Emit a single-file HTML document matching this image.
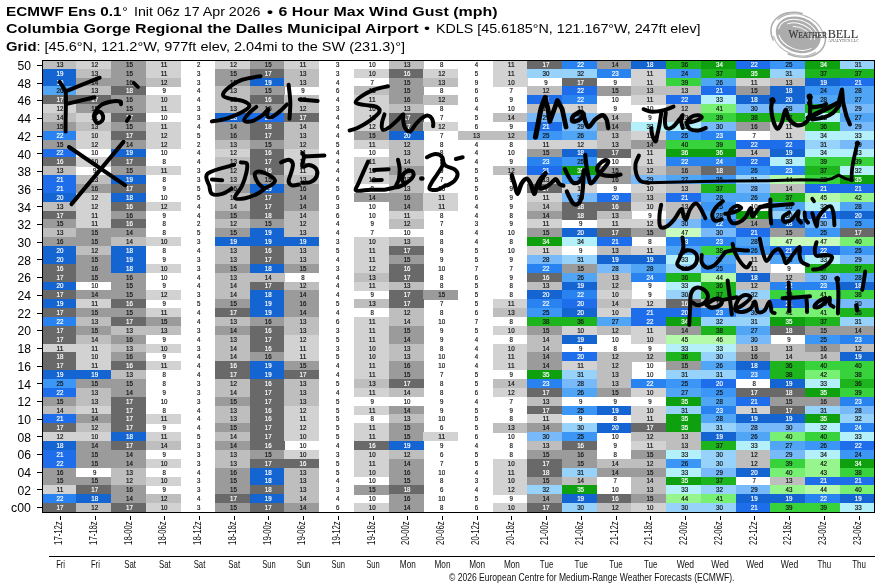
<!DOCTYPE html>
<html><head><meta charset="utf-8"><title>ECMWF Ens 6 Hour Max Wind Gust</title>
<style>html,body{margin:0;padding:0;background:#fff;overflow:hidden}body{width:883px;height:587px;font-family:"Liberation Sans",sans-serif}</style></head>
<body>
<svg width="883" height="587" viewBox="0 0 883 587" style="display:block;will-change:transform">
<rect width="883" height="587" fill="#fff"/>
<defs><clipPath id="gc"><rect x="42.5" y="60.5" width="832" height="452"/></clipPath></defs>
<g shape-rendering="crispEdges" clip-path="url(#gc)">
<rect x="41.40" y="59.90" width="35.01" height="9.16" fill="#bebebe"/>
<rect x="76.11" y="59.90" width="35.01" height="9.16" fill="#d2d2d2"/>
<rect x="110.82" y="59.90" width="35.01" height="9.16" fill="#9b9b9b"/>
<rect x="145.53" y="59.90" width="35.01" height="9.16" fill="#d2d2d2"/>
<rect x="214.95" y="59.90" width="35.01" height="9.16" fill="#d2d2d2"/>
<rect x="249.66" y="59.90" width="35.01" height="9.16" fill="#9b9b9b"/>
<rect x="284.37" y="59.90" width="35.01" height="9.16" fill="#d2d2d2"/>
<rect x="388.50" y="59.90" width="35.01" height="9.16" fill="#bebebe"/>
<rect x="492.63" y="59.90" width="35.01" height="9.16" fill="#d2d2d2"/>
<rect x="527.34" y="59.90" width="35.01" height="9.16" fill="#696969"/>
<rect x="562.05" y="59.90" width="35.01" height="9.16" fill="#2882f0"/>
<rect x="596.76" y="59.90" width="35.01" height="9.16" fill="#9b9b9b"/>
<rect x="631.47" y="59.90" width="35.01" height="9.16" fill="#1464d2"/>
<rect x="666.18" y="59.90" width="35.01" height="9.16" fill="#1eb41e"/>
<rect x="700.89" y="59.90" width="35.01" height="9.16" fill="#0fa00f"/>
<rect x="735.60" y="59.90" width="35.01" height="9.16" fill="#1e6eeb"/>
<rect x="770.31" y="59.90" width="35.01" height="9.16" fill="#3c96f5"/>
<rect x="805.02" y="59.90" width="35.01" height="9.16" fill="#0fa00f"/>
<rect x="839.73" y="59.90" width="35.01" height="9.16" fill="#96d2fa"/>
<rect x="41.40" y="68.76" width="35.01" height="9.16" fill="#1464d2"/>
<rect x="76.11" y="68.76" width="35.01" height="9.16" fill="#bebebe"/>
<rect x="110.82" y="68.76" width="35.01" height="9.16" fill="#9b9b9b"/>
<rect x="145.53" y="68.76" width="35.01" height="9.16" fill="#d2d2d2"/>
<rect x="214.95" y="68.76" width="35.01" height="9.16" fill="#9b9b9b"/>
<rect x="249.66" y="68.76" width="35.01" height="9.16" fill="#696969"/>
<rect x="284.37" y="68.76" width="35.01" height="9.16" fill="#bebebe"/>
<rect x="353.79" y="68.76" width="35.01" height="9.16" fill="#d2d2d2"/>
<rect x="388.50" y="68.76" width="35.01" height="9.16" fill="#696969"/>
<rect x="423.21" y="68.76" width="35.01" height="9.16" fill="#d2d2d2"/>
<rect x="492.63" y="68.76" width="35.01" height="9.16" fill="#d2d2d2"/>
<rect x="527.34" y="68.76" width="69.72" height="9.16" fill="#96d2fa"/>
<rect x="596.76" y="68.76" width="35.01" height="9.16" fill="#2882f0"/>
<rect x="631.47" y="68.76" width="35.01" height="9.16" fill="#d2d2d2"/>
<rect x="666.18" y="68.76" width="35.01" height="9.16" fill="#3c96f5"/>
<rect x="700.89" y="68.76" width="35.01" height="9.16" fill="#1eb41e"/>
<rect x="735.60" y="68.76" width="35.01" height="9.16" fill="#0fa00f"/>
<rect x="770.31" y="68.76" width="35.01" height="9.16" fill="#96d2fa"/>
<rect x="805.02" y="68.76" width="69.72" height="9.16" fill="#1eb41e"/>
<rect x="41.40" y="77.63" width="35.01" height="9.16" fill="#1464d2"/>
<rect x="76.11" y="77.63" width="69.72" height="9.16" fill="#9b9b9b"/>
<rect x="145.53" y="77.63" width="35.01" height="9.16" fill="#bebebe"/>
<rect x="214.95" y="77.63" width="35.01" height="9.16" fill="#9b9b9b"/>
<rect x="249.66" y="77.63" width="35.01" height="9.16" fill="#1464d2"/>
<rect x="284.37" y="77.63" width="35.01" height="9.16" fill="#bebebe"/>
<rect x="388.50" y="77.63" width="35.01" height="9.16" fill="#9b9b9b"/>
<rect x="423.21" y="77.63" width="35.01" height="9.16" fill="#bebebe"/>
<rect x="492.63" y="77.63" width="35.01" height="9.16" fill="#d2d2d2"/>
<rect x="562.05" y="77.63" width="35.01" height="9.16" fill="#696969"/>
<rect x="631.47" y="77.63" width="35.01" height="9.16" fill="#d2d2d2"/>
<rect x="666.18" y="77.63" width="35.01" height="9.16" fill="#37d23c"/>
<rect x="700.89" y="77.63" width="35.01" height="9.16" fill="#50a5f5"/>
<rect x="735.60" y="77.63" width="35.01" height="9.16" fill="#d2d2d2"/>
<rect x="770.31" y="77.63" width="35.01" height="9.16" fill="#bebebe"/>
<rect x="805.02" y="77.63" width="35.01" height="9.16" fill="#1464d2"/>
<rect x="839.73" y="77.63" width="35.01" height="9.16" fill="#1e6eeb"/>
<rect x="41.40" y="86.49" width="35.01" height="9.16" fill="#50a5f5"/>
<rect x="76.11" y="86.49" width="35.01" height="9.16" fill="#bebebe"/>
<rect x="110.82" y="86.49" width="35.01" height="9.16" fill="#696969"/>
<rect x="214.95" y="86.49" width="35.01" height="9.16" fill="#bebebe"/>
<rect x="249.66" y="86.49" width="35.01" height="9.16" fill="#9b9b9b"/>
<rect x="353.79" y="86.49" width="35.01" height="9.16" fill="#bebebe"/>
<rect x="388.50" y="86.49" width="35.01" height="9.16" fill="#9b9b9b"/>
<rect x="527.34" y="86.49" width="35.01" height="9.16" fill="#bebebe"/>
<rect x="562.05" y="86.49" width="35.01" height="9.16" fill="#1e6eeb"/>
<rect x="596.76" y="86.49" width="35.01" height="9.16" fill="#9b9b9b"/>
<rect x="631.47" y="86.49" width="69.72" height="9.16" fill="#bebebe"/>
<rect x="700.89" y="86.49" width="35.01" height="9.16" fill="#1e6eeb"/>
<rect x="735.60" y="86.49" width="35.01" height="9.16" fill="#9b9b9b"/>
<rect x="770.31" y="86.49" width="35.01" height="9.16" fill="#1464d2"/>
<rect x="805.02" y="86.49" width="35.01" height="9.16" fill="#3c96f5"/>
<rect x="839.73" y="86.49" width="35.01" height="9.16" fill="#50a5f5"/>
<rect x="41.40" y="95.36" width="69.72" height="9.16" fill="#696969"/>
<rect x="110.82" y="95.36" width="35.01" height="9.16" fill="#9b9b9b"/>
<rect x="145.53" y="95.36" width="35.01" height="9.16" fill="#d2d2d2"/>
<rect x="214.95" y="95.36" width="35.01" height="9.16" fill="#bebebe"/>
<rect x="249.66" y="95.36" width="35.01" height="9.16" fill="#696969"/>
<rect x="284.37" y="95.36" width="35.01" height="9.16" fill="#bebebe"/>
<rect x="353.79" y="95.36" width="35.01" height="9.16" fill="#d2d2d2"/>
<rect x="388.50" y="95.36" width="35.01" height="9.16" fill="#9b9b9b"/>
<rect x="423.21" y="95.36" width="35.01" height="9.16" fill="#bebebe"/>
<rect x="527.34" y="95.36" width="35.01" height="9.16" fill="#1e6eeb"/>
<rect x="562.05" y="95.36" width="35.01" height="9.16" fill="#2882f0"/>
<rect x="631.47" y="95.36" width="35.01" height="9.16" fill="#d2d2d2"/>
<rect x="666.18" y="95.36" width="35.01" height="9.16" fill="#1e6eeb"/>
<rect x="700.89" y="95.36" width="35.01" height="9.16" fill="#b4f0fa"/>
<rect x="735.60" y="95.36" width="69.72" height="9.16" fill="#1464d2"/>
<rect x="805.02" y="95.36" width="69.72" height="9.16" fill="#50a5f5"/>
<rect x="41.40" y="104.22" width="35.01" height="9.16" fill="#d2d2d2"/>
<rect x="76.11" y="104.22" width="69.72" height="9.16" fill="#9b9b9b"/>
<rect x="145.53" y="104.22" width="35.01" height="9.16" fill="#d2d2d2"/>
<rect x="214.95" y="104.22" width="35.01" height="9.16" fill="#bebebe"/>
<rect x="249.66" y="104.22" width="35.01" height="9.16" fill="#9b9b9b"/>
<rect x="284.37" y="104.22" width="35.01" height="9.16" fill="#bebebe"/>
<rect x="353.79" y="104.22" width="35.01" height="9.16" fill="#d2d2d2"/>
<rect x="388.50" y="104.22" width="35.01" height="9.16" fill="#bebebe"/>
<rect x="527.34" y="104.22" width="35.01" height="9.16" fill="#bebebe"/>
<rect x="562.05" y="104.22" width="35.01" height="9.16" fill="#d2d2d2"/>
<rect x="666.18" y="104.22" width="35.01" height="9.16" fill="#bebebe"/>
<rect x="700.89" y="104.22" width="35.01" height="9.16" fill="#78f073"/>
<rect x="735.60" y="104.22" width="69.72" height="9.16" fill="#78b9fa"/>
<rect x="805.02" y="104.22" width="35.01" height="9.16" fill="#1eb41e"/>
<rect x="839.73" y="104.22" width="35.01" height="9.16" fill="#78b9fa"/>
<rect x="41.40" y="113.09" width="35.01" height="9.16" fill="#bebebe"/>
<rect x="76.11" y="113.09" width="35.01" height="9.16" fill="#d2d2d2"/>
<rect x="110.82" y="113.09" width="35.01" height="9.16" fill="#696969"/>
<rect x="214.95" y="113.09" width="35.01" height="9.16" fill="#1464d2"/>
<rect x="249.66" y="113.09" width="35.01" height="9.16" fill="#1e6eeb"/>
<rect x="284.37" y="113.09" width="35.01" height="9.16" fill="#696969"/>
<rect x="353.79" y="113.09" width="35.01" height="9.16" fill="#d2d2d2"/>
<rect x="388.50" y="113.09" width="35.01" height="9.16" fill="#696969"/>
<rect x="492.63" y="113.09" width="35.01" height="9.16" fill="#bebebe"/>
<rect x="527.34" y="113.09" width="69.72" height="9.16" fill="#78b9fa"/>
<rect x="596.76" y="113.09" width="35.01" height="9.16" fill="#bebebe"/>
<rect x="666.18" y="113.09" width="35.01" height="9.16" fill="#bebebe"/>
<rect x="700.89" y="113.09" width="35.01" height="9.16" fill="#37d23c"/>
<rect x="735.60" y="113.09" width="69.72" height="9.16" fill="#1eb41e"/>
<rect x="805.02" y="113.09" width="35.01" height="9.16" fill="#b4f0fa"/>
<rect x="839.73" y="113.09" width="35.01" height="9.16" fill="#50a5f5"/>
<rect x="41.40" y="121.95" width="35.01" height="9.16" fill="#9b9b9b"/>
<rect x="76.11" y="121.95" width="35.01" height="9.16" fill="#bebebe"/>
<rect x="110.82" y="121.95" width="35.01" height="9.16" fill="#9b9b9b"/>
<rect x="145.53" y="121.95" width="35.01" height="9.16" fill="#d2d2d2"/>
<rect x="214.95" y="121.95" width="35.01" height="9.16" fill="#9b9b9b"/>
<rect x="249.66" y="121.95" width="35.01" height="9.16" fill="#696969"/>
<rect x="284.37" y="121.95" width="35.01" height="9.16" fill="#bebebe"/>
<rect x="353.79" y="121.95" width="35.01" height="9.16" fill="#d2d2d2"/>
<rect x="388.50" y="121.95" width="35.01" height="9.16" fill="#696969"/>
<rect x="423.21" y="121.95" width="35.01" height="9.16" fill="#d2d2d2"/>
<rect x="527.34" y="121.95" width="35.01" height="9.16" fill="#1e6eeb"/>
<rect x="562.05" y="121.95" width="35.01" height="9.16" fill="#78b9fa"/>
<rect x="596.76" y="121.95" width="35.01" height="9.16" fill="#9b9b9b"/>
<rect x="631.47" y="121.95" width="69.72" height="9.16" fill="#b4f0fa"/>
<rect x="700.89" y="121.95" width="35.01" height="9.16" fill="#78b9fa"/>
<rect x="735.60" y="121.95" width="35.01" height="9.16" fill="#9b9b9b"/>
<rect x="770.31" y="121.95" width="35.01" height="9.16" fill="#d2d2d2"/>
<rect x="805.02" y="121.95" width="35.01" height="9.16" fill="#1eb41e"/>
<rect x="839.73" y="121.95" width="35.01" height="9.16" fill="#78b9fa"/>
<rect x="41.40" y="130.82" width="35.01" height="9.16" fill="#2882f0"/>
<rect x="76.11" y="130.82" width="35.01" height="9.16" fill="#d2d2d2"/>
<rect x="110.82" y="130.82" width="35.01" height="9.16" fill="#696969"/>
<rect x="145.53" y="130.82" width="35.01" height="9.16" fill="#d2d2d2"/>
<rect x="214.95" y="130.82" width="35.01" height="9.16" fill="#9b9b9b"/>
<rect x="249.66" y="130.82" width="35.01" height="9.16" fill="#696969"/>
<rect x="284.37" y="130.82" width="35.01" height="9.16" fill="#bebebe"/>
<rect x="353.79" y="130.82" width="35.01" height="9.16" fill="#9b9b9b"/>
<rect x="388.50" y="130.82" width="35.01" height="9.16" fill="#1464d2"/>
<rect x="457.92" y="130.82" width="69.72" height="9.16" fill="#bebebe"/>
<rect x="527.34" y="130.82" width="35.01" height="9.16" fill="#3c96f5"/>
<rect x="562.05" y="130.82" width="35.01" height="9.16" fill="#50a5f5"/>
<rect x="596.76" y="130.82" width="35.01" height="9.16" fill="#bebebe"/>
<rect x="631.47" y="130.82" width="35.01" height="9.16" fill="#d2d2d2"/>
<rect x="666.18" y="130.82" width="35.01" height="9.16" fill="#3c96f5"/>
<rect x="700.89" y="130.82" width="35.01" height="9.16" fill="#2882f0"/>
<rect x="770.31" y="130.82" width="35.01" height="9.16" fill="#d2d2d2"/>
<rect x="805.02" y="130.82" width="69.72" height="9.16" fill="#b4f0fa"/>
<rect x="41.40" y="139.68" width="35.01" height="9.16" fill="#9b9b9b"/>
<rect x="76.11" y="139.68" width="35.01" height="9.16" fill="#d2d2d2"/>
<rect x="110.82" y="139.68" width="35.01" height="9.16" fill="#9b9b9b"/>
<rect x="145.53" y="139.68" width="35.01" height="9.16" fill="#d2d2d2"/>
<rect x="214.95" y="139.68" width="35.01" height="9.16" fill="#bebebe"/>
<rect x="249.66" y="139.68" width="35.01" height="9.16" fill="#9b9b9b"/>
<rect x="284.37" y="139.68" width="35.01" height="9.16" fill="#bebebe"/>
<rect x="353.79" y="139.68" width="35.01" height="9.16" fill="#d2d2d2"/>
<rect x="388.50" y="139.68" width="35.01" height="9.16" fill="#bebebe"/>
<rect x="527.34" y="139.68" width="69.72" height="9.16" fill="#d2d2d2"/>
<rect x="596.76" y="139.68" width="35.01" height="9.16" fill="#bebebe"/>
<rect x="631.47" y="139.68" width="35.01" height="9.16" fill="#9b9b9b"/>
<rect x="666.18" y="139.68" width="69.72" height="9.16" fill="#37d23c"/>
<rect x="735.60" y="139.68" width="69.72" height="9.16" fill="#1e6eeb"/>
<rect x="805.02" y="139.68" width="35.01" height="9.16" fill="#96d2fa"/>
<rect x="839.73" y="139.68" width="35.01" height="9.16" fill="#78b9fa"/>
<rect x="41.40" y="148.55" width="35.01" height="9.16" fill="#1e6eeb"/>
<rect x="110.82" y="148.55" width="35.01" height="9.16" fill="#1464d2"/>
<rect x="214.95" y="148.55" width="35.01" height="9.16" fill="#d2d2d2"/>
<rect x="249.66" y="148.55" width="35.01" height="9.16" fill="#696969"/>
<rect x="284.37" y="148.55" width="35.01" height="9.16" fill="#d2d2d2"/>
<rect x="388.50" y="148.55" width="35.01" height="9.16" fill="#bebebe"/>
<rect x="527.34" y="148.55" width="35.01" height="9.16" fill="#9b9b9b"/>
<rect x="562.05" y="148.55" width="35.01" height="9.16" fill="#1464d2"/>
<rect x="596.76" y="148.55" width="35.01" height="9.16" fill="#696969"/>
<rect x="631.47" y="148.55" width="35.01" height="9.16" fill="#d2d2d2"/>
<rect x="666.18" y="148.55" width="69.72" height="9.16" fill="#0fa00f"/>
<rect x="735.60" y="148.55" width="35.01" height="9.16" fill="#bebebe"/>
<rect x="770.31" y="148.55" width="35.01" height="9.16" fill="#1464d2"/>
<rect x="805.02" y="148.55" width="69.72" height="9.16" fill="#b4f0fa"/>
<rect x="41.40" y="157.41" width="35.01" height="9.16" fill="#696969"/>
<rect x="76.11" y="157.41" width="35.01" height="9.16" fill="#d2d2d2"/>
<rect x="110.82" y="157.41" width="35.01" height="9.16" fill="#696969"/>
<rect x="214.95" y="157.41" width="35.01" height="9.16" fill="#bebebe"/>
<rect x="249.66" y="157.41" width="35.01" height="9.16" fill="#696969"/>
<rect x="284.37" y="157.41" width="35.01" height="9.16" fill="#d2d2d2"/>
<rect x="353.79" y="157.41" width="35.01" height="9.16" fill="#d2d2d2"/>
<rect x="388.50" y="157.41" width="35.01" height="9.16" fill="#bebebe"/>
<rect x="527.34" y="157.41" width="35.01" height="9.16" fill="#2882f0"/>
<rect x="562.05" y="157.41" width="35.01" height="9.16" fill="#3c96f5"/>
<rect x="631.47" y="157.41" width="35.01" height="9.16" fill="#d2d2d2"/>
<rect x="666.18" y="157.41" width="69.72" height="9.16" fill="#2882f0"/>
<rect x="735.60" y="157.41" width="35.01" height="9.16" fill="#1e6eeb"/>
<rect x="770.31" y="157.41" width="35.01" height="9.16" fill="#b4f0fa"/>
<rect x="805.02" y="157.41" width="69.72" height="9.16" fill="#37d23c"/>
<rect x="41.40" y="166.28" width="35.01" height="9.16" fill="#bebebe"/>
<rect x="110.82" y="166.28" width="35.01" height="9.16" fill="#9b9b9b"/>
<rect x="145.53" y="166.28" width="35.01" height="9.16" fill="#d2d2d2"/>
<rect x="214.95" y="166.28" width="35.01" height="9.16" fill="#bebebe"/>
<rect x="249.66" y="166.28" width="35.01" height="9.16" fill="#696969"/>
<rect x="284.37" y="166.28" width="35.01" height="9.16" fill="#d2d2d2"/>
<rect x="353.79" y="166.28" width="35.01" height="9.16" fill="#d2d2d2"/>
<rect x="388.50" y="166.28" width="35.01" height="9.16" fill="#9b9b9b"/>
<rect x="492.63" y="166.28" width="35.01" height="9.16" fill="#bebebe"/>
<rect x="527.34" y="166.28" width="35.01" height="9.16" fill="#1e6eeb"/>
<rect x="562.05" y="166.28" width="35.01" height="9.16" fill="#0fa00f"/>
<rect x="596.76" y="166.28" width="35.01" height="9.16" fill="#9b9b9b"/>
<rect x="631.47" y="166.28" width="35.01" height="9.16" fill="#bebebe"/>
<rect x="666.18" y="166.28" width="35.01" height="9.16" fill="#9b9b9b"/>
<rect x="700.89" y="166.28" width="35.01" height="9.16" fill="#696969"/>
<rect x="735.60" y="166.28" width="35.01" height="9.16" fill="#3c96f5"/>
<rect x="770.31" y="166.28" width="35.01" height="9.16" fill="#2882f0"/>
<rect x="805.02" y="166.28" width="35.01" height="9.16" fill="#1eb41e"/>
<rect x="839.73" y="166.28" width="35.01" height="9.16" fill="#b4f0fa"/>
<rect x="41.40" y="175.14" width="35.01" height="9.16" fill="#1e6eeb"/>
<rect x="76.11" y="175.14" width="35.01" height="9.16" fill="#bebebe"/>
<rect x="110.82" y="175.14" width="35.01" height="9.16" fill="#1464d2"/>
<rect x="214.95" y="175.14" width="35.01" height="9.16" fill="#bebebe"/>
<rect x="249.66" y="175.14" width="35.01" height="9.16" fill="#9b9b9b"/>
<rect x="284.37" y="175.14" width="35.01" height="9.16" fill="#bebebe"/>
<rect x="353.79" y="175.14" width="35.01" height="9.16" fill="#d2d2d2"/>
<rect x="388.50" y="175.14" width="35.01" height="9.16" fill="#bebebe"/>
<rect x="527.34" y="175.14" width="35.01" height="9.16" fill="#bebebe"/>
<rect x="562.05" y="175.14" width="35.01" height="9.16" fill="#50a5f5"/>
<rect x="596.76" y="175.14" width="35.01" height="9.16" fill="#9b9b9b"/>
<rect x="631.47" y="175.14" width="35.01" height="9.16" fill="#78b9fa"/>
<rect x="666.18" y="175.14" width="35.01" height="9.16" fill="#50a5f5"/>
<rect x="700.89" y="175.14" width="35.01" height="9.16" fill="#3c96f5"/>
<rect x="735.60" y="175.14" width="35.01" height="9.16" fill="#96d2fa"/>
<rect x="770.31" y="175.14" width="35.01" height="9.16" fill="#b4faaa"/>
<rect x="805.02" y="175.14" width="35.01" height="9.16" fill="#37d23c"/>
<rect x="839.73" y="175.14" width="35.01" height="9.16" fill="#0fa00f"/>
<rect x="41.40" y="184.01" width="35.01" height="9.16" fill="#1e6eeb"/>
<rect x="76.11" y="184.01" width="35.01" height="9.16" fill="#9b9b9b"/>
<rect x="110.82" y="184.01" width="35.01" height="9.16" fill="#696969"/>
<rect x="214.95" y="184.01" width="35.01" height="9.16" fill="#9b9b9b"/>
<rect x="249.66" y="184.01" width="35.01" height="9.16" fill="#1464d2"/>
<rect x="284.37" y="184.01" width="35.01" height="9.16" fill="#9b9b9b"/>
<rect x="388.50" y="184.01" width="35.01" height="9.16" fill="#bebebe"/>
<rect x="527.34" y="184.01" width="35.01" height="9.16" fill="#696969"/>
<rect x="562.05" y="184.01" width="35.01" height="9.16" fill="#d2d2d2"/>
<rect x="631.47" y="184.01" width="35.01" height="9.16" fill="#d2d2d2"/>
<rect x="666.18" y="184.01" width="35.01" height="9.16" fill="#bebebe"/>
<rect x="700.89" y="184.01" width="35.01" height="9.16" fill="#1eb41e"/>
<rect x="735.60" y="184.01" width="35.01" height="9.16" fill="#78b9fa"/>
<rect x="770.31" y="184.01" width="35.01" height="9.16" fill="#bebebe"/>
<rect x="805.02" y="184.01" width="69.72" height="9.16" fill="#1e6eeb"/>
<rect x="41.40" y="192.87" width="35.01" height="9.16" fill="#1464d2"/>
<rect x="76.11" y="192.87" width="35.01" height="9.16" fill="#d2d2d2"/>
<rect x="110.82" y="192.87" width="35.01" height="9.16" fill="#1464d2"/>
<rect x="214.95" y="192.87" width="35.01" height="9.16" fill="#bebebe"/>
<rect x="249.66" y="192.87" width="35.01" height="9.16" fill="#696969"/>
<rect x="284.37" y="192.87" width="35.01" height="9.16" fill="#9b9b9b"/>
<rect x="353.79" y="192.87" width="69.72" height="9.16" fill="#9b9b9b"/>
<rect x="423.21" y="192.87" width="35.01" height="9.16" fill="#d2d2d2"/>
<rect x="527.34" y="192.87" width="35.01" height="9.16" fill="#d2d2d2"/>
<rect x="562.05" y="192.87" width="35.01" height="9.16" fill="#78b9fa"/>
<rect x="596.76" y="192.87" width="35.01" height="9.16" fill="#1e6eeb"/>
<rect x="631.47" y="192.87" width="35.01" height="9.16" fill="#bebebe"/>
<rect x="666.18" y="192.87" width="35.01" height="9.16" fill="#1e6eeb"/>
<rect x="700.89" y="192.87" width="69.72" height="9.16" fill="#50a5f5"/>
<rect x="770.31" y="192.87" width="35.01" height="9.16" fill="#1eb41e"/>
<rect x="805.02" y="192.87" width="35.01" height="9.16" fill="#b4faaa"/>
<rect x="839.73" y="192.87" width="35.01" height="9.16" fill="#96f58c"/>
<rect x="41.40" y="201.74" width="35.01" height="9.16" fill="#bebebe"/>
<rect x="76.11" y="201.74" width="35.01" height="9.16" fill="#d2d2d2"/>
<rect x="110.82" y="201.74" width="35.01" height="9.16" fill="#696969"/>
<rect x="145.53" y="201.74" width="35.01" height="9.16" fill="#d2d2d2"/>
<rect x="214.95" y="201.74" width="35.01" height="9.16" fill="#bebebe"/>
<rect x="249.66" y="201.74" width="35.01" height="9.16" fill="#696969"/>
<rect x="284.37" y="201.74" width="35.01" height="9.16" fill="#9b9b9b"/>
<rect x="388.50" y="201.74" width="35.01" height="9.16" fill="#9b9b9b"/>
<rect x="423.21" y="201.74" width="35.01" height="9.16" fill="#d2d2d2"/>
<rect x="527.34" y="201.74" width="35.01" height="9.16" fill="#bebebe"/>
<rect x="562.05" y="201.74" width="69.72" height="9.16" fill="#696969"/>
<rect x="631.47" y="201.74" width="35.01" height="9.16" fill="#d2d2d2"/>
<rect x="666.18" y="201.74" width="35.01" height="9.16" fill="#bebebe"/>
<rect x="700.89" y="201.74" width="35.01" height="9.16" fill="#3c96f5"/>
<rect x="770.31" y="201.74" width="35.01" height="9.16" fill="#50a5f5"/>
<rect x="805.02" y="201.74" width="35.01" height="9.16" fill="#b4f0fa"/>
<rect x="839.73" y="201.74" width="35.01" height="9.16" fill="#50a5f5"/>
<rect x="41.40" y="210.60" width="35.01" height="9.16" fill="#696969"/>
<rect x="76.11" y="210.60" width="35.01" height="9.16" fill="#d2d2d2"/>
<rect x="110.82" y="210.60" width="35.01" height="9.16" fill="#9b9b9b"/>
<rect x="214.95" y="210.60" width="35.01" height="9.16" fill="#9b9b9b"/>
<rect x="249.66" y="210.60" width="35.01" height="9.16" fill="#696969"/>
<rect x="284.37" y="210.60" width="35.01" height="9.16" fill="#bebebe"/>
<rect x="388.50" y="210.60" width="35.01" height="9.16" fill="#d2d2d2"/>
<rect x="527.34" y="210.60" width="35.01" height="9.16" fill="#9b9b9b"/>
<rect x="562.05" y="210.60" width="35.01" height="9.16" fill="#696969"/>
<rect x="596.76" y="210.60" width="35.01" height="9.16" fill="#bebebe"/>
<rect x="666.18" y="210.60" width="35.01" height="9.16" fill="#bebebe"/>
<rect x="700.89" y="210.60" width="35.01" height="9.16" fill="#50a5f5"/>
<rect x="735.60" y="210.60" width="35.01" height="9.16" fill="#0fa00f"/>
<rect x="770.31" y="210.60" width="35.01" height="9.16" fill="#96d2fa"/>
<rect x="805.02" y="210.60" width="35.01" height="9.16" fill="#1e6eeb"/>
<rect x="839.73" y="210.60" width="35.01" height="9.16" fill="#1464d2"/>
<rect x="41.40" y="219.46" width="35.01" height="9.16" fill="#9b9b9b"/>
<rect x="76.11" y="219.46" width="35.01" height="9.16" fill="#d2d2d2"/>
<rect x="110.82" y="219.46" width="35.01" height="9.16" fill="#696969"/>
<rect x="214.95" y="219.46" width="35.01" height="9.16" fill="#bebebe"/>
<rect x="249.66" y="219.46" width="35.01" height="9.16" fill="#9b9b9b"/>
<rect x="284.37" y="219.46" width="35.01" height="9.16" fill="#bebebe"/>
<rect x="388.50" y="219.46" width="35.01" height="9.16" fill="#bebebe"/>
<rect x="527.34" y="219.46" width="35.01" height="9.16" fill="#d2d2d2"/>
<rect x="596.76" y="219.46" width="69.72" height="9.16" fill="#d2d2d2"/>
<rect x="666.18" y="219.46" width="35.01" height="9.16" fill="#78b9fa"/>
<rect x="700.89" y="219.46" width="35.01" height="9.16" fill="#2882f0"/>
<rect x="735.60" y="219.46" width="35.01" height="9.16" fill="#9b9b9b"/>
<rect x="770.31" y="219.46" width="35.01" height="9.16" fill="#1464d2"/>
<rect x="805.02" y="219.46" width="35.01" height="9.16" fill="#78b9fa"/>
<rect x="839.73" y="219.46" width="35.01" height="9.16" fill="#3c96f5"/>
<rect x="41.40" y="228.33" width="35.01" height="9.16" fill="#bebebe"/>
<rect x="76.11" y="228.33" width="69.72" height="9.16" fill="#9b9b9b"/>
<rect x="214.95" y="228.33" width="35.01" height="9.16" fill="#9b9b9b"/>
<rect x="249.66" y="228.33" width="35.01" height="9.16" fill="#1464d2"/>
<rect x="284.37" y="228.33" width="35.01" height="9.16" fill="#bebebe"/>
<rect x="527.34" y="228.33" width="35.01" height="9.16" fill="#9b9b9b"/>
<rect x="562.05" y="228.33" width="35.01" height="9.16" fill="#1464d2"/>
<rect x="596.76" y="228.33" width="35.01" height="9.16" fill="#696969"/>
<rect x="631.47" y="228.33" width="35.01" height="9.16" fill="#9b9b9b"/>
<rect x="666.18" y="228.33" width="35.01" height="9.16" fill="#c8fcbe"/>
<rect x="700.89" y="228.33" width="35.01" height="9.16" fill="#78b9fa"/>
<rect x="735.60" y="228.33" width="35.01" height="9.16" fill="#1e6eeb"/>
<rect x="770.31" y="228.33" width="35.01" height="9.16" fill="#9b9b9b"/>
<rect x="805.02" y="228.33" width="35.01" height="9.16" fill="#3c96f5"/>
<rect x="839.73" y="228.33" width="35.01" height="9.16" fill="#696969"/>
<rect x="41.40" y="237.19" width="69.72" height="9.16" fill="#9b9b9b"/>
<rect x="110.82" y="237.19" width="35.01" height="9.16" fill="#bebebe"/>
<rect x="145.53" y="237.19" width="35.01" height="9.16" fill="#d2d2d2"/>
<rect x="214.95" y="237.19" width="104.43" height="9.16" fill="#1464d2"/>
<rect x="353.79" y="237.19" width="35.01" height="9.16" fill="#d2d2d2"/>
<rect x="388.50" y="237.19" width="35.01" height="9.16" fill="#bebebe"/>
<rect x="527.34" y="237.19" width="35.01" height="9.16" fill="#0fa00f"/>
<rect x="562.05" y="237.19" width="35.01" height="9.16" fill="#b4f0fa"/>
<rect x="596.76" y="237.19" width="35.01" height="9.16" fill="#1e6eeb"/>
<rect x="666.18" y="237.19" width="69.72" height="9.16" fill="#2882f0"/>
<rect x="735.60" y="237.19" width="35.01" height="9.16" fill="#50a5f5"/>
<rect x="770.31" y="237.19" width="69.72" height="9.16" fill="#c8fcbe"/>
<rect x="839.73" y="237.19" width="35.01" height="9.16" fill="#78f073"/>
<rect x="41.40" y="246.06" width="35.01" height="9.16" fill="#1464d2"/>
<rect x="76.11" y="246.06" width="35.01" height="9.16" fill="#bebebe"/>
<rect x="110.82" y="246.06" width="35.01" height="9.16" fill="#1464d2"/>
<rect x="214.95" y="246.06" width="35.01" height="9.16" fill="#bebebe"/>
<rect x="249.66" y="246.06" width="35.01" height="9.16" fill="#696969"/>
<rect x="284.37" y="246.06" width="35.01" height="9.16" fill="#bebebe"/>
<rect x="353.79" y="246.06" width="35.01" height="9.16" fill="#d2d2d2"/>
<rect x="388.50" y="246.06" width="35.01" height="9.16" fill="#696969"/>
<rect x="527.34" y="246.06" width="35.01" height="9.16" fill="#d2d2d2"/>
<rect x="596.76" y="246.06" width="35.01" height="9.16" fill="#bebebe"/>
<rect x="631.47" y="246.06" width="35.01" height="9.16" fill="#d2d2d2"/>
<rect x="666.18" y="246.06" width="35.01" height="9.16" fill="#50a5f5"/>
<rect x="700.89" y="246.06" width="35.01" height="9.16" fill="#37d23c"/>
<rect x="735.60" y="246.06" width="35.01" height="9.16" fill="#3c96f5"/>
<rect x="770.31" y="246.06" width="69.72" height="9.16" fill="#1e6eeb"/>
<rect x="839.73" y="246.06" width="35.01" height="9.16" fill="#3c96f5"/>
<rect x="41.40" y="254.92" width="35.01" height="9.16" fill="#1464d2"/>
<rect x="76.11" y="254.92" width="35.01" height="9.16" fill="#9b9b9b"/>
<rect x="110.82" y="254.92" width="35.01" height="9.16" fill="#1464d2"/>
<rect x="214.95" y="254.92" width="35.01" height="9.16" fill="#bebebe"/>
<rect x="249.66" y="254.92" width="35.01" height="9.16" fill="#696969"/>
<rect x="284.37" y="254.92" width="35.01" height="9.16" fill="#bebebe"/>
<rect x="353.79" y="254.92" width="35.01" height="9.16" fill="#d2d2d2"/>
<rect x="388.50" y="254.92" width="35.01" height="9.16" fill="#9b9b9b"/>
<rect x="527.34" y="254.92" width="35.01" height="9.16" fill="#78b9fa"/>
<rect x="562.05" y="254.92" width="35.01" height="9.16" fill="#96d2fa"/>
<rect x="596.76" y="254.92" width="69.72" height="9.16" fill="#1464d2"/>
<rect x="666.18" y="254.92" width="35.01" height="9.16" fill="#b4f0fa"/>
<rect x="700.89" y="254.92" width="35.01" height="9.16" fill="#50a5f5"/>
<rect x="735.60" y="254.92" width="35.01" height="9.16" fill="#d2d2d2"/>
<rect x="770.31" y="254.92" width="35.01" height="9.16" fill="#50a5f5"/>
<rect x="805.02" y="254.92" width="35.01" height="9.16" fill="#b4f0fa"/>
<rect x="839.73" y="254.92" width="35.01" height="9.16" fill="#78b9fa"/>
<rect x="41.40" y="263.79" width="35.01" height="9.16" fill="#696969"/>
<rect x="76.11" y="263.79" width="35.01" height="9.16" fill="#9b9b9b"/>
<rect x="110.82" y="263.79" width="35.01" height="9.16" fill="#1464d2"/>
<rect x="145.53" y="263.79" width="35.01" height="9.16" fill="#d2d2d2"/>
<rect x="214.95" y="263.79" width="35.01" height="9.16" fill="#9b9b9b"/>
<rect x="249.66" y="263.79" width="35.01" height="9.16" fill="#1464d2"/>
<rect x="284.37" y="263.79" width="35.01" height="9.16" fill="#9b9b9b"/>
<rect x="353.79" y="263.79" width="35.01" height="9.16" fill="#d2d2d2"/>
<rect x="388.50" y="263.79" width="35.01" height="9.16" fill="#696969"/>
<rect x="527.34" y="263.79" width="35.01" height="9.16" fill="#2882f0"/>
<rect x="562.05" y="263.79" width="35.01" height="9.16" fill="#9b9b9b"/>
<rect x="596.76" y="263.79" width="35.01" height="9.16" fill="#78b9fa"/>
<rect x="631.47" y="263.79" width="35.01" height="9.16" fill="#50a5f5"/>
<rect x="666.18" y="263.79" width="35.01" height="9.16" fill="#96d2fa"/>
<rect x="700.89" y="263.79" width="35.01" height="9.16" fill="#3c96f5"/>
<rect x="735.60" y="263.79" width="35.01" height="9.16" fill="#d2d2d2"/>
<rect x="805.02" y="263.79" width="69.72" height="9.16" fill="#1eb41e"/>
<rect x="41.40" y="272.65" width="35.01" height="9.16" fill="#696969"/>
<rect x="76.11" y="272.65" width="69.72" height="9.16" fill="#9b9b9b"/>
<rect x="214.95" y="272.65" width="69.72" height="9.16" fill="#bebebe"/>
<rect x="353.79" y="272.65" width="35.01" height="9.16" fill="#bebebe"/>
<rect x="388.50" y="272.65" width="35.01" height="9.16" fill="#696969"/>
<rect x="527.34" y="272.65" width="35.01" height="9.16" fill="#696969"/>
<rect x="562.05" y="272.65" width="35.01" height="9.16" fill="#50a5f5"/>
<rect x="596.76" y="272.65" width="35.01" height="9.16" fill="#bebebe"/>
<rect x="631.47" y="272.65" width="35.01" height="9.16" fill="#2882f0"/>
<rect x="666.18" y="272.65" width="35.01" height="9.16" fill="#1eb41e"/>
<rect x="700.89" y="272.65" width="35.01" height="9.16" fill="#b4faaa"/>
<rect x="735.60" y="272.65" width="35.01" height="9.16" fill="#1464d2"/>
<rect x="770.31" y="272.65" width="35.01" height="9.16" fill="#bebebe"/>
<rect x="805.02" y="272.65" width="35.01" height="9.16" fill="#78b9fa"/>
<rect x="839.73" y="272.65" width="35.01" height="9.16" fill="#50a5f5"/>
<rect x="41.40" y="281.52" width="35.01" height="9.16" fill="#1464d2"/>
<rect x="110.82" y="281.52" width="35.01" height="9.16" fill="#9b9b9b"/>
<rect x="214.95" y="281.52" width="35.01" height="9.16" fill="#bebebe"/>
<rect x="249.66" y="281.52" width="35.01" height="9.16" fill="#696969"/>
<rect x="284.37" y="281.52" width="35.01" height="9.16" fill="#bebebe"/>
<rect x="353.79" y="281.52" width="35.01" height="9.16" fill="#d2d2d2"/>
<rect x="388.50" y="281.52" width="35.01" height="9.16" fill="#bebebe"/>
<rect x="527.34" y="281.52" width="35.01" height="9.16" fill="#bebebe"/>
<rect x="562.05" y="281.52" width="35.01" height="9.16" fill="#1464d2"/>
<rect x="596.76" y="281.52" width="35.01" height="9.16" fill="#bebebe"/>
<rect x="666.18" y="281.52" width="35.01" height="9.16" fill="#b4f0fa"/>
<rect x="700.89" y="281.52" width="35.01" height="9.16" fill="#1eb41e"/>
<rect x="735.60" y="281.52" width="35.01" height="9.16" fill="#bebebe"/>
<rect x="770.31" y="281.52" width="69.72" height="9.16" fill="#2882f0"/>
<rect x="839.73" y="281.52" width="35.01" height="9.16" fill="#1464d2"/>
<rect x="41.40" y="290.38" width="35.01" height="9.16" fill="#696969"/>
<rect x="76.11" y="290.38" width="69.72" height="9.16" fill="#9b9b9b"/>
<rect x="145.53" y="290.38" width="35.01" height="9.16" fill="#d2d2d2"/>
<rect x="214.95" y="290.38" width="35.01" height="9.16" fill="#bebebe"/>
<rect x="249.66" y="290.38" width="35.01" height="9.16" fill="#1464d2"/>
<rect x="284.37" y="290.38" width="35.01" height="9.16" fill="#9b9b9b"/>
<rect x="388.50" y="290.38" width="35.01" height="9.16" fill="#696969"/>
<rect x="423.21" y="290.38" width="35.01" height="9.16" fill="#9b9b9b"/>
<rect x="527.34" y="290.38" width="35.01" height="9.16" fill="#1464d2"/>
<rect x="562.05" y="290.38" width="35.01" height="9.16" fill="#2882f0"/>
<rect x="596.76" y="290.38" width="35.01" height="9.16" fill="#d2d2d2"/>
<rect x="666.18" y="290.38" width="35.01" height="9.16" fill="#96d2fa"/>
<rect x="700.89" y="290.38" width="35.01" height="9.16" fill="#1eb41e"/>
<rect x="735.60" y="290.38" width="35.01" height="9.16" fill="#96d2fa"/>
<rect x="770.31" y="290.38" width="35.01" height="9.16" fill="#37d23c"/>
<rect x="805.02" y="290.38" width="35.01" height="9.16" fill="#78f073"/>
<rect x="839.73" y="290.38" width="35.01" height="9.16" fill="#37d23c"/>
<rect x="41.40" y="299.25" width="35.01" height="9.16" fill="#1464d2"/>
<rect x="76.11" y="299.25" width="35.01" height="9.16" fill="#d2d2d2"/>
<rect x="110.82" y="299.25" width="35.01" height="9.16" fill="#696969"/>
<rect x="214.95" y="299.25" width="35.01" height="9.16" fill="#9b9b9b"/>
<rect x="249.66" y="299.25" width="35.01" height="9.16" fill="#1464d2"/>
<rect x="284.37" y="299.25" width="35.01" height="9.16" fill="#9b9b9b"/>
<rect x="353.79" y="299.25" width="35.01" height="9.16" fill="#bebebe"/>
<rect x="388.50" y="299.25" width="35.01" height="9.16" fill="#696969"/>
<rect x="492.63" y="299.25" width="35.01" height="9.16" fill="#d2d2d2"/>
<rect x="527.34" y="299.25" width="35.01" height="9.16" fill="#2882f0"/>
<rect x="562.05" y="299.25" width="35.01" height="9.16" fill="#1e6eeb"/>
<rect x="596.76" y="299.25" width="35.01" height="9.16" fill="#bebebe"/>
<rect x="631.47" y="299.25" width="35.01" height="9.16" fill="#d2d2d2"/>
<rect x="666.18" y="299.25" width="35.01" height="9.16" fill="#696969"/>
<rect x="700.89" y="299.25" width="69.72" height="9.16" fill="#bebebe"/>
<rect x="770.31" y="299.25" width="35.01" height="9.16" fill="#1e6eeb"/>
<rect x="805.02" y="299.25" width="69.72" height="9.16" fill="#78b9fa"/>
<rect x="41.40" y="308.11" width="35.01" height="9.16" fill="#696969"/>
<rect x="76.11" y="308.11" width="69.72" height="9.16" fill="#9b9b9b"/>
<rect x="145.53" y="308.11" width="35.01" height="9.16" fill="#d2d2d2"/>
<rect x="214.95" y="308.11" width="35.01" height="9.16" fill="#696969"/>
<rect x="249.66" y="308.11" width="35.01" height="9.16" fill="#1464d2"/>
<rect x="284.37" y="308.11" width="35.01" height="9.16" fill="#9b9b9b"/>
<rect x="388.50" y="308.11" width="35.01" height="9.16" fill="#bebebe"/>
<rect x="492.63" y="308.11" width="35.01" height="9.16" fill="#bebebe"/>
<rect x="527.34" y="308.11" width="35.01" height="9.16" fill="#3c96f5"/>
<rect x="562.05" y="308.11" width="35.01" height="9.16" fill="#1464d2"/>
<rect x="596.76" y="308.11" width="35.01" height="9.16" fill="#d2d2d2"/>
<rect x="631.47" y="308.11" width="69.72" height="9.16" fill="#1e6eeb"/>
<rect x="700.89" y="308.11" width="35.01" height="9.16" fill="#2882f0"/>
<rect x="735.60" y="308.11" width="35.01" height="9.16" fill="#78b9fa"/>
<rect x="770.31" y="308.11" width="69.72" height="9.16" fill="#78f073"/>
<rect x="839.73" y="308.11" width="35.01" height="9.16" fill="#1eb41e"/>
<rect x="41.40" y="316.98" width="35.01" height="9.16" fill="#2882f0"/>
<rect x="76.11" y="316.98" width="35.01" height="9.16" fill="#bebebe"/>
<rect x="110.82" y="316.98" width="35.01" height="9.16" fill="#696969"/>
<rect x="145.53" y="316.98" width="35.01" height="9.16" fill="#9b9b9b"/>
<rect x="214.95" y="316.98" width="35.01" height="9.16" fill="#bebebe"/>
<rect x="249.66" y="316.98" width="35.01" height="9.16" fill="#9b9b9b"/>
<rect x="284.37" y="316.98" width="35.01" height="9.16" fill="#bebebe"/>
<rect x="353.79" y="316.98" width="35.01" height="9.16" fill="#d2d2d2"/>
<rect x="388.50" y="316.98" width="35.01" height="9.16" fill="#bebebe"/>
<rect x="527.34" y="316.98" width="69.72" height="9.16" fill="#1eb41e"/>
<rect x="596.76" y="316.98" width="35.01" height="9.16" fill="#50a5f5"/>
<rect x="631.47" y="316.98" width="35.01" height="9.16" fill="#1e6eeb"/>
<rect x="666.18" y="316.98" width="35.01" height="9.16" fill="#0fa00f"/>
<rect x="700.89" y="316.98" width="69.72" height="9.16" fill="#96d2fa"/>
<rect x="770.31" y="316.98" width="35.01" height="9.16" fill="#0fa00f"/>
<rect x="805.02" y="316.98" width="35.01" height="9.16" fill="#1eb41e"/>
<rect x="839.73" y="316.98" width="35.01" height="9.16" fill="#96d2fa"/>
<rect x="41.40" y="325.84" width="35.01" height="9.16" fill="#696969"/>
<rect x="76.11" y="325.84" width="35.01" height="9.16" fill="#9b9b9b"/>
<rect x="110.82" y="325.84" width="69.72" height="9.16" fill="#bebebe"/>
<rect x="214.95" y="325.84" width="35.01" height="9.16" fill="#9b9b9b"/>
<rect x="249.66" y="325.84" width="35.01" height="9.16" fill="#696969"/>
<rect x="284.37" y="325.84" width="35.01" height="9.16" fill="#bebebe"/>
<rect x="353.79" y="325.84" width="35.01" height="9.16" fill="#d2d2d2"/>
<rect x="388.50" y="325.84" width="35.01" height="9.16" fill="#9b9b9b"/>
<rect x="492.63" y="325.84" width="35.01" height="9.16" fill="#d2d2d2"/>
<rect x="527.34" y="325.84" width="35.01" height="9.16" fill="#9b9b9b"/>
<rect x="562.05" y="325.84" width="35.01" height="9.16" fill="#d2d2d2"/>
<rect x="596.76" y="325.84" width="35.01" height="9.16" fill="#bebebe"/>
<rect x="631.47" y="325.84" width="35.01" height="9.16" fill="#d2d2d2"/>
<rect x="666.18" y="325.84" width="35.01" height="9.16" fill="#9b9b9b"/>
<rect x="700.89" y="325.84" width="35.01" height="9.16" fill="#1eb41e"/>
<rect x="735.60" y="325.84" width="35.01" height="9.16" fill="#50a5f5"/>
<rect x="770.31" y="325.84" width="35.01" height="9.16" fill="#696969"/>
<rect x="805.02" y="325.84" width="69.72" height="9.16" fill="#9b9b9b"/>
<rect x="41.40" y="334.71" width="35.01" height="9.16" fill="#696969"/>
<rect x="76.11" y="334.71" width="35.01" height="9.16" fill="#bebebe"/>
<rect x="110.82" y="334.71" width="35.01" height="9.16" fill="#9b9b9b"/>
<rect x="214.95" y="334.71" width="35.01" height="9.16" fill="#bebebe"/>
<rect x="249.66" y="334.71" width="35.01" height="9.16" fill="#696969"/>
<rect x="284.37" y="334.71" width="35.01" height="9.16" fill="#d2d2d2"/>
<rect x="353.79" y="334.71" width="35.01" height="9.16" fill="#d2d2d2"/>
<rect x="388.50" y="334.71" width="35.01" height="9.16" fill="#9b9b9b"/>
<rect x="527.34" y="334.71" width="35.01" height="9.16" fill="#bebebe"/>
<rect x="562.05" y="334.71" width="35.01" height="9.16" fill="#1464d2"/>
<rect x="631.47" y="334.71" width="35.01" height="9.16" fill="#d2d2d2"/>
<rect x="666.18" y="334.71" width="69.72" height="9.16" fill="#b4faaa"/>
<rect x="735.60" y="334.71" width="35.01" height="9.16" fill="#78b9fa"/>
<rect x="805.02" y="334.71" width="35.01" height="9.16" fill="#3c96f5"/>
<rect x="839.73" y="334.71" width="35.01" height="9.16" fill="#2882f0"/>
<rect x="41.40" y="343.57" width="69.72" height="9.16" fill="#d2d2d2"/>
<rect x="110.82" y="343.57" width="35.01" height="9.16" fill="#bebebe"/>
<rect x="145.53" y="343.57" width="35.01" height="9.16" fill="#d2d2d2"/>
<rect x="214.95" y="343.57" width="35.01" height="9.16" fill="#bebebe"/>
<rect x="249.66" y="343.57" width="35.01" height="9.16" fill="#696969"/>
<rect x="284.37" y="343.57" width="35.01" height="9.16" fill="#d2d2d2"/>
<rect x="353.79" y="343.57" width="35.01" height="9.16" fill="#d2d2d2"/>
<rect x="388.50" y="343.57" width="35.01" height="9.16" fill="#bebebe"/>
<rect x="492.63" y="343.57" width="35.01" height="9.16" fill="#d2d2d2"/>
<rect x="527.34" y="343.57" width="35.01" height="9.16" fill="#bebebe"/>
<rect x="666.18" y="343.57" width="69.72" height="9.16" fill="#b4f0fa"/>
<rect x="735.60" y="343.57" width="69.72" height="9.16" fill="#bebebe"/>
<rect x="805.02" y="343.57" width="35.01" height="9.16" fill="#9b9b9b"/>
<rect x="839.73" y="343.57" width="35.01" height="9.16" fill="#bebebe"/>
<rect x="41.40" y="352.44" width="35.01" height="9.16" fill="#696969"/>
<rect x="76.11" y="352.44" width="35.01" height="9.16" fill="#d2d2d2"/>
<rect x="110.82" y="352.44" width="35.01" height="9.16" fill="#9b9b9b"/>
<rect x="214.95" y="352.44" width="35.01" height="9.16" fill="#bebebe"/>
<rect x="249.66" y="352.44" width="35.01" height="9.16" fill="#9b9b9b"/>
<rect x="284.37" y="352.44" width="35.01" height="9.16" fill="#d2d2d2"/>
<rect x="353.79" y="352.44" width="35.01" height="9.16" fill="#d2d2d2"/>
<rect x="388.50" y="352.44" width="35.01" height="9.16" fill="#bebebe"/>
<rect x="492.63" y="352.44" width="35.01" height="9.16" fill="#d2d2d2"/>
<rect x="527.34" y="352.44" width="35.01" height="9.16" fill="#9b9b9b"/>
<rect x="562.05" y="352.44" width="35.01" height="9.16" fill="#1e6eeb"/>
<rect x="596.76" y="352.44" width="69.72" height="9.16" fill="#bebebe"/>
<rect x="666.18" y="352.44" width="35.01" height="9.16" fill="#1eb41e"/>
<rect x="700.89" y="352.44" width="35.01" height="9.16" fill="#96d2fa"/>
<rect x="735.60" y="352.44" width="35.01" height="9.16" fill="#9b9b9b"/>
<rect x="770.31" y="352.44" width="69.72" height="9.16" fill="#bebebe"/>
<rect x="839.73" y="352.44" width="35.01" height="9.16" fill="#1464d2"/>
<rect x="41.40" y="361.30" width="35.01" height="9.16" fill="#696969"/>
<rect x="76.11" y="361.30" width="35.01" height="9.16" fill="#d2d2d2"/>
<rect x="110.82" y="361.30" width="35.01" height="9.16" fill="#696969"/>
<rect x="145.53" y="361.30" width="35.01" height="9.16" fill="#d2d2d2"/>
<rect x="214.95" y="361.30" width="35.01" height="9.16" fill="#696969"/>
<rect x="249.66" y="361.30" width="35.01" height="9.16" fill="#1464d2"/>
<rect x="284.37" y="361.30" width="35.01" height="9.16" fill="#9b9b9b"/>
<rect x="353.79" y="361.30" width="35.01" height="9.16" fill="#d2d2d2"/>
<rect x="388.50" y="361.30" width="35.01" height="9.16" fill="#9b9b9b"/>
<rect x="492.63" y="361.30" width="35.01" height="9.16" fill="#d2d2d2"/>
<rect x="527.34" y="361.30" width="35.01" height="9.16" fill="#9b9b9b"/>
<rect x="562.05" y="361.30" width="35.01" height="9.16" fill="#d2d2d2"/>
<rect x="596.76" y="361.30" width="35.01" height="9.16" fill="#bebebe"/>
<rect x="666.18" y="361.30" width="35.01" height="9.16" fill="#9b9b9b"/>
<rect x="700.89" y="361.30" width="35.01" height="9.16" fill="#50a5f5"/>
<rect x="735.60" y="361.30" width="35.01" height="9.16" fill="#1464d2"/>
<rect x="770.31" y="361.30" width="35.01" height="9.16" fill="#1eb41e"/>
<rect x="805.02" y="361.30" width="69.72" height="9.16" fill="#37d23c"/>
<rect x="41.40" y="370.16" width="69.72" height="9.16" fill="#1464d2"/>
<rect x="110.82" y="370.16" width="35.01" height="9.16" fill="#bebebe"/>
<rect x="214.95" y="370.16" width="35.01" height="9.16" fill="#696969"/>
<rect x="249.66" y="370.16" width="35.01" height="9.16" fill="#1464d2"/>
<rect x="284.37" y="370.16" width="35.01" height="9.16" fill="#696969"/>
<rect x="353.79" y="370.16" width="35.01" height="9.16" fill="#d2d2d2"/>
<rect x="388.50" y="370.16" width="35.01" height="9.16" fill="#9b9b9b"/>
<rect x="527.34" y="370.16" width="35.01" height="9.16" fill="#0fa00f"/>
<rect x="562.05" y="370.16" width="35.01" height="9.16" fill="#96d2fa"/>
<rect x="596.76" y="370.16" width="35.01" height="9.16" fill="#bebebe"/>
<rect x="666.18" y="370.16" width="69.72" height="9.16" fill="#96d2fa"/>
<rect x="735.60" y="370.16" width="35.01" height="9.16" fill="#2882f0"/>
<rect x="770.31" y="370.16" width="35.01" height="9.16" fill="#1eb41e"/>
<rect x="805.02" y="370.16" width="35.01" height="9.16" fill="#78f073"/>
<rect x="839.73" y="370.16" width="35.01" height="9.16" fill="#37d23c"/>
<rect x="41.40" y="379.03" width="35.01" height="9.16" fill="#3c96f5"/>
<rect x="76.11" y="379.03" width="69.72" height="9.16" fill="#9b9b9b"/>
<rect x="214.95" y="379.03" width="35.01" height="9.16" fill="#bebebe"/>
<rect x="249.66" y="379.03" width="35.01" height="9.16" fill="#696969"/>
<rect x="284.37" y="379.03" width="35.01" height="9.16" fill="#bebebe"/>
<rect x="353.79" y="379.03" width="35.01" height="9.16" fill="#bebebe"/>
<rect x="388.50" y="379.03" width="35.01" height="9.16" fill="#696969"/>
<rect x="492.63" y="379.03" width="35.01" height="9.16" fill="#bebebe"/>
<rect x="527.34" y="379.03" width="35.01" height="9.16" fill="#2882f0"/>
<rect x="562.05" y="379.03" width="35.01" height="9.16" fill="#78b9fa"/>
<rect x="596.76" y="379.03" width="35.01" height="9.16" fill="#bebebe"/>
<rect x="631.47" y="379.03" width="35.01" height="9.16" fill="#2882f0"/>
<rect x="666.18" y="379.03" width="35.01" height="9.16" fill="#3c96f5"/>
<rect x="700.89" y="379.03" width="35.01" height="9.16" fill="#1e6eeb"/>
<rect x="770.31" y="379.03" width="35.01" height="9.16" fill="#1464d2"/>
<rect x="805.02" y="379.03" width="35.01" height="9.16" fill="#b4f0fa"/>
<rect x="839.73" y="379.03" width="35.01" height="9.16" fill="#1eb41e"/>
<rect x="41.40" y="387.89" width="35.01" height="9.16" fill="#1e6eeb"/>
<rect x="76.11" y="387.89" width="35.01" height="9.16" fill="#bebebe"/>
<rect x="110.82" y="387.89" width="35.01" height="9.16" fill="#9b9b9b"/>
<rect x="214.95" y="387.89" width="35.01" height="9.16" fill="#bebebe"/>
<rect x="249.66" y="387.89" width="35.01" height="9.16" fill="#696969"/>
<rect x="284.37" y="387.89" width="35.01" height="9.16" fill="#bebebe"/>
<rect x="353.79" y="387.89" width="35.01" height="9.16" fill="#d2d2d2"/>
<rect x="388.50" y="387.89" width="35.01" height="9.16" fill="#bebebe"/>
<rect x="492.63" y="387.89" width="35.01" height="9.16" fill="#d2d2d2"/>
<rect x="527.34" y="387.89" width="35.01" height="9.16" fill="#696969"/>
<rect x="562.05" y="387.89" width="35.01" height="9.16" fill="#50a5f5"/>
<rect x="596.76" y="387.89" width="35.01" height="9.16" fill="#9b9b9b"/>
<rect x="631.47" y="387.89" width="35.01" height="9.16" fill="#d2d2d2"/>
<rect x="666.18" y="387.89" width="35.01" height="9.16" fill="#50a5f5"/>
<rect x="700.89" y="387.89" width="35.01" height="9.16" fill="#3c96f5"/>
<rect x="735.60" y="387.89" width="69.72" height="9.16" fill="#696969"/>
<rect x="805.02" y="387.89" width="35.01" height="9.16" fill="#0fa00f"/>
<rect x="839.73" y="387.89" width="35.01" height="9.16" fill="#37d23c"/>
<rect x="41.40" y="396.76" width="35.01" height="9.16" fill="#9b9b9b"/>
<rect x="76.11" y="396.76" width="35.01" height="9.16" fill="#bebebe"/>
<rect x="110.82" y="396.76" width="35.01" height="9.16" fill="#696969"/>
<rect x="214.95" y="396.76" width="35.01" height="9.16" fill="#9b9b9b"/>
<rect x="249.66" y="396.76" width="35.01" height="9.16" fill="#696969"/>
<rect x="284.37" y="396.76" width="35.01" height="9.16" fill="#bebebe"/>
<rect x="527.34" y="396.76" width="35.01" height="9.16" fill="#bebebe"/>
<rect x="666.18" y="396.76" width="35.01" height="9.16" fill="#0fa00f"/>
<rect x="700.89" y="396.76" width="35.01" height="9.16" fill="#50a5f5"/>
<rect x="735.60" y="396.76" width="35.01" height="9.16" fill="#1e6eeb"/>
<rect x="770.31" y="396.76" width="69.72" height="9.16" fill="#9b9b9b"/>
<rect x="839.73" y="396.76" width="35.01" height="9.16" fill="#2882f0"/>
<rect x="41.40" y="405.62" width="35.01" height="9.16" fill="#bebebe"/>
<rect x="76.11" y="405.62" width="35.01" height="9.16" fill="#d2d2d2"/>
<rect x="110.82" y="405.62" width="35.01" height="9.16" fill="#696969"/>
<rect x="214.95" y="405.62" width="35.01" height="9.16" fill="#bebebe"/>
<rect x="249.66" y="405.62" width="35.01" height="9.16" fill="#696969"/>
<rect x="284.37" y="405.62" width="35.01" height="9.16" fill="#d2d2d2"/>
<rect x="353.79" y="405.62" width="35.01" height="9.16" fill="#d2d2d2"/>
<rect x="388.50" y="405.62" width="35.01" height="9.16" fill="#9b9b9b"/>
<rect x="527.34" y="405.62" width="35.01" height="9.16" fill="#696969"/>
<rect x="562.05" y="405.62" width="35.01" height="9.16" fill="#3c96f5"/>
<rect x="596.76" y="405.62" width="35.01" height="9.16" fill="#1464d2"/>
<rect x="631.47" y="405.62" width="35.01" height="9.16" fill="#d2d2d2"/>
<rect x="666.18" y="405.62" width="35.01" height="9.16" fill="#96d2fa"/>
<rect x="700.89" y="405.62" width="35.01" height="9.16" fill="#2882f0"/>
<rect x="735.60" y="405.62" width="35.01" height="9.16" fill="#d2d2d2"/>
<rect x="770.31" y="405.62" width="35.01" height="9.16" fill="#696969"/>
<rect x="805.02" y="405.62" width="35.01" height="9.16" fill="#96d2fa"/>
<rect x="839.73" y="405.62" width="35.01" height="9.16" fill="#78b9fa"/>
<rect x="41.40" y="414.49" width="35.01" height="9.16" fill="#1e6eeb"/>
<rect x="76.11" y="414.49" width="35.01" height="9.16" fill="#9b9b9b"/>
<rect x="110.82" y="414.49" width="35.01" height="9.16" fill="#696969"/>
<rect x="145.53" y="414.49" width="35.01" height="9.16" fill="#d2d2d2"/>
<rect x="214.95" y="414.49" width="35.01" height="9.16" fill="#bebebe"/>
<rect x="249.66" y="414.49" width="35.01" height="9.16" fill="#696969"/>
<rect x="284.37" y="414.49" width="35.01" height="9.16" fill="#d2d2d2"/>
<rect x="388.50" y="414.49" width="35.01" height="9.16" fill="#bebebe"/>
<rect x="527.34" y="414.49" width="35.01" height="9.16" fill="#d2d2d2"/>
<rect x="631.47" y="414.49" width="35.01" height="9.16" fill="#d2d2d2"/>
<rect x="666.18" y="414.49" width="35.01" height="9.16" fill="#0fa00f"/>
<rect x="700.89" y="414.49" width="35.01" height="9.16" fill="#50a5f5"/>
<rect x="735.60" y="414.49" width="69.72" height="9.16" fill="#1464d2"/>
<rect x="805.02" y="414.49" width="35.01" height="9.16" fill="#0fa00f"/>
<rect x="839.73" y="414.49" width="35.01" height="9.16" fill="#96d2fa"/>
<rect x="41.40" y="423.35" width="35.01" height="9.16" fill="#696969"/>
<rect x="76.11" y="423.35" width="35.01" height="9.16" fill="#bebebe"/>
<rect x="110.82" y="423.35" width="35.01" height="9.16" fill="#696969"/>
<rect x="214.95" y="423.35" width="35.01" height="9.16" fill="#9b9b9b"/>
<rect x="249.66" y="423.35" width="35.01" height="9.16" fill="#696969"/>
<rect x="284.37" y="423.35" width="35.01" height="9.16" fill="#d2d2d2"/>
<rect x="353.79" y="423.35" width="35.01" height="9.16" fill="#d2d2d2"/>
<rect x="388.50" y="423.35" width="35.01" height="9.16" fill="#9b9b9b"/>
<rect x="492.63" y="423.35" width="35.01" height="9.16" fill="#bebebe"/>
<rect x="527.34" y="423.35" width="35.01" height="9.16" fill="#9b9b9b"/>
<rect x="562.05" y="423.35" width="35.01" height="9.16" fill="#96d2fa"/>
<rect x="596.76" y="423.35" width="35.01" height="9.16" fill="#1464d2"/>
<rect x="631.47" y="423.35" width="35.01" height="9.16" fill="#696969"/>
<rect x="666.18" y="423.35" width="35.01" height="9.16" fill="#0fa00f"/>
<rect x="700.89" y="423.35" width="35.01" height="9.16" fill="#96d2fa"/>
<rect x="735.60" y="423.35" width="69.72" height="9.16" fill="#78b9fa"/>
<rect x="805.02" y="423.35" width="35.01" height="9.16" fill="#b4f0fa"/>
<rect x="839.73" y="423.35" width="35.01" height="9.16" fill="#2882f0"/>
<rect x="41.40" y="432.22" width="69.72" height="9.16" fill="#d2d2d2"/>
<rect x="110.82" y="432.22" width="35.01" height="9.16" fill="#1464d2"/>
<rect x="145.53" y="432.22" width="35.01" height="9.16" fill="#d2d2d2"/>
<rect x="214.95" y="432.22" width="35.01" height="9.16" fill="#bebebe"/>
<rect x="249.66" y="432.22" width="35.01" height="9.16" fill="#696969"/>
<rect x="284.37" y="432.22" width="35.01" height="9.16" fill="#d2d2d2"/>
<rect x="353.79" y="432.22" width="35.01" height="9.16" fill="#d2d2d2"/>
<rect x="388.50" y="432.22" width="35.01" height="9.16" fill="#9b9b9b"/>
<rect x="423.21" y="432.22" width="35.01" height="9.16" fill="#d2d2d2"/>
<rect x="527.34" y="432.22" width="35.01" height="9.16" fill="#78b9fa"/>
<rect x="562.05" y="432.22" width="35.01" height="9.16" fill="#3c96f5"/>
<rect x="631.47" y="432.22" width="69.72" height="9.16" fill="#bebebe"/>
<rect x="700.89" y="432.22" width="35.01" height="9.16" fill="#1464d2"/>
<rect x="735.60" y="432.22" width="35.01" height="9.16" fill="#50a5f5"/>
<rect x="770.31" y="432.22" width="35.01" height="9.16" fill="#78f073"/>
<rect x="805.02" y="432.22" width="35.01" height="9.16" fill="#37d23c"/>
<rect x="839.73" y="432.22" width="35.01" height="9.16" fill="#b4f0fa"/>
<rect x="41.40" y="441.08" width="35.01" height="9.16" fill="#1464d2"/>
<rect x="76.11" y="441.08" width="35.01" height="9.16" fill="#9b9b9b"/>
<rect x="110.82" y="441.08" width="35.01" height="9.16" fill="#696969"/>
<rect x="145.53" y="441.08" width="35.01" height="9.16" fill="#bebebe"/>
<rect x="214.95" y="441.08" width="35.01" height="9.16" fill="#9b9b9b"/>
<rect x="249.66" y="441.08" width="35.01" height="9.16" fill="#696969"/>
<rect x="353.79" y="441.08" width="35.01" height="9.16" fill="#696969"/>
<rect x="388.50" y="441.08" width="35.01" height="9.16" fill="#1464d2"/>
<rect x="527.34" y="441.08" width="35.01" height="9.16" fill="#bebebe"/>
<rect x="562.05" y="441.08" width="35.01" height="9.16" fill="#696969"/>
<rect x="631.47" y="441.08" width="35.01" height="9.16" fill="#d2d2d2"/>
<rect x="666.18" y="441.08" width="35.01" height="9.16" fill="#bebebe"/>
<rect x="700.89" y="441.08" width="35.01" height="9.16" fill="#1eb41e"/>
<rect x="735.60" y="441.08" width="35.01" height="9.16" fill="#b4f0fa"/>
<rect x="770.31" y="441.08" width="35.01" height="9.16" fill="#50a5f5"/>
<rect x="805.02" y="441.08" width="35.01" height="9.16" fill="#3c96f5"/>
<rect x="839.73" y="441.08" width="35.01" height="9.16" fill="#1e6eeb"/>
<rect x="41.40" y="449.95" width="35.01" height="9.16" fill="#1e6eeb"/>
<rect x="76.11" y="449.95" width="69.72" height="9.16" fill="#9b9b9b"/>
<rect x="214.95" y="449.95" width="35.01" height="9.16" fill="#bebebe"/>
<rect x="249.66" y="449.95" width="35.01" height="9.16" fill="#9b9b9b"/>
<rect x="284.37" y="449.95" width="35.01" height="9.16" fill="#d2d2d2"/>
<rect x="353.79" y="449.95" width="35.01" height="9.16" fill="#d2d2d2"/>
<rect x="388.50" y="449.95" width="35.01" height="9.16" fill="#bebebe"/>
<rect x="527.34" y="449.95" width="69.72" height="9.16" fill="#9b9b9b"/>
<rect x="631.47" y="449.95" width="35.01" height="9.16" fill="#9b9b9b"/>
<rect x="666.18" y="449.95" width="35.01" height="9.16" fill="#b4f0fa"/>
<rect x="700.89" y="449.95" width="35.01" height="9.16" fill="#96d2fa"/>
<rect x="735.60" y="449.95" width="35.01" height="9.16" fill="#bebebe"/>
<rect x="770.31" y="449.95" width="35.01" height="9.16" fill="#78b9fa"/>
<rect x="805.02" y="449.95" width="35.01" height="9.16" fill="#b4f0fa"/>
<rect x="839.73" y="449.95" width="35.01" height="9.16" fill="#3c96f5"/>
<rect x="41.40" y="458.81" width="35.01" height="9.16" fill="#1e6eeb"/>
<rect x="76.11" y="458.81" width="69.72" height="9.16" fill="#9b9b9b"/>
<rect x="145.53" y="458.81" width="35.01" height="9.16" fill="#d2d2d2"/>
<rect x="214.95" y="458.81" width="35.01" height="9.16" fill="#bebebe"/>
<rect x="249.66" y="458.81" width="69.72" height="9.16" fill="#696969"/>
<rect x="353.79" y="458.81" width="35.01" height="9.16" fill="#d2d2d2"/>
<rect x="388.50" y="458.81" width="35.01" height="9.16" fill="#9b9b9b"/>
<rect x="492.63" y="458.81" width="35.01" height="9.16" fill="#d2d2d2"/>
<rect x="527.34" y="458.81" width="35.01" height="9.16" fill="#696969"/>
<rect x="562.05" y="458.81" width="35.01" height="9.16" fill="#9b9b9b"/>
<rect x="596.76" y="458.81" width="69.72" height="9.16" fill="#bebebe"/>
<rect x="666.18" y="458.81" width="35.01" height="9.16" fill="#3c96f5"/>
<rect x="700.89" y="458.81" width="35.01" height="9.16" fill="#96d2fa"/>
<rect x="735.60" y="458.81" width="35.01" height="9.16" fill="#bebebe"/>
<rect x="770.31" y="458.81" width="35.01" height="9.16" fill="#37d23c"/>
<rect x="805.02" y="458.81" width="35.01" height="9.16" fill="#96f58c"/>
<rect x="839.73" y="458.81" width="35.01" height="9.16" fill="#0fa00f"/>
<rect x="41.40" y="467.68" width="35.01" height="9.16" fill="#9b9b9b"/>
<rect x="110.82" y="467.68" width="35.01" height="9.16" fill="#bebebe"/>
<rect x="214.95" y="467.68" width="35.01" height="9.16" fill="#9b9b9b"/>
<rect x="249.66" y="467.68" width="35.01" height="9.16" fill="#1464d2"/>
<rect x="284.37" y="467.68" width="35.01" height="9.16" fill="#bebebe"/>
<rect x="353.79" y="467.68" width="35.01" height="9.16" fill="#d2d2d2"/>
<rect x="388.50" y="467.68" width="35.01" height="9.16" fill="#9b9b9b"/>
<rect x="492.63" y="467.68" width="35.01" height="9.16" fill="#d2d2d2"/>
<rect x="527.34" y="467.68" width="35.01" height="9.16" fill="#696969"/>
<rect x="562.05" y="467.68" width="35.01" height="9.16" fill="#96d2fa"/>
<rect x="596.76" y="467.68" width="69.72" height="9.16" fill="#9b9b9b"/>
<rect x="666.18" y="467.68" width="35.01" height="9.16" fill="#b4f0fa"/>
<rect x="700.89" y="467.68" width="35.01" height="9.16" fill="#78b9fa"/>
<rect x="735.60" y="467.68" width="35.01" height="9.16" fill="#1464d2"/>
<rect x="770.31" y="467.68" width="35.01" height="9.16" fill="#78f073"/>
<rect x="805.02" y="467.68" width="35.01" height="9.16" fill="#96f58c"/>
<rect x="839.73" y="467.68" width="35.01" height="9.16" fill="#37d23c"/>
<rect x="41.40" y="476.54" width="69.72" height="9.16" fill="#9b9b9b"/>
<rect x="110.82" y="476.54" width="35.01" height="9.16" fill="#bebebe"/>
<rect x="145.53" y="476.54" width="35.01" height="9.16" fill="#d2d2d2"/>
<rect x="214.95" y="476.54" width="35.01" height="9.16" fill="#9b9b9b"/>
<rect x="249.66" y="476.54" width="35.01" height="9.16" fill="#1464d2"/>
<rect x="284.37" y="476.54" width="35.01" height="9.16" fill="#bebebe"/>
<rect x="388.50" y="476.54" width="35.01" height="9.16" fill="#9b9b9b"/>
<rect x="492.63" y="476.54" width="35.01" height="9.16" fill="#d2d2d2"/>
<rect x="527.34" y="476.54" width="35.01" height="9.16" fill="#9b9b9b"/>
<rect x="562.05" y="476.54" width="35.01" height="9.16" fill="#bebebe"/>
<rect x="631.47" y="476.54" width="35.01" height="9.16" fill="#bebebe"/>
<rect x="666.18" y="476.54" width="35.01" height="9.16" fill="#0fa00f"/>
<rect x="700.89" y="476.54" width="35.01" height="9.16" fill="#1eb41e"/>
<rect x="770.31" y="476.54" width="35.01" height="9.16" fill="#bebebe"/>
<rect x="805.02" y="476.54" width="69.72" height="9.16" fill="#1e6eeb"/>
<rect x="41.40" y="485.41" width="35.01" height="9.16" fill="#d2d2d2"/>
<rect x="76.11" y="485.41" width="35.01" height="9.16" fill="#696969"/>
<rect x="110.82" y="485.41" width="35.01" height="9.16" fill="#9b9b9b"/>
<rect x="214.95" y="485.41" width="35.01" height="9.16" fill="#9b9b9b"/>
<rect x="249.66" y="485.41" width="35.01" height="9.16" fill="#696969"/>
<rect x="284.37" y="485.41" width="35.01" height="9.16" fill="#bebebe"/>
<rect x="353.79" y="485.41" width="35.01" height="9.16" fill="#9b9b9b"/>
<rect x="388.50" y="485.41" width="35.01" height="9.16" fill="#696969"/>
<rect x="492.63" y="485.41" width="35.01" height="9.16" fill="#d2d2d2"/>
<rect x="527.34" y="485.41" width="35.01" height="9.16" fill="#96d2fa"/>
<rect x="562.05" y="485.41" width="35.01" height="9.16" fill="#0fa00f"/>
<rect x="631.47" y="485.41" width="35.01" height="9.16" fill="#bebebe"/>
<rect x="666.18" y="485.41" width="35.01" height="9.16" fill="#b4f0fa"/>
<rect x="700.89" y="485.41" width="35.01" height="9.16" fill="#96d2fa"/>
<rect x="735.60" y="485.41" width="35.01" height="9.16" fill="#78b9fa"/>
<rect x="770.31" y="485.41" width="35.01" height="9.16" fill="#96f58c"/>
<rect x="805.02" y="485.41" width="35.01" height="9.16" fill="#b4faaa"/>
<rect x="839.73" y="485.41" width="35.01" height="9.16" fill="#78f073"/>
<rect x="41.40" y="494.27" width="35.01" height="9.16" fill="#2882f0"/>
<rect x="76.11" y="494.27" width="35.01" height="9.16" fill="#1464d2"/>
<rect x="110.82" y="494.27" width="35.01" height="9.16" fill="#9b9b9b"/>
<rect x="145.53" y="494.27" width="35.01" height="9.16" fill="#bebebe"/>
<rect x="214.95" y="494.27" width="35.01" height="9.16" fill="#696969"/>
<rect x="249.66" y="494.27" width="35.01" height="9.16" fill="#1464d2"/>
<rect x="284.37" y="494.27" width="35.01" height="9.16" fill="#bebebe"/>
<rect x="388.50" y="494.27" width="35.01" height="9.16" fill="#9b9b9b"/>
<rect x="527.34" y="494.27" width="35.01" height="9.16" fill="#9b9b9b"/>
<rect x="562.05" y="494.27" width="35.01" height="9.16" fill="#1464d2"/>
<rect x="596.76" y="494.27" width="35.01" height="9.16" fill="#696969"/>
<rect x="631.47" y="494.27" width="35.01" height="9.16" fill="#9b9b9b"/>
<rect x="666.18" y="494.27" width="35.01" height="9.16" fill="#96f58c"/>
<rect x="700.89" y="494.27" width="35.01" height="9.16" fill="#78f073"/>
<rect x="735.60" y="494.27" width="69.72" height="9.16" fill="#1464d2"/>
<rect x="805.02" y="494.27" width="35.01" height="9.16" fill="#2882f0"/>
<rect x="839.73" y="494.27" width="35.01" height="9.16" fill="#1464d2"/>
<rect x="41.40" y="503.14" width="35.01" height="9.16" fill="#696969"/>
<rect x="76.11" y="503.14" width="35.01" height="9.16" fill="#bebebe"/>
<rect x="110.82" y="503.14" width="35.01" height="9.16" fill="#696969"/>
<rect x="145.53" y="503.14" width="35.01" height="9.16" fill="#d2d2d2"/>
<rect x="214.95" y="503.14" width="35.01" height="9.16" fill="#9b9b9b"/>
<rect x="249.66" y="503.14" width="35.01" height="9.16" fill="#696969"/>
<rect x="284.37" y="503.14" width="35.01" height="9.16" fill="#9b9b9b"/>
<rect x="353.79" y="503.14" width="35.01" height="9.16" fill="#d2d2d2"/>
<rect x="388.50" y="503.14" width="35.01" height="9.16" fill="#9b9b9b"/>
<rect x="492.63" y="503.14" width="35.01" height="9.16" fill="#d2d2d2"/>
<rect x="527.34" y="503.14" width="35.01" height="9.16" fill="#696969"/>
<rect x="562.05" y="503.14" width="35.01" height="9.16" fill="#96d2fa"/>
<rect x="596.76" y="503.14" width="35.01" height="9.16" fill="#bebebe"/>
<rect x="631.47" y="503.14" width="35.01" height="9.16" fill="#d2d2d2"/>
<rect x="666.18" y="503.14" width="69.72" height="9.16" fill="#96d2fa"/>
<rect x="735.60" y="503.14" width="35.01" height="9.16" fill="#1e6eeb"/>
<rect x="770.31" y="503.14" width="69.72" height="9.16" fill="#37d23c"/>
<rect x="839.73" y="503.14" width="35.01" height="9.16" fill="#b4f0fa"/>
</g>
<g font-family="Liberation Sans, sans-serif" font-size="6.8" text-anchor="middle" stroke-width="0.18">
<text x="60.0" y="66.8" fill="#111" stroke="#111" textLength="6.9" lengthAdjust="spacingAndGlyphs">13</text>
<text x="94.7" y="66.8" fill="#111" stroke="#111" textLength="6.9" lengthAdjust="spacingAndGlyphs">12</text>
<text x="129.4" y="66.8" fill="#111" stroke="#111" textLength="6.9" lengthAdjust="spacingAndGlyphs">15</text>
<text x="164.1" y="66.8" fill="#111" stroke="#111" textLength="6.9" lengthAdjust="spacingAndGlyphs">11</text>
<text x="198.8" y="66.8" fill="#111" stroke="#111" textLength="3.4" lengthAdjust="spacingAndGlyphs">2</text>
<text x="233.5" y="66.8" fill="#111" stroke="#111" textLength="6.9" lengthAdjust="spacingAndGlyphs">12</text>
<text x="268.2" y="66.8" fill="#111" stroke="#111" textLength="6.9" lengthAdjust="spacingAndGlyphs">15</text>
<text x="302.9" y="66.8" fill="#111" stroke="#111" textLength="6.9" lengthAdjust="spacingAndGlyphs">11</text>
<text x="337.6" y="66.8" fill="#111" stroke="#111" textLength="3.4" lengthAdjust="spacingAndGlyphs">3</text>
<text x="372.3" y="66.8" fill="#111" stroke="#111" textLength="6.9" lengthAdjust="spacingAndGlyphs">10</text>
<text x="407.1" y="66.8" fill="#111" stroke="#111" textLength="6.9" lengthAdjust="spacingAndGlyphs">13</text>
<text x="441.8" y="66.8" fill="#111" stroke="#111" textLength="3.4" lengthAdjust="spacingAndGlyphs">8</text>
<text x="476.5" y="66.8" fill="#111" stroke="#111" textLength="3.4" lengthAdjust="spacingAndGlyphs">4</text>
<text x="511.2" y="66.8" fill="#111" stroke="#111" textLength="6.9" lengthAdjust="spacingAndGlyphs">11</text>
<text x="545.9" y="66.8" fill="#fff" stroke="#fff" textLength="6.9" lengthAdjust="spacingAndGlyphs">17</text>
<text x="580.6" y="66.8" fill="#fff" stroke="#fff" textLength="6.9" lengthAdjust="spacingAndGlyphs">22</text>
<text x="615.3" y="66.8" fill="#111" stroke="#111" textLength="6.9" lengthAdjust="spacingAndGlyphs">14</text>
<text x="650.0" y="66.8" fill="#fff" stroke="#fff" textLength="6.9" lengthAdjust="spacingAndGlyphs">18</text>
<text x="684.7" y="66.8" fill="#111" stroke="#111" textLength="6.9" lengthAdjust="spacingAndGlyphs">36</text>
<text x="719.4" y="66.8" fill="#fff" stroke="#fff" textLength="6.9" lengthAdjust="spacingAndGlyphs">34</text>
<text x="754.2" y="66.8" fill="#fff" stroke="#fff" textLength="6.9" lengthAdjust="spacingAndGlyphs">22</text>
<text x="788.9" y="66.8" fill="#111" stroke="#111" textLength="6.9" lengthAdjust="spacingAndGlyphs">25</text>
<text x="823.6" y="66.8" fill="#fff" stroke="#fff" textLength="6.9" lengthAdjust="spacingAndGlyphs">34</text>
<text x="858.3" y="66.8" fill="#111" stroke="#111" textLength="6.9" lengthAdjust="spacingAndGlyphs">31</text>
<text x="60.0" y="75.6" fill="#fff" stroke="#fff" textLength="6.9" lengthAdjust="spacingAndGlyphs">19</text>
<text x="94.7" y="75.6" fill="#111" stroke="#111" textLength="6.9" lengthAdjust="spacingAndGlyphs">13</text>
<text x="129.4" y="75.6" fill="#111" stroke="#111" textLength="6.9" lengthAdjust="spacingAndGlyphs">15</text>
<text x="164.1" y="75.6" fill="#111" stroke="#111" textLength="6.9" lengthAdjust="spacingAndGlyphs">11</text>
<text x="198.8" y="75.6" fill="#111" stroke="#111" textLength="3.4" lengthAdjust="spacingAndGlyphs">3</text>
<text x="233.5" y="75.6" fill="#111" stroke="#111" textLength="6.9" lengthAdjust="spacingAndGlyphs">15</text>
<text x="268.2" y="75.6" fill="#fff" stroke="#fff" textLength="6.9" lengthAdjust="spacingAndGlyphs">17</text>
<text x="302.9" y="75.6" fill="#111" stroke="#111" textLength="6.9" lengthAdjust="spacingAndGlyphs">13</text>
<text x="337.6" y="75.6" fill="#111" stroke="#111" textLength="3.4" lengthAdjust="spacingAndGlyphs">3</text>
<text x="372.3" y="75.6" fill="#111" stroke="#111" textLength="6.9" lengthAdjust="spacingAndGlyphs">10</text>
<text x="407.1" y="75.6" fill="#fff" stroke="#fff" textLength="6.9" lengthAdjust="spacingAndGlyphs">16</text>
<text x="441.8" y="75.6" fill="#111" stroke="#111" textLength="6.9" lengthAdjust="spacingAndGlyphs">12</text>
<text x="476.5" y="75.6" fill="#111" stroke="#111" textLength="3.4" lengthAdjust="spacingAndGlyphs">5</text>
<text x="511.2" y="75.6" fill="#111" stroke="#111" textLength="6.9" lengthAdjust="spacingAndGlyphs">11</text>
<text x="545.9" y="75.6" fill="#111" stroke="#111" textLength="6.9" lengthAdjust="spacingAndGlyphs">30</text>
<text x="580.6" y="75.6" fill="#111" stroke="#111" textLength="6.9" lengthAdjust="spacingAndGlyphs">32</text>
<text x="615.3" y="75.6" fill="#fff" stroke="#fff" textLength="6.9" lengthAdjust="spacingAndGlyphs">23</text>
<text x="650.0" y="75.6" fill="#111" stroke="#111" textLength="6.9" lengthAdjust="spacingAndGlyphs">11</text>
<text x="684.7" y="75.6" fill="#111" stroke="#111" textLength="6.9" lengthAdjust="spacingAndGlyphs">24</text>
<text x="719.4" y="75.6" fill="#111" stroke="#111" textLength="6.9" lengthAdjust="spacingAndGlyphs">37</text>
<text x="754.2" y="75.6" fill="#fff" stroke="#fff" textLength="6.9" lengthAdjust="spacingAndGlyphs">35</text>
<text x="788.9" y="75.6" fill="#111" stroke="#111" textLength="6.9" lengthAdjust="spacingAndGlyphs">31</text>
<text x="823.6" y="75.6" fill="#111" stroke="#111" textLength="6.9" lengthAdjust="spacingAndGlyphs">37</text>
<text x="858.3" y="75.6" fill="#111" stroke="#111" textLength="6.9" lengthAdjust="spacingAndGlyphs">37</text>
<text x="60.0" y="84.5" fill="#fff" stroke="#fff" textLength="6.9" lengthAdjust="spacingAndGlyphs">19</text>
<text x="94.7" y="84.5" fill="#111" stroke="#111" textLength="6.9" lengthAdjust="spacingAndGlyphs">14</text>
<text x="129.4" y="84.5" fill="#111" stroke="#111" textLength="6.9" lengthAdjust="spacingAndGlyphs">16</text>
<text x="164.1" y="84.5" fill="#111" stroke="#111" textLength="6.9" lengthAdjust="spacingAndGlyphs">12</text>
<text x="198.8" y="84.5" fill="#111" stroke="#111" textLength="3.4" lengthAdjust="spacingAndGlyphs">3</text>
<text x="233.5" y="84.5" fill="#111" stroke="#111" textLength="6.9" lengthAdjust="spacingAndGlyphs">15</text>
<text x="268.2" y="84.5" fill="#fff" stroke="#fff" textLength="6.9" lengthAdjust="spacingAndGlyphs">19</text>
<text x="302.9" y="84.5" fill="#111" stroke="#111" textLength="6.9" lengthAdjust="spacingAndGlyphs">13</text>
<text x="337.6" y="84.5" fill="#111" stroke="#111" textLength="3.4" lengthAdjust="spacingAndGlyphs">4</text>
<text x="372.3" y="84.5" fill="#111" stroke="#111" textLength="3.4" lengthAdjust="spacingAndGlyphs">7</text>
<text x="407.1" y="84.5" fill="#111" stroke="#111" textLength="6.9" lengthAdjust="spacingAndGlyphs">15</text>
<text x="441.8" y="84.5" fill="#111" stroke="#111" textLength="6.9" lengthAdjust="spacingAndGlyphs">13</text>
<text x="476.5" y="84.5" fill="#111" stroke="#111" textLength="3.4" lengthAdjust="spacingAndGlyphs">9</text>
<text x="511.2" y="84.5" fill="#111" stroke="#111" textLength="6.9" lengthAdjust="spacingAndGlyphs">10</text>
<text x="545.9" y="84.5" fill="#111" stroke="#111" textLength="3.4" lengthAdjust="spacingAndGlyphs">9</text>
<text x="580.6" y="84.5" fill="#fff" stroke="#fff" textLength="6.9" lengthAdjust="spacingAndGlyphs">17</text>
<text x="615.3" y="84.5" fill="#111" stroke="#111" textLength="3.4" lengthAdjust="spacingAndGlyphs">9</text>
<text x="650.0" y="84.5" fill="#111" stroke="#111" textLength="6.9" lengthAdjust="spacingAndGlyphs">11</text>
<text x="684.7" y="84.5" fill="#111" stroke="#111" textLength="6.9" lengthAdjust="spacingAndGlyphs">39</text>
<text x="719.4" y="84.5" fill="#111" stroke="#111" textLength="6.9" lengthAdjust="spacingAndGlyphs">26</text>
<text x="754.2" y="84.5" fill="#111" stroke="#111" textLength="6.9" lengthAdjust="spacingAndGlyphs">11</text>
<text x="788.9" y="84.5" fill="#111" stroke="#111" textLength="6.9" lengthAdjust="spacingAndGlyphs">13</text>
<text x="823.6" y="84.5" fill="#fff" stroke="#fff" textLength="6.9" lengthAdjust="spacingAndGlyphs">19</text>
<text x="858.3" y="84.5" fill="#fff" stroke="#fff" textLength="6.9" lengthAdjust="spacingAndGlyphs">21</text>
<text x="60.0" y="93.4" fill="#111" stroke="#111" textLength="6.9" lengthAdjust="spacingAndGlyphs">26</text>
<text x="94.7" y="93.4" fill="#111" stroke="#111" textLength="6.9" lengthAdjust="spacingAndGlyphs">13</text>
<text x="129.4" y="93.4" fill="#fff" stroke="#fff" textLength="6.9" lengthAdjust="spacingAndGlyphs">18</text>
<text x="164.1" y="93.4" fill="#111" stroke="#111" textLength="3.4" lengthAdjust="spacingAndGlyphs">9</text>
<text x="198.8" y="93.4" fill="#111" stroke="#111" textLength="3.4" lengthAdjust="spacingAndGlyphs">4</text>
<text x="233.5" y="93.4" fill="#111" stroke="#111" textLength="6.9" lengthAdjust="spacingAndGlyphs">13</text>
<text x="268.2" y="93.4" fill="#111" stroke="#111" textLength="6.9" lengthAdjust="spacingAndGlyphs">15</text>
<text x="302.9" y="93.4" fill="#111" stroke="#111" textLength="3.4" lengthAdjust="spacingAndGlyphs">9</text>
<text x="337.6" y="93.4" fill="#111" stroke="#111" textLength="3.4" lengthAdjust="spacingAndGlyphs">6</text>
<text x="372.3" y="93.4" fill="#111" stroke="#111" textLength="6.9" lengthAdjust="spacingAndGlyphs">13</text>
<text x="407.1" y="93.4" fill="#111" stroke="#111" textLength="6.9" lengthAdjust="spacingAndGlyphs">15</text>
<text x="441.8" y="93.4" fill="#111" stroke="#111" textLength="3.4" lengthAdjust="spacingAndGlyphs">8</text>
<text x="476.5" y="93.4" fill="#111" stroke="#111" textLength="3.4" lengthAdjust="spacingAndGlyphs">6</text>
<text x="511.2" y="93.4" fill="#111" stroke="#111" textLength="3.4" lengthAdjust="spacingAndGlyphs">7</text>
<text x="545.9" y="93.4" fill="#111" stroke="#111" textLength="6.9" lengthAdjust="spacingAndGlyphs">12</text>
<text x="580.6" y="93.4" fill="#fff" stroke="#fff" textLength="6.9" lengthAdjust="spacingAndGlyphs">22</text>
<text x="615.3" y="93.4" fill="#111" stroke="#111" textLength="6.9" lengthAdjust="spacingAndGlyphs">15</text>
<text x="650.0" y="93.4" fill="#111" stroke="#111" textLength="6.9" lengthAdjust="spacingAndGlyphs">13</text>
<text x="684.7" y="93.4" fill="#111" stroke="#111" textLength="6.9" lengthAdjust="spacingAndGlyphs">13</text>
<text x="719.4" y="93.4" fill="#fff" stroke="#fff" textLength="6.9" lengthAdjust="spacingAndGlyphs">21</text>
<text x="754.2" y="93.4" fill="#111" stroke="#111" textLength="6.9" lengthAdjust="spacingAndGlyphs">15</text>
<text x="788.9" y="93.4" fill="#fff" stroke="#fff" textLength="6.9" lengthAdjust="spacingAndGlyphs">18</text>
<text x="823.6" y="93.4" fill="#111" stroke="#111" textLength="6.9" lengthAdjust="spacingAndGlyphs">24</text>
<text x="858.3" y="93.4" fill="#111" stroke="#111" textLength="6.9" lengthAdjust="spacingAndGlyphs">28</text>
<text x="60.0" y="102.2" fill="#fff" stroke="#fff" textLength="6.9" lengthAdjust="spacingAndGlyphs">17</text>
<text x="94.7" y="102.2" fill="#fff" stroke="#fff" textLength="6.9" lengthAdjust="spacingAndGlyphs">17</text>
<text x="129.4" y="102.2" fill="#111" stroke="#111" textLength="6.9" lengthAdjust="spacingAndGlyphs">16</text>
<text x="164.1" y="102.2" fill="#111" stroke="#111" textLength="6.9" lengthAdjust="spacingAndGlyphs">10</text>
<text x="198.8" y="102.2" fill="#111" stroke="#111" textLength="3.4" lengthAdjust="spacingAndGlyphs">4</text>
<text x="233.5" y="102.2" fill="#111" stroke="#111" textLength="6.9" lengthAdjust="spacingAndGlyphs">13</text>
<text x="268.2" y="102.2" fill="#fff" stroke="#fff" textLength="6.9" lengthAdjust="spacingAndGlyphs">16</text>
<text x="302.9" y="102.2" fill="#111" stroke="#111" textLength="6.9" lengthAdjust="spacingAndGlyphs">13</text>
<text x="337.6" y="102.2" fill="#111" stroke="#111" textLength="3.4" lengthAdjust="spacingAndGlyphs">4</text>
<text x="372.3" y="102.2" fill="#111" stroke="#111" textLength="6.9" lengthAdjust="spacingAndGlyphs">11</text>
<text x="407.1" y="102.2" fill="#111" stroke="#111" textLength="6.9" lengthAdjust="spacingAndGlyphs">16</text>
<text x="441.8" y="102.2" fill="#111" stroke="#111" textLength="6.9" lengthAdjust="spacingAndGlyphs">12</text>
<text x="476.5" y="102.2" fill="#111" stroke="#111" textLength="3.4" lengthAdjust="spacingAndGlyphs">6</text>
<text x="511.2" y="102.2" fill="#111" stroke="#111" textLength="3.4" lengthAdjust="spacingAndGlyphs">9</text>
<text x="545.9" y="102.2" fill="#fff" stroke="#fff" textLength="6.9" lengthAdjust="spacingAndGlyphs">21</text>
<text x="580.6" y="102.2" fill="#fff" stroke="#fff" textLength="6.9" lengthAdjust="spacingAndGlyphs">22</text>
<text x="615.3" y="102.2" fill="#111" stroke="#111" textLength="6.9" lengthAdjust="spacingAndGlyphs">10</text>
<text x="650.0" y="102.2" fill="#111" stroke="#111" textLength="6.9" lengthAdjust="spacingAndGlyphs">11</text>
<text x="684.7" y="102.2" fill="#fff" stroke="#fff" textLength="6.9" lengthAdjust="spacingAndGlyphs">22</text>
<text x="719.4" y="102.2" fill="#111" stroke="#111" textLength="6.9" lengthAdjust="spacingAndGlyphs">33</text>
<text x="754.2" y="102.2" fill="#fff" stroke="#fff" textLength="6.9" lengthAdjust="spacingAndGlyphs">18</text>
<text x="788.9" y="102.2" fill="#fff" stroke="#fff" textLength="6.9" lengthAdjust="spacingAndGlyphs">20</text>
<text x="823.6" y="102.2" fill="#111" stroke="#111" textLength="6.9" lengthAdjust="spacingAndGlyphs">28</text>
<text x="858.3" y="102.2" fill="#111" stroke="#111" textLength="6.9" lengthAdjust="spacingAndGlyphs">27</text>
<text x="60.0" y="111.1" fill="#111" stroke="#111" textLength="6.9" lengthAdjust="spacingAndGlyphs">12</text>
<text x="94.7" y="111.1" fill="#111" stroke="#111" textLength="6.9" lengthAdjust="spacingAndGlyphs">15</text>
<text x="129.4" y="111.1" fill="#111" stroke="#111" textLength="6.9" lengthAdjust="spacingAndGlyphs">15</text>
<text x="164.1" y="111.1" fill="#111" stroke="#111" textLength="6.9" lengthAdjust="spacingAndGlyphs">11</text>
<text x="198.8" y="111.1" fill="#111" stroke="#111" textLength="3.4" lengthAdjust="spacingAndGlyphs">3</text>
<text x="233.5" y="111.1" fill="#111" stroke="#111" textLength="6.9" lengthAdjust="spacingAndGlyphs">13</text>
<text x="268.2" y="111.1" fill="#111" stroke="#111" textLength="6.9" lengthAdjust="spacingAndGlyphs">16</text>
<text x="302.9" y="111.1" fill="#111" stroke="#111" textLength="6.9" lengthAdjust="spacingAndGlyphs">12</text>
<text x="337.6" y="111.1" fill="#111" stroke="#111" textLength="3.4" lengthAdjust="spacingAndGlyphs">3</text>
<text x="372.3" y="111.1" fill="#111" stroke="#111" textLength="6.9" lengthAdjust="spacingAndGlyphs">10</text>
<text x="407.1" y="111.1" fill="#111" stroke="#111" textLength="6.9" lengthAdjust="spacingAndGlyphs">13</text>
<text x="441.8" y="111.1" fill="#111" stroke="#111" textLength="3.4" lengthAdjust="spacingAndGlyphs">8</text>
<text x="476.5" y="111.1" fill="#111" stroke="#111" textLength="3.4" lengthAdjust="spacingAndGlyphs">4</text>
<text x="511.2" y="111.1" fill="#111" stroke="#111" textLength="6.9" lengthAdjust="spacingAndGlyphs">10</text>
<text x="545.9" y="111.1" fill="#111" stroke="#111" textLength="6.9" lengthAdjust="spacingAndGlyphs">13</text>
<text x="580.6" y="111.1" fill="#111" stroke="#111" textLength="6.9" lengthAdjust="spacingAndGlyphs">11</text>
<text x="615.3" y="111.1" fill="#111" stroke="#111" textLength="3.4" lengthAdjust="spacingAndGlyphs">9</text>
<text x="650.0" y="111.1" fill="#111" stroke="#111" textLength="6.9" lengthAdjust="spacingAndGlyphs">10</text>
<text x="684.7" y="111.1" fill="#111" stroke="#111" textLength="6.9" lengthAdjust="spacingAndGlyphs">12</text>
<text x="719.4" y="111.1" fill="#111" stroke="#111" textLength="6.9" lengthAdjust="spacingAndGlyphs">41</text>
<text x="754.2" y="111.1" fill="#111" stroke="#111" textLength="6.9" lengthAdjust="spacingAndGlyphs">30</text>
<text x="788.9" y="111.1" fill="#111" stroke="#111" textLength="6.9" lengthAdjust="spacingAndGlyphs">28</text>
<text x="823.6" y="111.1" fill="#111" stroke="#111" textLength="6.9" lengthAdjust="spacingAndGlyphs">37</text>
<text x="858.3" y="111.1" fill="#111" stroke="#111" textLength="6.9" lengthAdjust="spacingAndGlyphs">29</text>
<text x="60.0" y="120.0" fill="#111" stroke="#111" textLength="6.9" lengthAdjust="spacingAndGlyphs">14</text>
<text x="94.7" y="120.0" fill="#111" stroke="#111" textLength="6.9" lengthAdjust="spacingAndGlyphs">11</text>
<text x="129.4" y="120.0" fill="#fff" stroke="#fff" textLength="6.9" lengthAdjust="spacingAndGlyphs">17</text>
<text x="164.1" y="120.0" fill="#111" stroke="#111" textLength="6.9" lengthAdjust="spacingAndGlyphs">10</text>
<text x="198.8" y="120.0" fill="#111" stroke="#111" textLength="3.4" lengthAdjust="spacingAndGlyphs">3</text>
<text x="233.5" y="120.0" fill="#fff" stroke="#fff" textLength="6.9" lengthAdjust="spacingAndGlyphs">18</text>
<text x="268.2" y="120.0" fill="#fff" stroke="#fff" textLength="6.9" lengthAdjust="spacingAndGlyphs">21</text>
<text x="302.9" y="120.0" fill="#fff" stroke="#fff" textLength="6.9" lengthAdjust="spacingAndGlyphs">17</text>
<text x="337.6" y="120.0" fill="#111" stroke="#111" textLength="3.4" lengthAdjust="spacingAndGlyphs">4</text>
<text x="372.3" y="120.0" fill="#111" stroke="#111" textLength="6.9" lengthAdjust="spacingAndGlyphs">11</text>
<text x="407.1" y="120.0" fill="#fff" stroke="#fff" textLength="6.9" lengthAdjust="spacingAndGlyphs">17</text>
<text x="441.8" y="120.0" fill="#111" stroke="#111" textLength="3.4" lengthAdjust="spacingAndGlyphs">7</text>
<text x="476.5" y="120.0" fill="#111" stroke="#111" textLength="3.4" lengthAdjust="spacingAndGlyphs">5</text>
<text x="511.2" y="120.0" fill="#111" stroke="#111" textLength="6.9" lengthAdjust="spacingAndGlyphs">14</text>
<text x="545.9" y="120.0" fill="#111" stroke="#111" textLength="6.9" lengthAdjust="spacingAndGlyphs">29</text>
<text x="580.6" y="120.0" fill="#111" stroke="#111" textLength="6.9" lengthAdjust="spacingAndGlyphs">28</text>
<text x="615.3" y="120.0" fill="#111" stroke="#111" textLength="6.9" lengthAdjust="spacingAndGlyphs">14</text>
<text x="650.0" y="120.0" fill="#111" stroke="#111" textLength="3.4" lengthAdjust="spacingAndGlyphs">9</text>
<text x="684.7" y="120.0" fill="#111" stroke="#111" textLength="6.9" lengthAdjust="spacingAndGlyphs">13</text>
<text x="719.4" y="120.0" fill="#111" stroke="#111" textLength="6.9" lengthAdjust="spacingAndGlyphs">39</text>
<text x="754.2" y="120.0" fill="#111" stroke="#111" textLength="6.9" lengthAdjust="spacingAndGlyphs">38</text>
<text x="788.9" y="120.0" fill="#111" stroke="#111" textLength="6.9" lengthAdjust="spacingAndGlyphs">37</text>
<text x="823.6" y="120.0" fill="#111" stroke="#111" textLength="6.9" lengthAdjust="spacingAndGlyphs">33</text>
<text x="858.3" y="120.0" fill="#111" stroke="#111" textLength="6.9" lengthAdjust="spacingAndGlyphs">27</text>
<text x="60.0" y="128.8" fill="#111" stroke="#111" textLength="6.9" lengthAdjust="spacingAndGlyphs">15</text>
<text x="94.7" y="128.8" fill="#111" stroke="#111" textLength="6.9" lengthAdjust="spacingAndGlyphs">13</text>
<text x="129.4" y="128.8" fill="#111" stroke="#111" textLength="6.9" lengthAdjust="spacingAndGlyphs">15</text>
<text x="164.1" y="128.8" fill="#111" stroke="#111" textLength="6.9" lengthAdjust="spacingAndGlyphs">11</text>
<text x="198.8" y="128.8" fill="#111" stroke="#111" textLength="3.4" lengthAdjust="spacingAndGlyphs">4</text>
<text x="233.5" y="128.8" fill="#111" stroke="#111" textLength="6.9" lengthAdjust="spacingAndGlyphs">14</text>
<text x="268.2" y="128.8" fill="#fff" stroke="#fff" textLength="6.9" lengthAdjust="spacingAndGlyphs">18</text>
<text x="302.9" y="128.8" fill="#111" stroke="#111" textLength="6.9" lengthAdjust="spacingAndGlyphs">14</text>
<text x="337.6" y="128.8" fill="#111" stroke="#111" textLength="3.4" lengthAdjust="spacingAndGlyphs">4</text>
<text x="372.3" y="128.8" fill="#111" stroke="#111" textLength="6.9" lengthAdjust="spacingAndGlyphs">12</text>
<text x="407.1" y="128.8" fill="#fff" stroke="#fff" textLength="6.9" lengthAdjust="spacingAndGlyphs">17</text>
<text x="441.8" y="128.8" fill="#111" stroke="#111" textLength="6.9" lengthAdjust="spacingAndGlyphs">12</text>
<text x="476.5" y="128.8" fill="#111" stroke="#111" textLength="3.4" lengthAdjust="spacingAndGlyphs">6</text>
<text x="511.2" y="128.8" fill="#111" stroke="#111" textLength="3.4" lengthAdjust="spacingAndGlyphs">9</text>
<text x="545.9" y="128.8" fill="#fff" stroke="#fff" textLength="6.9" lengthAdjust="spacingAndGlyphs">21</text>
<text x="580.6" y="128.8" fill="#111" stroke="#111" textLength="6.9" lengthAdjust="spacingAndGlyphs">29</text>
<text x="615.3" y="128.8" fill="#111" stroke="#111" textLength="6.9" lengthAdjust="spacingAndGlyphs">14</text>
<text x="650.0" y="128.8" fill="#111" stroke="#111" textLength="6.9" lengthAdjust="spacingAndGlyphs">33</text>
<text x="684.7" y="128.8" fill="#111" stroke="#111" textLength="6.9" lengthAdjust="spacingAndGlyphs">33</text>
<text x="719.4" y="128.8" fill="#111" stroke="#111" textLength="6.9" lengthAdjust="spacingAndGlyphs">30</text>
<text x="754.2" y="128.8" fill="#111" stroke="#111" textLength="6.9" lengthAdjust="spacingAndGlyphs">16</text>
<text x="788.9" y="128.8" fill="#111" stroke="#111" textLength="6.9" lengthAdjust="spacingAndGlyphs">11</text>
<text x="823.6" y="128.8" fill="#111" stroke="#111" textLength="6.9" lengthAdjust="spacingAndGlyphs">36</text>
<text x="858.3" y="128.8" fill="#111" stroke="#111" textLength="6.9" lengthAdjust="spacingAndGlyphs">29</text>
<text x="60.0" y="137.7" fill="#fff" stroke="#fff" textLength="6.9" lengthAdjust="spacingAndGlyphs">22</text>
<text x="94.7" y="137.7" fill="#111" stroke="#111" textLength="6.9" lengthAdjust="spacingAndGlyphs">10</text>
<text x="129.4" y="137.7" fill="#fff" stroke="#fff" textLength="6.9" lengthAdjust="spacingAndGlyphs">17</text>
<text x="164.1" y="137.7" fill="#111" stroke="#111" textLength="6.9" lengthAdjust="spacingAndGlyphs">12</text>
<text x="198.8" y="137.7" fill="#111" stroke="#111" textLength="3.4" lengthAdjust="spacingAndGlyphs">5</text>
<text x="233.5" y="137.7" fill="#111" stroke="#111" textLength="6.9" lengthAdjust="spacingAndGlyphs">16</text>
<text x="268.2" y="137.7" fill="#fff" stroke="#fff" textLength="6.9" lengthAdjust="spacingAndGlyphs">17</text>
<text x="302.9" y="137.7" fill="#111" stroke="#111" textLength="6.9" lengthAdjust="spacingAndGlyphs">13</text>
<text x="337.6" y="137.7" fill="#111" stroke="#111" textLength="3.4" lengthAdjust="spacingAndGlyphs">4</text>
<text x="372.3" y="137.7" fill="#111" stroke="#111" textLength="6.9" lengthAdjust="spacingAndGlyphs">15</text>
<text x="407.1" y="137.7" fill="#fff" stroke="#fff" textLength="6.9" lengthAdjust="spacingAndGlyphs">20</text>
<text x="441.8" y="137.7" fill="#111" stroke="#111" textLength="3.4" lengthAdjust="spacingAndGlyphs">7</text>
<text x="476.5" y="137.7" fill="#111" stroke="#111" textLength="6.9" lengthAdjust="spacingAndGlyphs">13</text>
<text x="511.2" y="137.7" fill="#111" stroke="#111" textLength="6.9" lengthAdjust="spacingAndGlyphs">12</text>
<text x="545.9" y="137.7" fill="#111" stroke="#111" textLength="6.9" lengthAdjust="spacingAndGlyphs">25</text>
<text x="580.6" y="137.7" fill="#111" stroke="#111" textLength="6.9" lengthAdjust="spacingAndGlyphs">26</text>
<text x="615.3" y="137.7" fill="#111" stroke="#111" textLength="6.9" lengthAdjust="spacingAndGlyphs">13</text>
<text x="650.0" y="137.7" fill="#111" stroke="#111" textLength="6.9" lengthAdjust="spacingAndGlyphs">11</text>
<text x="684.7" y="137.7" fill="#111" stroke="#111" textLength="6.9" lengthAdjust="spacingAndGlyphs">25</text>
<text x="719.4" y="137.7" fill="#fff" stroke="#fff" textLength="6.9" lengthAdjust="spacingAndGlyphs">23</text>
<text x="754.2" y="137.7" fill="#111" stroke="#111" textLength="3.4" lengthAdjust="spacingAndGlyphs">7</text>
<text x="788.9" y="137.7" fill="#111" stroke="#111" textLength="6.9" lengthAdjust="spacingAndGlyphs">11</text>
<text x="823.6" y="137.7" fill="#111" stroke="#111" textLength="6.9" lengthAdjust="spacingAndGlyphs">34</text>
<text x="858.3" y="137.7" fill="#111" stroke="#111" textLength="6.9" lengthAdjust="spacingAndGlyphs">33</text>
<text x="60.0" y="146.6" fill="#111" stroke="#111" textLength="6.9" lengthAdjust="spacingAndGlyphs">15</text>
<text x="94.7" y="146.6" fill="#111" stroke="#111" textLength="6.9" lengthAdjust="spacingAndGlyphs">12</text>
<text x="129.4" y="146.6" fill="#111" stroke="#111" textLength="6.9" lengthAdjust="spacingAndGlyphs">14</text>
<text x="164.1" y="146.6" fill="#111" stroke="#111" textLength="6.9" lengthAdjust="spacingAndGlyphs">12</text>
<text x="198.8" y="146.6" fill="#111" stroke="#111" textLength="3.4" lengthAdjust="spacingAndGlyphs">2</text>
<text x="233.5" y="146.6" fill="#111" stroke="#111" textLength="6.9" lengthAdjust="spacingAndGlyphs">13</text>
<text x="268.2" y="146.6" fill="#111" stroke="#111" textLength="6.9" lengthAdjust="spacingAndGlyphs">15</text>
<text x="302.9" y="146.6" fill="#111" stroke="#111" textLength="6.9" lengthAdjust="spacingAndGlyphs">12</text>
<text x="337.6" y="146.6" fill="#111" stroke="#111" textLength="3.4" lengthAdjust="spacingAndGlyphs">5</text>
<text x="372.3" y="146.6" fill="#111" stroke="#111" textLength="6.9" lengthAdjust="spacingAndGlyphs">11</text>
<text x="407.1" y="146.6" fill="#111" stroke="#111" textLength="6.9" lengthAdjust="spacingAndGlyphs">12</text>
<text x="441.8" y="146.6" fill="#111" stroke="#111" textLength="3.4" lengthAdjust="spacingAndGlyphs">8</text>
<text x="476.5" y="146.6" fill="#111" stroke="#111" textLength="3.4" lengthAdjust="spacingAndGlyphs">4</text>
<text x="511.2" y="146.6" fill="#111" stroke="#111" textLength="3.4" lengthAdjust="spacingAndGlyphs">8</text>
<text x="545.9" y="146.6" fill="#111" stroke="#111" textLength="6.9" lengthAdjust="spacingAndGlyphs">11</text>
<text x="580.6" y="146.6" fill="#111" stroke="#111" textLength="6.9" lengthAdjust="spacingAndGlyphs">12</text>
<text x="615.3" y="146.6" fill="#111" stroke="#111" textLength="6.9" lengthAdjust="spacingAndGlyphs">13</text>
<text x="650.0" y="146.6" fill="#111" stroke="#111" textLength="6.9" lengthAdjust="spacingAndGlyphs">14</text>
<text x="684.7" y="146.6" fill="#111" stroke="#111" textLength="6.9" lengthAdjust="spacingAndGlyphs">40</text>
<text x="719.4" y="146.6" fill="#111" stroke="#111" textLength="6.9" lengthAdjust="spacingAndGlyphs">39</text>
<text x="754.2" y="146.6" fill="#fff" stroke="#fff" textLength="6.9" lengthAdjust="spacingAndGlyphs">22</text>
<text x="788.9" y="146.6" fill="#fff" stroke="#fff" textLength="6.9" lengthAdjust="spacingAndGlyphs">22</text>
<text x="823.6" y="146.6" fill="#111" stroke="#111" textLength="6.9" lengthAdjust="spacingAndGlyphs">31</text>
<text x="858.3" y="146.6" fill="#111" stroke="#111" textLength="6.9" lengthAdjust="spacingAndGlyphs">29</text>
<text x="60.0" y="155.4" fill="#fff" stroke="#fff" textLength="6.9" lengthAdjust="spacingAndGlyphs">22</text>
<text x="94.7" y="155.4" fill="#111" stroke="#111" textLength="6.9" lengthAdjust="spacingAndGlyphs">10</text>
<text x="129.4" y="155.4" fill="#fff" stroke="#fff" textLength="6.9" lengthAdjust="spacingAndGlyphs">19</text>
<text x="164.1" y="155.4" fill="#111" stroke="#111" textLength="6.9" lengthAdjust="spacingAndGlyphs">10</text>
<text x="198.8" y="155.4" fill="#111" stroke="#111" textLength="3.4" lengthAdjust="spacingAndGlyphs">4</text>
<text x="233.5" y="155.4" fill="#111" stroke="#111" textLength="6.9" lengthAdjust="spacingAndGlyphs">12</text>
<text x="268.2" y="155.4" fill="#fff" stroke="#fff" textLength="6.9" lengthAdjust="spacingAndGlyphs">16</text>
<text x="302.9" y="155.4" fill="#111" stroke="#111" textLength="6.9" lengthAdjust="spacingAndGlyphs">11</text>
<text x="337.6" y="155.4" fill="#111" stroke="#111" textLength="3.4" lengthAdjust="spacingAndGlyphs">4</text>
<text x="372.3" y="155.4" fill="#111" stroke="#111" textLength="6.9" lengthAdjust="spacingAndGlyphs">10</text>
<text x="407.1" y="155.4" fill="#111" stroke="#111" textLength="6.9" lengthAdjust="spacingAndGlyphs">13</text>
<text x="441.8" y="155.4" fill="#111" stroke="#111" textLength="3.4" lengthAdjust="spacingAndGlyphs">8</text>
<text x="476.5" y="155.4" fill="#111" stroke="#111" textLength="3.4" lengthAdjust="spacingAndGlyphs">4</text>
<text x="511.2" y="155.4" fill="#111" stroke="#111" textLength="6.9" lengthAdjust="spacingAndGlyphs">10</text>
<text x="545.9" y="155.4" fill="#111" stroke="#111" textLength="6.9" lengthAdjust="spacingAndGlyphs">15</text>
<text x="580.6" y="155.4" fill="#fff" stroke="#fff" textLength="6.9" lengthAdjust="spacingAndGlyphs">18</text>
<text x="615.3" y="155.4" fill="#fff" stroke="#fff" textLength="6.9" lengthAdjust="spacingAndGlyphs">17</text>
<text x="650.0" y="155.4" fill="#111" stroke="#111" textLength="6.9" lengthAdjust="spacingAndGlyphs">11</text>
<text x="684.7" y="155.4" fill="#fff" stroke="#fff" textLength="6.9" lengthAdjust="spacingAndGlyphs">36</text>
<text x="719.4" y="155.4" fill="#fff" stroke="#fff" textLength="6.9" lengthAdjust="spacingAndGlyphs">36</text>
<text x="754.2" y="155.4" fill="#111" stroke="#111" textLength="6.9" lengthAdjust="spacingAndGlyphs">14</text>
<text x="788.9" y="155.4" fill="#fff" stroke="#fff" textLength="6.9" lengthAdjust="spacingAndGlyphs">19</text>
<text x="823.6" y="155.4" fill="#111" stroke="#111" textLength="6.9" lengthAdjust="spacingAndGlyphs">34</text>
<text x="858.3" y="155.4" fill="#111" stroke="#111" textLength="6.9" lengthAdjust="spacingAndGlyphs">33</text>
<text x="60.0" y="164.3" fill="#fff" stroke="#fff" textLength="6.9" lengthAdjust="spacingAndGlyphs">16</text>
<text x="94.7" y="164.3" fill="#111" stroke="#111" textLength="6.9" lengthAdjust="spacingAndGlyphs">10</text>
<text x="129.4" y="164.3" fill="#fff" stroke="#fff" textLength="6.9" lengthAdjust="spacingAndGlyphs">17</text>
<text x="164.1" y="164.3" fill="#111" stroke="#111" textLength="3.4" lengthAdjust="spacingAndGlyphs">8</text>
<text x="198.8" y="164.3" fill="#111" stroke="#111" textLength="3.4" lengthAdjust="spacingAndGlyphs">4</text>
<text x="233.5" y="164.3" fill="#111" stroke="#111" textLength="6.9" lengthAdjust="spacingAndGlyphs">13</text>
<text x="268.2" y="164.3" fill="#fff" stroke="#fff" textLength="6.9" lengthAdjust="spacingAndGlyphs">17</text>
<text x="302.9" y="164.3" fill="#111" stroke="#111" textLength="6.9" lengthAdjust="spacingAndGlyphs">11</text>
<text x="337.6" y="164.3" fill="#111" stroke="#111" textLength="3.4" lengthAdjust="spacingAndGlyphs">4</text>
<text x="372.3" y="164.3" fill="#111" stroke="#111" textLength="6.9" lengthAdjust="spacingAndGlyphs">11</text>
<text x="407.1" y="164.3" fill="#111" stroke="#111" textLength="6.9" lengthAdjust="spacingAndGlyphs">14</text>
<text x="441.8" y="164.3" fill="#111" stroke="#111" textLength="3.4" lengthAdjust="spacingAndGlyphs">8</text>
<text x="476.5" y="164.3" fill="#111" stroke="#111" textLength="3.4" lengthAdjust="spacingAndGlyphs">4</text>
<text x="511.2" y="164.3" fill="#111" stroke="#111" textLength="3.4" lengthAdjust="spacingAndGlyphs">9</text>
<text x="545.9" y="164.3" fill="#fff" stroke="#fff" textLength="6.9" lengthAdjust="spacingAndGlyphs">23</text>
<text x="580.6" y="164.3" fill="#111" stroke="#111" textLength="6.9" lengthAdjust="spacingAndGlyphs">25</text>
<text x="615.3" y="164.3" fill="#111" stroke="#111" textLength="6.9" lengthAdjust="spacingAndGlyphs">10</text>
<text x="650.0" y="164.3" fill="#111" stroke="#111" textLength="6.9" lengthAdjust="spacingAndGlyphs">11</text>
<text x="684.7" y="164.3" fill="#fff" stroke="#fff" textLength="6.9" lengthAdjust="spacingAndGlyphs">22</text>
<text x="719.4" y="164.3" fill="#fff" stroke="#fff" textLength="6.9" lengthAdjust="spacingAndGlyphs">24</text>
<text x="754.2" y="164.3" fill="#fff" stroke="#fff" textLength="6.9" lengthAdjust="spacingAndGlyphs">22</text>
<text x="788.9" y="164.3" fill="#111" stroke="#111" textLength="6.9" lengthAdjust="spacingAndGlyphs">33</text>
<text x="823.6" y="164.3" fill="#111" stroke="#111" textLength="6.9" lengthAdjust="spacingAndGlyphs">39</text>
<text x="858.3" y="164.3" fill="#111" stroke="#111" textLength="6.9" lengthAdjust="spacingAndGlyphs">39</text>
<text x="60.0" y="173.2" fill="#111" stroke="#111" textLength="6.9" lengthAdjust="spacingAndGlyphs">13</text>
<text x="94.7" y="173.2" fill="#111" stroke="#111" textLength="3.4" lengthAdjust="spacingAndGlyphs">9</text>
<text x="129.4" y="173.2" fill="#111" stroke="#111" textLength="6.9" lengthAdjust="spacingAndGlyphs">15</text>
<text x="164.1" y="173.2" fill="#111" stroke="#111" textLength="6.9" lengthAdjust="spacingAndGlyphs">11</text>
<text x="198.8" y="173.2" fill="#111" stroke="#111" textLength="3.4" lengthAdjust="spacingAndGlyphs">3</text>
<text x="233.5" y="173.2" fill="#111" stroke="#111" textLength="6.9" lengthAdjust="spacingAndGlyphs">12</text>
<text x="268.2" y="173.2" fill="#fff" stroke="#fff" textLength="6.9" lengthAdjust="spacingAndGlyphs">16</text>
<text x="302.9" y="173.2" fill="#111" stroke="#111" textLength="6.9" lengthAdjust="spacingAndGlyphs">11</text>
<text x="337.6" y="173.2" fill="#111" stroke="#111" textLength="3.4" lengthAdjust="spacingAndGlyphs">4</text>
<text x="372.3" y="173.2" fill="#111" stroke="#111" textLength="6.9" lengthAdjust="spacingAndGlyphs">11</text>
<text x="407.1" y="173.2" fill="#111" stroke="#111" textLength="6.9" lengthAdjust="spacingAndGlyphs">15</text>
<text x="441.8" y="173.2" fill="#111" stroke="#111" textLength="3.4" lengthAdjust="spacingAndGlyphs">9</text>
<text x="476.5" y="173.2" fill="#111" stroke="#111" textLength="3.4" lengthAdjust="spacingAndGlyphs">5</text>
<text x="511.2" y="173.2" fill="#111" stroke="#111" textLength="6.9" lengthAdjust="spacingAndGlyphs">12</text>
<text x="545.9" y="173.2" fill="#fff" stroke="#fff" textLength="6.9" lengthAdjust="spacingAndGlyphs">21</text>
<text x="580.6" y="173.2" fill="#fff" stroke="#fff" textLength="6.9" lengthAdjust="spacingAndGlyphs">35</text>
<text x="615.3" y="173.2" fill="#111" stroke="#111" textLength="6.9" lengthAdjust="spacingAndGlyphs">15</text>
<text x="650.0" y="173.2" fill="#111" stroke="#111" textLength="6.9" lengthAdjust="spacingAndGlyphs">12</text>
<text x="684.7" y="173.2" fill="#111" stroke="#111" textLength="6.9" lengthAdjust="spacingAndGlyphs">16</text>
<text x="719.4" y="173.2" fill="#fff" stroke="#fff" textLength="6.9" lengthAdjust="spacingAndGlyphs">18</text>
<text x="754.2" y="173.2" fill="#111" stroke="#111" textLength="6.9" lengthAdjust="spacingAndGlyphs">26</text>
<text x="788.9" y="173.2" fill="#fff" stroke="#fff" textLength="6.9" lengthAdjust="spacingAndGlyphs">23</text>
<text x="823.6" y="173.2" fill="#111" stroke="#111" textLength="6.9" lengthAdjust="spacingAndGlyphs">37</text>
<text x="858.3" y="173.2" fill="#111" stroke="#111" textLength="6.9" lengthAdjust="spacingAndGlyphs">32</text>
<text x="60.0" y="182.0" fill="#fff" stroke="#fff" textLength="6.9" lengthAdjust="spacingAndGlyphs">21</text>
<text x="94.7" y="182.0" fill="#111" stroke="#111" textLength="6.9" lengthAdjust="spacingAndGlyphs">13</text>
<text x="129.4" y="182.0" fill="#fff" stroke="#fff" textLength="6.9" lengthAdjust="spacingAndGlyphs">19</text>
<text x="164.1" y="182.0" fill="#111" stroke="#111" textLength="3.4" lengthAdjust="spacingAndGlyphs">8</text>
<text x="198.8" y="182.0" fill="#111" stroke="#111" textLength="3.4" lengthAdjust="spacingAndGlyphs">3</text>
<text x="233.5" y="182.0" fill="#111" stroke="#111" textLength="6.9" lengthAdjust="spacingAndGlyphs">13</text>
<text x="268.2" y="182.0" fill="#111" stroke="#111" textLength="6.9" lengthAdjust="spacingAndGlyphs">15</text>
<text x="302.9" y="182.0" fill="#111" stroke="#111" textLength="6.9" lengthAdjust="spacingAndGlyphs">13</text>
<text x="337.6" y="182.0" fill="#111" stroke="#111" textLength="3.4" lengthAdjust="spacingAndGlyphs">4</text>
<text x="372.3" y="182.0" fill="#111" stroke="#111" textLength="6.9" lengthAdjust="spacingAndGlyphs">10</text>
<text x="407.1" y="182.0" fill="#111" stroke="#111" textLength="6.9" lengthAdjust="spacingAndGlyphs">13</text>
<text x="441.8" y="182.0" fill="#111" stroke="#111" textLength="3.4" lengthAdjust="spacingAndGlyphs">7</text>
<text x="476.5" y="182.0" fill="#111" stroke="#111" textLength="3.4" lengthAdjust="spacingAndGlyphs">5</text>
<text x="511.2" y="182.0" fill="#111" stroke="#111" textLength="3.4" lengthAdjust="spacingAndGlyphs">9</text>
<text x="545.9" y="182.0" fill="#111" stroke="#111" textLength="6.9" lengthAdjust="spacingAndGlyphs">13</text>
<text x="580.6" y="182.0" fill="#111" stroke="#111" textLength="6.9" lengthAdjust="spacingAndGlyphs">26</text>
<text x="615.3" y="182.0" fill="#111" stroke="#111" textLength="6.9" lengthAdjust="spacingAndGlyphs">16</text>
<text x="650.0" y="182.0" fill="#111" stroke="#111" textLength="6.9" lengthAdjust="spacingAndGlyphs">29</text>
<text x="684.7" y="182.0" fill="#111" stroke="#111" textLength="6.9" lengthAdjust="spacingAndGlyphs">27</text>
<text x="719.4" y="182.0" fill="#111" stroke="#111" textLength="6.9" lengthAdjust="spacingAndGlyphs">25</text>
<text x="754.2" y="182.0" fill="#111" stroke="#111" textLength="6.9" lengthAdjust="spacingAndGlyphs">31</text>
<text x="788.9" y="182.0" fill="#111" stroke="#111" textLength="6.9" lengthAdjust="spacingAndGlyphs">44</text>
<text x="823.6" y="182.0" fill="#111" stroke="#111" textLength="6.9" lengthAdjust="spacingAndGlyphs">38</text>
<text x="858.3" y="182.0" fill="#fff" stroke="#fff" textLength="6.9" lengthAdjust="spacingAndGlyphs">35</text>
<text x="60.0" y="190.9" fill="#fff" stroke="#fff" textLength="6.9" lengthAdjust="spacingAndGlyphs">21</text>
<text x="94.7" y="190.9" fill="#111" stroke="#111" textLength="6.9" lengthAdjust="spacingAndGlyphs">16</text>
<text x="129.4" y="190.9" fill="#fff" stroke="#fff" textLength="6.9" lengthAdjust="spacingAndGlyphs">17</text>
<text x="164.1" y="190.9" fill="#111" stroke="#111" textLength="3.4" lengthAdjust="spacingAndGlyphs">9</text>
<text x="198.8" y="190.9" fill="#111" stroke="#111" textLength="3.4" lengthAdjust="spacingAndGlyphs">5</text>
<text x="233.5" y="190.9" fill="#111" stroke="#111" textLength="6.9" lengthAdjust="spacingAndGlyphs">16</text>
<text x="268.2" y="190.9" fill="#fff" stroke="#fff" textLength="6.9" lengthAdjust="spacingAndGlyphs">19</text>
<text x="302.9" y="190.9" fill="#111" stroke="#111" textLength="6.9" lengthAdjust="spacingAndGlyphs">16</text>
<text x="337.6" y="190.9" fill="#111" stroke="#111" textLength="3.4" lengthAdjust="spacingAndGlyphs">5</text>
<text x="372.3" y="190.9" fill="#111" stroke="#111" textLength="3.4" lengthAdjust="spacingAndGlyphs">8</text>
<text x="407.1" y="190.9" fill="#111" stroke="#111" textLength="6.9" lengthAdjust="spacingAndGlyphs">13</text>
<text x="441.8" y="190.9" fill="#111" stroke="#111" textLength="6.9" lengthAdjust="spacingAndGlyphs">10</text>
<text x="476.5" y="190.9" fill="#111" stroke="#111" textLength="3.4" lengthAdjust="spacingAndGlyphs">5</text>
<text x="511.2" y="190.9" fill="#111" stroke="#111" textLength="3.4" lengthAdjust="spacingAndGlyphs">9</text>
<text x="545.9" y="190.9" fill="#fff" stroke="#fff" textLength="6.9" lengthAdjust="spacingAndGlyphs">17</text>
<text x="580.6" y="190.9" fill="#111" stroke="#111" textLength="6.9" lengthAdjust="spacingAndGlyphs">11</text>
<text x="615.3" y="190.9" fill="#111" stroke="#111" textLength="3.4" lengthAdjust="spacingAndGlyphs">9</text>
<text x="650.0" y="190.9" fill="#111" stroke="#111" textLength="6.9" lengthAdjust="spacingAndGlyphs">10</text>
<text x="684.7" y="190.9" fill="#111" stroke="#111" textLength="6.9" lengthAdjust="spacingAndGlyphs">13</text>
<text x="719.4" y="190.9" fill="#111" stroke="#111" textLength="6.9" lengthAdjust="spacingAndGlyphs">37</text>
<text x="754.2" y="190.9" fill="#111" stroke="#111" textLength="6.9" lengthAdjust="spacingAndGlyphs">28</text>
<text x="788.9" y="190.9" fill="#111" stroke="#111" textLength="6.9" lengthAdjust="spacingAndGlyphs">14</text>
<text x="823.6" y="190.9" fill="#fff" stroke="#fff" textLength="6.9" lengthAdjust="spacingAndGlyphs">21</text>
<text x="858.3" y="190.9" fill="#fff" stroke="#fff" textLength="6.9" lengthAdjust="spacingAndGlyphs">21</text>
<text x="60.0" y="199.8" fill="#fff" stroke="#fff" textLength="6.9" lengthAdjust="spacingAndGlyphs">20</text>
<text x="94.7" y="199.8" fill="#111" stroke="#111" textLength="6.9" lengthAdjust="spacingAndGlyphs">12</text>
<text x="129.4" y="199.8" fill="#fff" stroke="#fff" textLength="6.9" lengthAdjust="spacingAndGlyphs">18</text>
<text x="164.1" y="199.8" fill="#111" stroke="#111" textLength="6.9" lengthAdjust="spacingAndGlyphs">10</text>
<text x="198.8" y="199.8" fill="#111" stroke="#111" textLength="3.4" lengthAdjust="spacingAndGlyphs">5</text>
<text x="233.5" y="199.8" fill="#111" stroke="#111" textLength="6.9" lengthAdjust="spacingAndGlyphs">13</text>
<text x="268.2" y="199.8" fill="#fff" stroke="#fff" textLength="6.9" lengthAdjust="spacingAndGlyphs">17</text>
<text x="302.9" y="199.8" fill="#111" stroke="#111" textLength="6.9" lengthAdjust="spacingAndGlyphs">14</text>
<text x="337.6" y="199.8" fill="#111" stroke="#111" textLength="3.4" lengthAdjust="spacingAndGlyphs">6</text>
<text x="372.3" y="199.8" fill="#111" stroke="#111" textLength="6.9" lengthAdjust="spacingAndGlyphs">14</text>
<text x="407.1" y="199.8" fill="#111" stroke="#111" textLength="6.9" lengthAdjust="spacingAndGlyphs">16</text>
<text x="441.8" y="199.8" fill="#111" stroke="#111" textLength="6.9" lengthAdjust="spacingAndGlyphs">11</text>
<text x="476.5" y="199.8" fill="#111" stroke="#111" textLength="3.4" lengthAdjust="spacingAndGlyphs">6</text>
<text x="511.2" y="199.8" fill="#111" stroke="#111" textLength="3.4" lengthAdjust="spacingAndGlyphs">9</text>
<text x="545.9" y="199.8" fill="#111" stroke="#111" textLength="6.9" lengthAdjust="spacingAndGlyphs">11</text>
<text x="580.6" y="199.8" fill="#111" stroke="#111" textLength="6.9" lengthAdjust="spacingAndGlyphs">30</text>
<text x="615.3" y="199.8" fill="#fff" stroke="#fff" textLength="6.9" lengthAdjust="spacingAndGlyphs">20</text>
<text x="650.0" y="199.8" fill="#111" stroke="#111" textLength="6.9" lengthAdjust="spacingAndGlyphs">13</text>
<text x="684.7" y="199.8" fill="#fff" stroke="#fff" textLength="6.9" lengthAdjust="spacingAndGlyphs">21</text>
<text x="719.4" y="199.8" fill="#111" stroke="#111" textLength="6.9" lengthAdjust="spacingAndGlyphs">28</text>
<text x="754.2" y="199.8" fill="#111" stroke="#111" textLength="6.9" lengthAdjust="spacingAndGlyphs">26</text>
<text x="788.9" y="199.8" fill="#111" stroke="#111" textLength="6.9" lengthAdjust="spacingAndGlyphs">37</text>
<text x="823.6" y="199.8" fill="#111" stroke="#111" textLength="6.9" lengthAdjust="spacingAndGlyphs">45</text>
<text x="858.3" y="199.8" fill="#111" stroke="#111" textLength="6.9" lengthAdjust="spacingAndGlyphs">42</text>
<text x="60.0" y="208.6" fill="#111" stroke="#111" textLength="6.9" lengthAdjust="spacingAndGlyphs">13</text>
<text x="94.7" y="208.6" fill="#111" stroke="#111" textLength="6.9" lengthAdjust="spacingAndGlyphs">12</text>
<text x="129.4" y="208.6" fill="#fff" stroke="#fff" textLength="6.9" lengthAdjust="spacingAndGlyphs">16</text>
<text x="164.1" y="208.6" fill="#111" stroke="#111" textLength="6.9" lengthAdjust="spacingAndGlyphs">12</text>
<text x="198.8" y="208.6" fill="#111" stroke="#111" textLength="3.4" lengthAdjust="spacingAndGlyphs">4</text>
<text x="233.5" y="208.6" fill="#111" stroke="#111" textLength="6.9" lengthAdjust="spacingAndGlyphs">14</text>
<text x="268.2" y="208.6" fill="#fff" stroke="#fff" textLength="6.9" lengthAdjust="spacingAndGlyphs">17</text>
<text x="302.9" y="208.6" fill="#111" stroke="#111" textLength="6.9" lengthAdjust="spacingAndGlyphs">14</text>
<text x="337.6" y="208.6" fill="#111" stroke="#111" textLength="3.4" lengthAdjust="spacingAndGlyphs">3</text>
<text x="372.3" y="208.6" fill="#111" stroke="#111" textLength="6.9" lengthAdjust="spacingAndGlyphs">10</text>
<text x="407.1" y="208.6" fill="#111" stroke="#111" textLength="6.9" lengthAdjust="spacingAndGlyphs">14</text>
<text x="441.8" y="208.6" fill="#111" stroke="#111" textLength="6.9" lengthAdjust="spacingAndGlyphs">11</text>
<text x="476.5" y="208.6" fill="#111" stroke="#111" textLength="3.4" lengthAdjust="spacingAndGlyphs">4</text>
<text x="511.2" y="208.6" fill="#111" stroke="#111" textLength="3.4" lengthAdjust="spacingAndGlyphs">9</text>
<text x="545.9" y="208.6" fill="#111" stroke="#111" textLength="6.9" lengthAdjust="spacingAndGlyphs">14</text>
<text x="580.6" y="208.6" fill="#fff" stroke="#fff" textLength="6.9" lengthAdjust="spacingAndGlyphs">18</text>
<text x="615.3" y="208.6" fill="#fff" stroke="#fff" textLength="6.9" lengthAdjust="spacingAndGlyphs">16</text>
<text x="650.0" y="208.6" fill="#111" stroke="#111" textLength="6.9" lengthAdjust="spacingAndGlyphs">10</text>
<text x="684.7" y="208.6" fill="#111" stroke="#111" textLength="6.9" lengthAdjust="spacingAndGlyphs">13</text>
<text x="719.4" y="208.6" fill="#111" stroke="#111" textLength="6.9" lengthAdjust="spacingAndGlyphs">25</text>
<text x="754.2" y="208.6" fill="#111" stroke="#111" textLength="6.9" lengthAdjust="spacingAndGlyphs">10</text>
<text x="788.9" y="208.6" fill="#111" stroke="#111" textLength="6.9" lengthAdjust="spacingAndGlyphs">26</text>
<text x="823.6" y="208.6" fill="#111" stroke="#111" textLength="6.9" lengthAdjust="spacingAndGlyphs">32</text>
<text x="858.3" y="208.6" fill="#111" stroke="#111" textLength="6.9" lengthAdjust="spacingAndGlyphs">28</text>
<text x="60.0" y="217.5" fill="#fff" stroke="#fff" textLength="6.9" lengthAdjust="spacingAndGlyphs">17</text>
<text x="94.7" y="217.5" fill="#111" stroke="#111" textLength="6.9" lengthAdjust="spacingAndGlyphs">11</text>
<text x="129.4" y="217.5" fill="#111" stroke="#111" textLength="6.9" lengthAdjust="spacingAndGlyphs">16</text>
<text x="164.1" y="217.5" fill="#111" stroke="#111" textLength="3.4" lengthAdjust="spacingAndGlyphs">9</text>
<text x="198.8" y="217.5" fill="#111" stroke="#111" textLength="3.4" lengthAdjust="spacingAndGlyphs">4</text>
<text x="233.5" y="217.5" fill="#111" stroke="#111" textLength="6.9" lengthAdjust="spacingAndGlyphs">15</text>
<text x="268.2" y="217.5" fill="#fff" stroke="#fff" textLength="6.9" lengthAdjust="spacingAndGlyphs">18</text>
<text x="302.9" y="217.5" fill="#111" stroke="#111" textLength="6.9" lengthAdjust="spacingAndGlyphs">14</text>
<text x="337.6" y="217.5" fill="#111" stroke="#111" textLength="3.4" lengthAdjust="spacingAndGlyphs">6</text>
<text x="372.3" y="217.5" fill="#111" stroke="#111" textLength="6.9" lengthAdjust="spacingAndGlyphs">10</text>
<text x="407.1" y="217.5" fill="#111" stroke="#111" textLength="6.9" lengthAdjust="spacingAndGlyphs">11</text>
<text x="441.8" y="217.5" fill="#111" stroke="#111" textLength="3.4" lengthAdjust="spacingAndGlyphs">8</text>
<text x="476.5" y="217.5" fill="#111" stroke="#111" textLength="3.4" lengthAdjust="spacingAndGlyphs">4</text>
<text x="511.2" y="217.5" fill="#111" stroke="#111" textLength="3.4" lengthAdjust="spacingAndGlyphs">8</text>
<text x="545.9" y="217.5" fill="#111" stroke="#111" textLength="6.9" lengthAdjust="spacingAndGlyphs">14</text>
<text x="580.6" y="217.5" fill="#fff" stroke="#fff" textLength="6.9" lengthAdjust="spacingAndGlyphs">18</text>
<text x="615.3" y="217.5" fill="#111" stroke="#111" textLength="6.9" lengthAdjust="spacingAndGlyphs">13</text>
<text x="650.0" y="217.5" fill="#111" stroke="#111" textLength="3.4" lengthAdjust="spacingAndGlyphs">9</text>
<text x="684.7" y="217.5" fill="#111" stroke="#111" textLength="6.9" lengthAdjust="spacingAndGlyphs">13</text>
<text x="719.4" y="217.5" fill="#111" stroke="#111" textLength="6.9" lengthAdjust="spacingAndGlyphs">28</text>
<text x="754.2" y="217.5" fill="#fff" stroke="#fff" textLength="6.9" lengthAdjust="spacingAndGlyphs">34</text>
<text x="788.9" y="217.5" fill="#111" stroke="#111" textLength="6.9" lengthAdjust="spacingAndGlyphs">30</text>
<text x="823.6" y="217.5" fill="#fff" stroke="#fff" textLength="6.9" lengthAdjust="spacingAndGlyphs">21</text>
<text x="858.3" y="217.5" fill="#fff" stroke="#fff" textLength="6.9" lengthAdjust="spacingAndGlyphs">20</text>
<text x="60.0" y="226.3" fill="#111" stroke="#111" textLength="6.9" lengthAdjust="spacingAndGlyphs">15</text>
<text x="94.7" y="226.3" fill="#111" stroke="#111" textLength="6.9" lengthAdjust="spacingAndGlyphs">11</text>
<text x="129.4" y="226.3" fill="#fff" stroke="#fff" textLength="6.9" lengthAdjust="spacingAndGlyphs">16</text>
<text x="164.1" y="226.3" fill="#111" stroke="#111" textLength="3.4" lengthAdjust="spacingAndGlyphs">8</text>
<text x="198.8" y="226.3" fill="#111" stroke="#111" textLength="3.4" lengthAdjust="spacingAndGlyphs">2</text>
<text x="233.5" y="226.3" fill="#111" stroke="#111" textLength="6.9" lengthAdjust="spacingAndGlyphs">12</text>
<text x="268.2" y="226.3" fill="#111" stroke="#111" textLength="6.9" lengthAdjust="spacingAndGlyphs">15</text>
<text x="302.9" y="226.3" fill="#111" stroke="#111" textLength="6.9" lengthAdjust="spacingAndGlyphs">12</text>
<text x="337.6" y="226.3" fill="#111" stroke="#111" textLength="3.4" lengthAdjust="spacingAndGlyphs">4</text>
<text x="372.3" y="226.3" fill="#111" stroke="#111" textLength="3.4" lengthAdjust="spacingAndGlyphs">9</text>
<text x="407.1" y="226.3" fill="#111" stroke="#111" textLength="6.9" lengthAdjust="spacingAndGlyphs">12</text>
<text x="441.8" y="226.3" fill="#111" stroke="#111" textLength="3.4" lengthAdjust="spacingAndGlyphs">7</text>
<text x="476.5" y="226.3" fill="#111" stroke="#111" textLength="3.4" lengthAdjust="spacingAndGlyphs">3</text>
<text x="511.2" y="226.3" fill="#111" stroke="#111" textLength="3.4" lengthAdjust="spacingAndGlyphs">9</text>
<text x="545.9" y="226.3" fill="#111" stroke="#111" textLength="6.9" lengthAdjust="spacingAndGlyphs">11</text>
<text x="580.6" y="226.3" fill="#111" stroke="#111" textLength="3.4" lengthAdjust="spacingAndGlyphs">9</text>
<text x="615.3" y="226.3" fill="#111" stroke="#111" textLength="6.9" lengthAdjust="spacingAndGlyphs">11</text>
<text x="650.0" y="226.3" fill="#111" stroke="#111" textLength="6.9" lengthAdjust="spacingAndGlyphs">12</text>
<text x="684.7" y="226.3" fill="#111" stroke="#111" textLength="6.9" lengthAdjust="spacingAndGlyphs">30</text>
<text x="719.4" y="226.3" fill="#fff" stroke="#fff" textLength="6.9" lengthAdjust="spacingAndGlyphs">22</text>
<text x="754.2" y="226.3" fill="#111" stroke="#111" textLength="6.9" lengthAdjust="spacingAndGlyphs">14</text>
<text x="788.9" y="226.3" fill="#fff" stroke="#fff" textLength="6.9" lengthAdjust="spacingAndGlyphs">18</text>
<text x="823.6" y="226.3" fill="#111" stroke="#111" textLength="6.9" lengthAdjust="spacingAndGlyphs">30</text>
<text x="858.3" y="226.3" fill="#111" stroke="#111" textLength="6.9" lengthAdjust="spacingAndGlyphs">25</text>
<text x="60.0" y="235.2" fill="#111" stroke="#111" textLength="6.9" lengthAdjust="spacingAndGlyphs">13</text>
<text x="94.7" y="235.2" fill="#111" stroke="#111" textLength="6.9" lengthAdjust="spacingAndGlyphs">15</text>
<text x="129.4" y="235.2" fill="#111" stroke="#111" textLength="6.9" lengthAdjust="spacingAndGlyphs">14</text>
<text x="164.1" y="235.2" fill="#111" stroke="#111" textLength="3.4" lengthAdjust="spacingAndGlyphs">8</text>
<text x="198.8" y="235.2" fill="#111" stroke="#111" textLength="3.4" lengthAdjust="spacingAndGlyphs">5</text>
<text x="233.5" y="235.2" fill="#111" stroke="#111" textLength="6.9" lengthAdjust="spacingAndGlyphs">15</text>
<text x="268.2" y="235.2" fill="#fff" stroke="#fff" textLength="6.9" lengthAdjust="spacingAndGlyphs">19</text>
<text x="302.9" y="235.2" fill="#111" stroke="#111" textLength="6.9" lengthAdjust="spacingAndGlyphs">13</text>
<text x="337.6" y="235.2" fill="#111" stroke="#111" textLength="3.4" lengthAdjust="spacingAndGlyphs">4</text>
<text x="372.3" y="235.2" fill="#111" stroke="#111" textLength="3.4" lengthAdjust="spacingAndGlyphs">7</text>
<text x="407.1" y="235.2" fill="#111" stroke="#111" textLength="6.9" lengthAdjust="spacingAndGlyphs">10</text>
<text x="441.8" y="235.2" fill="#111" stroke="#111" textLength="3.4" lengthAdjust="spacingAndGlyphs">8</text>
<text x="476.5" y="235.2" fill="#111" stroke="#111" textLength="3.4" lengthAdjust="spacingAndGlyphs">4</text>
<text x="511.2" y="235.2" fill="#111" stroke="#111" textLength="6.9" lengthAdjust="spacingAndGlyphs">10</text>
<text x="545.9" y="235.2" fill="#111" stroke="#111" textLength="6.9" lengthAdjust="spacingAndGlyphs">15</text>
<text x="580.6" y="235.2" fill="#fff" stroke="#fff" textLength="6.9" lengthAdjust="spacingAndGlyphs">20</text>
<text x="615.3" y="235.2" fill="#fff" stroke="#fff" textLength="6.9" lengthAdjust="spacingAndGlyphs">17</text>
<text x="650.0" y="235.2" fill="#111" stroke="#111" textLength="6.9" lengthAdjust="spacingAndGlyphs">15</text>
<text x="684.7" y="235.2" fill="#111" stroke="#111" textLength="6.9" lengthAdjust="spacingAndGlyphs">47</text>
<text x="719.4" y="235.2" fill="#111" stroke="#111" textLength="6.9" lengthAdjust="spacingAndGlyphs">30</text>
<text x="754.2" y="235.2" fill="#fff" stroke="#fff" textLength="6.9" lengthAdjust="spacingAndGlyphs">21</text>
<text x="788.9" y="235.2" fill="#111" stroke="#111" textLength="6.9" lengthAdjust="spacingAndGlyphs">15</text>
<text x="823.6" y="235.2" fill="#111" stroke="#111" textLength="6.9" lengthAdjust="spacingAndGlyphs">25</text>
<text x="858.3" y="235.2" fill="#fff" stroke="#fff" textLength="6.9" lengthAdjust="spacingAndGlyphs">17</text>
<text x="60.0" y="244.1" fill="#111" stroke="#111" textLength="6.9" lengthAdjust="spacingAndGlyphs">16</text>
<text x="94.7" y="244.1" fill="#111" stroke="#111" textLength="6.9" lengthAdjust="spacingAndGlyphs">15</text>
<text x="129.4" y="244.1" fill="#111" stroke="#111" textLength="6.9" lengthAdjust="spacingAndGlyphs">14</text>
<text x="164.1" y="244.1" fill="#111" stroke="#111" textLength="6.9" lengthAdjust="spacingAndGlyphs">10</text>
<text x="198.8" y="244.1" fill="#111" stroke="#111" textLength="3.4" lengthAdjust="spacingAndGlyphs">3</text>
<text x="233.5" y="244.1" fill="#fff" stroke="#fff" textLength="6.9" lengthAdjust="spacingAndGlyphs">19</text>
<text x="268.2" y="244.1" fill="#fff" stroke="#fff" textLength="6.9" lengthAdjust="spacingAndGlyphs">19</text>
<text x="302.9" y="244.1" fill="#fff" stroke="#fff" textLength="6.9" lengthAdjust="spacingAndGlyphs">19</text>
<text x="337.6" y="244.1" fill="#111" stroke="#111" textLength="3.4" lengthAdjust="spacingAndGlyphs">3</text>
<text x="372.3" y="244.1" fill="#111" stroke="#111" textLength="6.9" lengthAdjust="spacingAndGlyphs">10</text>
<text x="407.1" y="244.1" fill="#111" stroke="#111" textLength="6.9" lengthAdjust="spacingAndGlyphs">13</text>
<text x="441.8" y="244.1" fill="#111" stroke="#111" textLength="3.4" lengthAdjust="spacingAndGlyphs">8</text>
<text x="476.5" y="244.1" fill="#111" stroke="#111" textLength="3.4" lengthAdjust="spacingAndGlyphs">4</text>
<text x="511.2" y="244.1" fill="#111" stroke="#111" textLength="3.4" lengthAdjust="spacingAndGlyphs">8</text>
<text x="545.9" y="244.1" fill="#fff" stroke="#fff" textLength="6.9" lengthAdjust="spacingAndGlyphs">34</text>
<text x="580.6" y="244.1" fill="#111" stroke="#111" textLength="6.9" lengthAdjust="spacingAndGlyphs">34</text>
<text x="615.3" y="244.1" fill="#fff" stroke="#fff" textLength="6.9" lengthAdjust="spacingAndGlyphs">21</text>
<text x="650.0" y="244.1" fill="#111" stroke="#111" textLength="3.4" lengthAdjust="spacingAndGlyphs">8</text>
<text x="684.7" y="244.1" fill="#fff" stroke="#fff" textLength="6.9" lengthAdjust="spacingAndGlyphs">23</text>
<text x="719.4" y="244.1" fill="#fff" stroke="#fff" textLength="6.9" lengthAdjust="spacingAndGlyphs">23</text>
<text x="754.2" y="244.1" fill="#111" stroke="#111" textLength="6.9" lengthAdjust="spacingAndGlyphs">28</text>
<text x="788.9" y="244.1" fill="#111" stroke="#111" textLength="6.9" lengthAdjust="spacingAndGlyphs">47</text>
<text x="823.6" y="244.1" fill="#111" stroke="#111" textLength="6.9" lengthAdjust="spacingAndGlyphs">47</text>
<text x="858.3" y="244.1" fill="#111" stroke="#111" textLength="6.9" lengthAdjust="spacingAndGlyphs">40</text>
<text x="60.0" y="252.9" fill="#fff" stroke="#fff" textLength="6.9" lengthAdjust="spacingAndGlyphs">20</text>
<text x="94.7" y="252.9" fill="#111" stroke="#111" textLength="6.9" lengthAdjust="spacingAndGlyphs">12</text>
<text x="129.4" y="252.9" fill="#fff" stroke="#fff" textLength="6.9" lengthAdjust="spacingAndGlyphs">18</text>
<text x="164.1" y="252.9" fill="#111" stroke="#111" textLength="3.4" lengthAdjust="spacingAndGlyphs">8</text>
<text x="198.8" y="252.9" fill="#111" stroke="#111" textLength="3.4" lengthAdjust="spacingAndGlyphs">4</text>
<text x="233.5" y="252.9" fill="#111" stroke="#111" textLength="6.9" lengthAdjust="spacingAndGlyphs">13</text>
<text x="268.2" y="252.9" fill="#fff" stroke="#fff" textLength="6.9" lengthAdjust="spacingAndGlyphs">16</text>
<text x="302.9" y="252.9" fill="#111" stroke="#111" textLength="6.9" lengthAdjust="spacingAndGlyphs">13</text>
<text x="337.6" y="252.9" fill="#111" stroke="#111" textLength="3.4" lengthAdjust="spacingAndGlyphs">5</text>
<text x="372.3" y="252.9" fill="#111" stroke="#111" textLength="6.9" lengthAdjust="spacingAndGlyphs">11</text>
<text x="407.1" y="252.9" fill="#fff" stroke="#fff" textLength="6.9" lengthAdjust="spacingAndGlyphs">17</text>
<text x="441.8" y="252.9" fill="#111" stroke="#111" textLength="3.4" lengthAdjust="spacingAndGlyphs">9</text>
<text x="476.5" y="252.9" fill="#111" stroke="#111" textLength="3.4" lengthAdjust="spacingAndGlyphs">5</text>
<text x="511.2" y="252.9" fill="#111" stroke="#111" textLength="6.9" lengthAdjust="spacingAndGlyphs">10</text>
<text x="545.9" y="252.9" fill="#111" stroke="#111" textLength="6.9" lengthAdjust="spacingAndGlyphs">11</text>
<text x="580.6" y="252.9" fill="#111" stroke="#111" textLength="3.4" lengthAdjust="spacingAndGlyphs">9</text>
<text x="615.3" y="252.9" fill="#111" stroke="#111" textLength="6.9" lengthAdjust="spacingAndGlyphs">13</text>
<text x="650.0" y="252.9" fill="#111" stroke="#111" textLength="6.9" lengthAdjust="spacingAndGlyphs">11</text>
<text x="684.7" y="252.9" fill="#111" stroke="#111" textLength="6.9" lengthAdjust="spacingAndGlyphs">27</text>
<text x="719.4" y="252.9" fill="#111" stroke="#111" textLength="6.9" lengthAdjust="spacingAndGlyphs">38</text>
<text x="754.2" y="252.9" fill="#111" stroke="#111" textLength="6.9" lengthAdjust="spacingAndGlyphs">26</text>
<text x="788.9" y="252.9" fill="#fff" stroke="#fff" textLength="6.9" lengthAdjust="spacingAndGlyphs">21</text>
<text x="823.6" y="252.9" fill="#fff" stroke="#fff" textLength="6.9" lengthAdjust="spacingAndGlyphs">22</text>
<text x="858.3" y="252.9" fill="#111" stroke="#111" textLength="6.9" lengthAdjust="spacingAndGlyphs">25</text>
<text x="60.0" y="261.8" fill="#fff" stroke="#fff" textLength="6.9" lengthAdjust="spacingAndGlyphs">20</text>
<text x="94.7" y="261.8" fill="#111" stroke="#111" textLength="6.9" lengthAdjust="spacingAndGlyphs">15</text>
<text x="129.4" y="261.8" fill="#fff" stroke="#fff" textLength="6.9" lengthAdjust="spacingAndGlyphs">19</text>
<text x="164.1" y="261.8" fill="#111" stroke="#111" textLength="3.4" lengthAdjust="spacingAndGlyphs">9</text>
<text x="198.8" y="261.8" fill="#111" stroke="#111" textLength="3.4" lengthAdjust="spacingAndGlyphs">3</text>
<text x="233.5" y="261.8" fill="#111" stroke="#111" textLength="6.9" lengthAdjust="spacingAndGlyphs">13</text>
<text x="268.2" y="261.8" fill="#fff" stroke="#fff" textLength="6.9" lengthAdjust="spacingAndGlyphs">17</text>
<text x="302.9" y="261.8" fill="#111" stroke="#111" textLength="6.9" lengthAdjust="spacingAndGlyphs">13</text>
<text x="337.6" y="261.8" fill="#111" stroke="#111" textLength="3.4" lengthAdjust="spacingAndGlyphs">4</text>
<text x="372.3" y="261.8" fill="#111" stroke="#111" textLength="6.9" lengthAdjust="spacingAndGlyphs">11</text>
<text x="407.1" y="261.8" fill="#111" stroke="#111" textLength="6.9" lengthAdjust="spacingAndGlyphs">15</text>
<text x="441.8" y="261.8" fill="#111" stroke="#111" textLength="3.4" lengthAdjust="spacingAndGlyphs">9</text>
<text x="476.5" y="261.8" fill="#111" stroke="#111" textLength="3.4" lengthAdjust="spacingAndGlyphs">5</text>
<text x="511.2" y="261.8" fill="#111" stroke="#111" textLength="3.4" lengthAdjust="spacingAndGlyphs">9</text>
<text x="545.9" y="261.8" fill="#111" stroke="#111" textLength="6.9" lengthAdjust="spacingAndGlyphs">28</text>
<text x="580.6" y="261.8" fill="#111" stroke="#111" textLength="6.9" lengthAdjust="spacingAndGlyphs">31</text>
<text x="615.3" y="261.8" fill="#fff" stroke="#fff" textLength="6.9" lengthAdjust="spacingAndGlyphs">19</text>
<text x="650.0" y="261.8" fill="#fff" stroke="#fff" textLength="6.9" lengthAdjust="spacingAndGlyphs">19</text>
<text x="684.7" y="261.8" fill="#111" stroke="#111" textLength="6.9" lengthAdjust="spacingAndGlyphs">33</text>
<text x="719.4" y="261.8" fill="#111" stroke="#111" textLength="6.9" lengthAdjust="spacingAndGlyphs">27</text>
<text x="754.2" y="261.8" fill="#111" stroke="#111" textLength="6.9" lengthAdjust="spacingAndGlyphs">11</text>
<text x="788.9" y="261.8" fill="#111" stroke="#111" textLength="6.9" lengthAdjust="spacingAndGlyphs">26</text>
<text x="823.6" y="261.8" fill="#111" stroke="#111" textLength="6.9" lengthAdjust="spacingAndGlyphs">33</text>
<text x="858.3" y="261.8" fill="#111" stroke="#111" textLength="6.9" lengthAdjust="spacingAndGlyphs">29</text>
<text x="60.0" y="270.7" fill="#fff" stroke="#fff" textLength="6.9" lengthAdjust="spacingAndGlyphs">16</text>
<text x="94.7" y="270.7" fill="#111" stroke="#111" textLength="6.9" lengthAdjust="spacingAndGlyphs">16</text>
<text x="129.4" y="270.7" fill="#fff" stroke="#fff" textLength="6.9" lengthAdjust="spacingAndGlyphs">18</text>
<text x="164.1" y="270.7" fill="#111" stroke="#111" textLength="6.9" lengthAdjust="spacingAndGlyphs">10</text>
<text x="198.8" y="270.7" fill="#111" stroke="#111" textLength="3.4" lengthAdjust="spacingAndGlyphs">3</text>
<text x="233.5" y="270.7" fill="#111" stroke="#111" textLength="6.9" lengthAdjust="spacingAndGlyphs">15</text>
<text x="268.2" y="270.7" fill="#fff" stroke="#fff" textLength="6.9" lengthAdjust="spacingAndGlyphs">18</text>
<text x="302.9" y="270.7" fill="#111" stroke="#111" textLength="6.9" lengthAdjust="spacingAndGlyphs">15</text>
<text x="337.6" y="270.7" fill="#111" stroke="#111" textLength="3.4" lengthAdjust="spacingAndGlyphs">3</text>
<text x="372.3" y="270.7" fill="#111" stroke="#111" textLength="6.9" lengthAdjust="spacingAndGlyphs">12</text>
<text x="407.1" y="270.7" fill="#fff" stroke="#fff" textLength="6.9" lengthAdjust="spacingAndGlyphs">16</text>
<text x="441.8" y="270.7" fill="#111" stroke="#111" textLength="6.9" lengthAdjust="spacingAndGlyphs">10</text>
<text x="476.5" y="270.7" fill="#111" stroke="#111" textLength="3.4" lengthAdjust="spacingAndGlyphs">7</text>
<text x="511.2" y="270.7" fill="#111" stroke="#111" textLength="3.4" lengthAdjust="spacingAndGlyphs">7</text>
<text x="545.9" y="270.7" fill="#fff" stroke="#fff" textLength="6.9" lengthAdjust="spacingAndGlyphs">22</text>
<text x="580.6" y="270.7" fill="#111" stroke="#111" textLength="6.9" lengthAdjust="spacingAndGlyphs">15</text>
<text x="615.3" y="270.7" fill="#111" stroke="#111" textLength="6.9" lengthAdjust="spacingAndGlyphs">28</text>
<text x="650.0" y="270.7" fill="#111" stroke="#111" textLength="6.9" lengthAdjust="spacingAndGlyphs">28</text>
<text x="684.7" y="270.7" fill="#111" stroke="#111" textLength="6.9" lengthAdjust="spacingAndGlyphs">31</text>
<text x="719.4" y="270.7" fill="#111" stroke="#111" textLength="6.9" lengthAdjust="spacingAndGlyphs">25</text>
<text x="754.2" y="270.7" fill="#111" stroke="#111" textLength="6.9" lengthAdjust="spacingAndGlyphs">11</text>
<text x="788.9" y="270.7" fill="#111" stroke="#111" textLength="3.4" lengthAdjust="spacingAndGlyphs">9</text>
<text x="823.6" y="270.7" fill="#111" stroke="#111" textLength="6.9" lengthAdjust="spacingAndGlyphs">37</text>
<text x="858.3" y="270.7" fill="#111" stroke="#111" textLength="6.9" lengthAdjust="spacingAndGlyphs">37</text>
<text x="60.0" y="279.5" fill="#fff" stroke="#fff" textLength="6.9" lengthAdjust="spacingAndGlyphs">17</text>
<text x="94.7" y="279.5" fill="#111" stroke="#111" textLength="6.9" lengthAdjust="spacingAndGlyphs">15</text>
<text x="129.4" y="279.5" fill="#111" stroke="#111" textLength="6.9" lengthAdjust="spacingAndGlyphs">16</text>
<text x="164.1" y="279.5" fill="#111" stroke="#111" textLength="6.9" lengthAdjust="spacingAndGlyphs">10</text>
<text x="198.8" y="279.5" fill="#111" stroke="#111" textLength="3.4" lengthAdjust="spacingAndGlyphs">4</text>
<text x="233.5" y="279.5" fill="#111" stroke="#111" textLength="6.9" lengthAdjust="spacingAndGlyphs">13</text>
<text x="268.2" y="279.5" fill="#111" stroke="#111" textLength="6.9" lengthAdjust="spacingAndGlyphs">14</text>
<text x="302.9" y="279.5" fill="#111" stroke="#111" textLength="3.4" lengthAdjust="spacingAndGlyphs">8</text>
<text x="337.6" y="279.5" fill="#111" stroke="#111" textLength="3.4" lengthAdjust="spacingAndGlyphs">4</text>
<text x="372.3" y="279.5" fill="#111" stroke="#111" textLength="6.9" lengthAdjust="spacingAndGlyphs">13</text>
<text x="407.1" y="279.5" fill="#fff" stroke="#fff" textLength="6.9" lengthAdjust="spacingAndGlyphs">17</text>
<text x="441.8" y="279.5" fill="#111" stroke="#111" textLength="3.4" lengthAdjust="spacingAndGlyphs">8</text>
<text x="476.5" y="279.5" fill="#111" stroke="#111" textLength="3.4" lengthAdjust="spacingAndGlyphs">6</text>
<text x="511.2" y="279.5" fill="#111" stroke="#111" textLength="3.4" lengthAdjust="spacingAndGlyphs">9</text>
<text x="545.9" y="279.5" fill="#fff" stroke="#fff" textLength="6.9" lengthAdjust="spacingAndGlyphs">16</text>
<text x="580.6" y="279.5" fill="#111" stroke="#111" textLength="6.9" lengthAdjust="spacingAndGlyphs">26</text>
<text x="615.3" y="279.5" fill="#111" stroke="#111" textLength="6.9" lengthAdjust="spacingAndGlyphs">13</text>
<text x="650.0" y="279.5" fill="#fff" stroke="#fff" textLength="6.9" lengthAdjust="spacingAndGlyphs">24</text>
<text x="684.7" y="279.5" fill="#111" stroke="#111" textLength="6.9" lengthAdjust="spacingAndGlyphs">36</text>
<text x="719.4" y="279.5" fill="#111" stroke="#111" textLength="6.9" lengthAdjust="spacingAndGlyphs">44</text>
<text x="754.2" y="279.5" fill="#fff" stroke="#fff" textLength="6.9" lengthAdjust="spacingAndGlyphs">18</text>
<text x="788.9" y="279.5" fill="#111" stroke="#111" textLength="6.9" lengthAdjust="spacingAndGlyphs">12</text>
<text x="823.6" y="279.5" fill="#111" stroke="#111" textLength="6.9" lengthAdjust="spacingAndGlyphs">30</text>
<text x="858.3" y="279.5" fill="#111" stroke="#111" textLength="6.9" lengthAdjust="spacingAndGlyphs">28</text>
<text x="60.0" y="288.4" fill="#fff" stroke="#fff" textLength="6.9" lengthAdjust="spacingAndGlyphs">20</text>
<text x="94.7" y="288.4" fill="#111" stroke="#111" textLength="6.9" lengthAdjust="spacingAndGlyphs">10</text>
<text x="129.4" y="288.4" fill="#111" stroke="#111" textLength="6.9" lengthAdjust="spacingAndGlyphs">15</text>
<text x="164.1" y="288.4" fill="#111" stroke="#111" textLength="3.4" lengthAdjust="spacingAndGlyphs">9</text>
<text x="198.8" y="288.4" fill="#111" stroke="#111" textLength="3.4" lengthAdjust="spacingAndGlyphs">4</text>
<text x="233.5" y="288.4" fill="#111" stroke="#111" textLength="6.9" lengthAdjust="spacingAndGlyphs">14</text>
<text x="268.2" y="288.4" fill="#fff" stroke="#fff" textLength="6.9" lengthAdjust="spacingAndGlyphs">17</text>
<text x="302.9" y="288.4" fill="#111" stroke="#111" textLength="6.9" lengthAdjust="spacingAndGlyphs">12</text>
<text x="337.6" y="288.4" fill="#111" stroke="#111" textLength="3.4" lengthAdjust="spacingAndGlyphs">4</text>
<text x="372.3" y="288.4" fill="#111" stroke="#111" textLength="6.9" lengthAdjust="spacingAndGlyphs">11</text>
<text x="407.1" y="288.4" fill="#111" stroke="#111" textLength="6.9" lengthAdjust="spacingAndGlyphs">13</text>
<text x="441.8" y="288.4" fill="#111" stroke="#111" textLength="3.4" lengthAdjust="spacingAndGlyphs">8</text>
<text x="476.5" y="288.4" fill="#111" stroke="#111" textLength="3.4" lengthAdjust="spacingAndGlyphs">5</text>
<text x="511.2" y="288.4" fill="#111" stroke="#111" textLength="3.4" lengthAdjust="spacingAndGlyphs">8</text>
<text x="545.9" y="288.4" fill="#111" stroke="#111" textLength="6.9" lengthAdjust="spacingAndGlyphs">13</text>
<text x="580.6" y="288.4" fill="#fff" stroke="#fff" textLength="6.9" lengthAdjust="spacingAndGlyphs">19</text>
<text x="615.3" y="288.4" fill="#111" stroke="#111" textLength="6.9" lengthAdjust="spacingAndGlyphs">12</text>
<text x="650.0" y="288.4" fill="#111" stroke="#111" textLength="3.4" lengthAdjust="spacingAndGlyphs">9</text>
<text x="684.7" y="288.4" fill="#111" stroke="#111" textLength="6.9" lengthAdjust="spacingAndGlyphs">33</text>
<text x="719.4" y="288.4" fill="#111" stroke="#111" textLength="6.9" lengthAdjust="spacingAndGlyphs">36</text>
<text x="754.2" y="288.4" fill="#111" stroke="#111" textLength="6.9" lengthAdjust="spacingAndGlyphs">12</text>
<text x="788.9" y="288.4" fill="#fff" stroke="#fff" textLength="6.9" lengthAdjust="spacingAndGlyphs">22</text>
<text x="823.6" y="288.4" fill="#fff" stroke="#fff" textLength="6.9" lengthAdjust="spacingAndGlyphs">23</text>
<text x="858.3" y="288.4" fill="#fff" stroke="#fff" textLength="6.9" lengthAdjust="spacingAndGlyphs">18</text>
<text x="60.0" y="297.3" fill="#fff" stroke="#fff" textLength="6.9" lengthAdjust="spacingAndGlyphs">17</text>
<text x="94.7" y="297.3" fill="#111" stroke="#111" textLength="6.9" lengthAdjust="spacingAndGlyphs">14</text>
<text x="129.4" y="297.3" fill="#111" stroke="#111" textLength="6.9" lengthAdjust="spacingAndGlyphs">15</text>
<text x="164.1" y="297.3" fill="#111" stroke="#111" textLength="6.9" lengthAdjust="spacingAndGlyphs">12</text>
<text x="198.8" y="297.3" fill="#111" stroke="#111" textLength="3.4" lengthAdjust="spacingAndGlyphs">3</text>
<text x="233.5" y="297.3" fill="#111" stroke="#111" textLength="6.9" lengthAdjust="spacingAndGlyphs">14</text>
<text x="268.2" y="297.3" fill="#fff" stroke="#fff" textLength="6.9" lengthAdjust="spacingAndGlyphs">18</text>
<text x="302.9" y="297.3" fill="#111" stroke="#111" textLength="6.9" lengthAdjust="spacingAndGlyphs">14</text>
<text x="337.6" y="297.3" fill="#111" stroke="#111" textLength="3.4" lengthAdjust="spacingAndGlyphs">4</text>
<text x="372.3" y="297.3" fill="#111" stroke="#111" textLength="3.4" lengthAdjust="spacingAndGlyphs">9</text>
<text x="407.1" y="297.3" fill="#fff" stroke="#fff" textLength="6.9" lengthAdjust="spacingAndGlyphs">17</text>
<text x="441.8" y="297.3" fill="#111" stroke="#111" textLength="6.9" lengthAdjust="spacingAndGlyphs">15</text>
<text x="476.5" y="297.3" fill="#111" stroke="#111" textLength="3.4" lengthAdjust="spacingAndGlyphs">5</text>
<text x="511.2" y="297.3" fill="#111" stroke="#111" textLength="3.4" lengthAdjust="spacingAndGlyphs">8</text>
<text x="545.9" y="297.3" fill="#fff" stroke="#fff" textLength="6.9" lengthAdjust="spacingAndGlyphs">20</text>
<text x="580.6" y="297.3" fill="#fff" stroke="#fff" textLength="6.9" lengthAdjust="spacingAndGlyphs">22</text>
<text x="615.3" y="297.3" fill="#111" stroke="#111" textLength="6.9" lengthAdjust="spacingAndGlyphs">10</text>
<text x="650.0" y="297.3" fill="#111" stroke="#111" textLength="3.4" lengthAdjust="spacingAndGlyphs">9</text>
<text x="684.7" y="297.3" fill="#111" stroke="#111" textLength="6.9" lengthAdjust="spacingAndGlyphs">30</text>
<text x="719.4" y="297.3" fill="#111" stroke="#111" textLength="6.9" lengthAdjust="spacingAndGlyphs">37</text>
<text x="754.2" y="297.3" fill="#111" stroke="#111" textLength="6.9" lengthAdjust="spacingAndGlyphs">32</text>
<text x="788.9" y="297.3" fill="#111" stroke="#111" textLength="6.9" lengthAdjust="spacingAndGlyphs">39</text>
<text x="823.6" y="297.3" fill="#111" stroke="#111" textLength="6.9" lengthAdjust="spacingAndGlyphs">41</text>
<text x="858.3" y="297.3" fill="#111" stroke="#111" textLength="6.9" lengthAdjust="spacingAndGlyphs">38</text>
<text x="60.0" y="306.1" fill="#fff" stroke="#fff" textLength="6.9" lengthAdjust="spacingAndGlyphs">19</text>
<text x="94.7" y="306.1" fill="#111" stroke="#111" textLength="6.9" lengthAdjust="spacingAndGlyphs">11</text>
<text x="129.4" y="306.1" fill="#fff" stroke="#fff" textLength="6.9" lengthAdjust="spacingAndGlyphs">16</text>
<text x="164.1" y="306.1" fill="#111" stroke="#111" textLength="3.4" lengthAdjust="spacingAndGlyphs">9</text>
<text x="198.8" y="306.1" fill="#111" stroke="#111" textLength="3.4" lengthAdjust="spacingAndGlyphs">5</text>
<text x="233.5" y="306.1" fill="#111" stroke="#111" textLength="6.9" lengthAdjust="spacingAndGlyphs">15</text>
<text x="268.2" y="306.1" fill="#fff" stroke="#fff" textLength="6.9" lengthAdjust="spacingAndGlyphs">19</text>
<text x="302.9" y="306.1" fill="#111" stroke="#111" textLength="6.9" lengthAdjust="spacingAndGlyphs">16</text>
<text x="337.6" y="306.1" fill="#111" stroke="#111" textLength="3.4" lengthAdjust="spacingAndGlyphs">5</text>
<text x="372.3" y="306.1" fill="#111" stroke="#111" textLength="6.9" lengthAdjust="spacingAndGlyphs">13</text>
<text x="407.1" y="306.1" fill="#fff" stroke="#fff" textLength="6.9" lengthAdjust="spacingAndGlyphs">17</text>
<text x="441.8" y="306.1" fill="#111" stroke="#111" textLength="3.4" lengthAdjust="spacingAndGlyphs">7</text>
<text x="476.5" y="306.1" fill="#111" stroke="#111" textLength="3.4" lengthAdjust="spacingAndGlyphs">5</text>
<text x="511.2" y="306.1" fill="#111" stroke="#111" textLength="6.9" lengthAdjust="spacingAndGlyphs">11</text>
<text x="545.9" y="306.1" fill="#fff" stroke="#fff" textLength="6.9" lengthAdjust="spacingAndGlyphs">22</text>
<text x="580.6" y="306.1" fill="#fff" stroke="#fff" textLength="6.9" lengthAdjust="spacingAndGlyphs">20</text>
<text x="615.3" y="306.1" fill="#111" stroke="#111" textLength="6.9" lengthAdjust="spacingAndGlyphs">14</text>
<text x="650.0" y="306.1" fill="#111" stroke="#111" textLength="6.9" lengthAdjust="spacingAndGlyphs">12</text>
<text x="684.7" y="306.1" fill="#fff" stroke="#fff" textLength="6.9" lengthAdjust="spacingAndGlyphs">16</text>
<text x="719.4" y="306.1" fill="#111" stroke="#111" textLength="6.9" lengthAdjust="spacingAndGlyphs">13</text>
<text x="754.2" y="306.1" fill="#111" stroke="#111" textLength="6.9" lengthAdjust="spacingAndGlyphs">14</text>
<text x="788.9" y="306.1" fill="#fff" stroke="#fff" textLength="6.9" lengthAdjust="spacingAndGlyphs">21</text>
<text x="823.6" y="306.1" fill="#111" stroke="#111" textLength="6.9" lengthAdjust="spacingAndGlyphs">29</text>
<text x="858.3" y="306.1" fill="#111" stroke="#111" textLength="6.9" lengthAdjust="spacingAndGlyphs">30</text>
<text x="60.0" y="315.0" fill="#fff" stroke="#fff" textLength="6.9" lengthAdjust="spacingAndGlyphs">17</text>
<text x="94.7" y="315.0" fill="#111" stroke="#111" textLength="6.9" lengthAdjust="spacingAndGlyphs">15</text>
<text x="129.4" y="315.0" fill="#111" stroke="#111" textLength="6.9" lengthAdjust="spacingAndGlyphs">15</text>
<text x="164.1" y="315.0" fill="#111" stroke="#111" textLength="6.9" lengthAdjust="spacingAndGlyphs">11</text>
<text x="198.8" y="315.0" fill="#111" stroke="#111" textLength="3.4" lengthAdjust="spacingAndGlyphs">4</text>
<text x="233.5" y="315.0" fill="#fff" stroke="#fff" textLength="6.9" lengthAdjust="spacingAndGlyphs">17</text>
<text x="268.2" y="315.0" fill="#fff" stroke="#fff" textLength="6.9" lengthAdjust="spacingAndGlyphs">19</text>
<text x="302.9" y="315.0" fill="#111" stroke="#111" textLength="6.9" lengthAdjust="spacingAndGlyphs">14</text>
<text x="337.6" y="315.0" fill="#111" stroke="#111" textLength="3.4" lengthAdjust="spacingAndGlyphs">4</text>
<text x="372.3" y="315.0" fill="#111" stroke="#111" textLength="3.4" lengthAdjust="spacingAndGlyphs">8</text>
<text x="407.1" y="315.0" fill="#111" stroke="#111" textLength="6.9" lengthAdjust="spacingAndGlyphs">12</text>
<text x="441.8" y="315.0" fill="#111" stroke="#111" textLength="3.4" lengthAdjust="spacingAndGlyphs">8</text>
<text x="476.5" y="315.0" fill="#111" stroke="#111" textLength="3.4" lengthAdjust="spacingAndGlyphs">6</text>
<text x="511.2" y="315.0" fill="#111" stroke="#111" textLength="6.9" lengthAdjust="spacingAndGlyphs">13</text>
<text x="545.9" y="315.0" fill="#111" stroke="#111" textLength="6.9" lengthAdjust="spacingAndGlyphs">25</text>
<text x="580.6" y="315.0" fill="#fff" stroke="#fff" textLength="6.9" lengthAdjust="spacingAndGlyphs">20</text>
<text x="615.3" y="315.0" fill="#111" stroke="#111" textLength="6.9" lengthAdjust="spacingAndGlyphs">10</text>
<text x="650.0" y="315.0" fill="#fff" stroke="#fff" textLength="6.9" lengthAdjust="spacingAndGlyphs">21</text>
<text x="684.7" y="315.0" fill="#fff" stroke="#fff" textLength="6.9" lengthAdjust="spacingAndGlyphs">20</text>
<text x="719.4" y="315.0" fill="#fff" stroke="#fff" textLength="6.9" lengthAdjust="spacingAndGlyphs">23</text>
<text x="754.2" y="315.0" fill="#111" stroke="#111" textLength="6.9" lengthAdjust="spacingAndGlyphs">30</text>
<text x="788.9" y="315.0" fill="#111" stroke="#111" textLength="6.9" lengthAdjust="spacingAndGlyphs">41</text>
<text x="823.6" y="315.0" fill="#111" stroke="#111" textLength="6.9" lengthAdjust="spacingAndGlyphs">41</text>
<text x="858.3" y="315.0" fill="#111" stroke="#111" textLength="6.9" lengthAdjust="spacingAndGlyphs">36</text>
<text x="60.0" y="323.9" fill="#fff" stroke="#fff" textLength="6.9" lengthAdjust="spacingAndGlyphs">22</text>
<text x="94.7" y="323.9" fill="#111" stroke="#111" textLength="6.9" lengthAdjust="spacingAndGlyphs">13</text>
<text x="129.4" y="323.9" fill="#fff" stroke="#fff" textLength="6.9" lengthAdjust="spacingAndGlyphs">17</text>
<text x="164.1" y="323.9" fill="#111" stroke="#111" textLength="6.9" lengthAdjust="spacingAndGlyphs">15</text>
<text x="198.8" y="323.9" fill="#111" stroke="#111" textLength="3.4" lengthAdjust="spacingAndGlyphs">4</text>
<text x="233.5" y="323.9" fill="#111" stroke="#111" textLength="6.9" lengthAdjust="spacingAndGlyphs">13</text>
<text x="268.2" y="323.9" fill="#111" stroke="#111" textLength="6.9" lengthAdjust="spacingAndGlyphs">16</text>
<text x="302.9" y="323.9" fill="#111" stroke="#111" textLength="6.9" lengthAdjust="spacingAndGlyphs">13</text>
<text x="337.6" y="323.9" fill="#111" stroke="#111" textLength="3.4" lengthAdjust="spacingAndGlyphs">6</text>
<text x="372.3" y="323.9" fill="#111" stroke="#111" textLength="6.9" lengthAdjust="spacingAndGlyphs">11</text>
<text x="407.1" y="323.9" fill="#111" stroke="#111" textLength="6.9" lengthAdjust="spacingAndGlyphs">14</text>
<text x="441.8" y="323.9" fill="#111" stroke="#111" textLength="6.9" lengthAdjust="spacingAndGlyphs">10</text>
<text x="476.5" y="323.9" fill="#111" stroke="#111" textLength="3.4" lengthAdjust="spacingAndGlyphs">7</text>
<text x="511.2" y="323.9" fill="#111" stroke="#111" textLength="3.4" lengthAdjust="spacingAndGlyphs">8</text>
<text x="545.9" y="323.9" fill="#111" stroke="#111" textLength="6.9" lengthAdjust="spacingAndGlyphs">38</text>
<text x="580.6" y="323.9" fill="#111" stroke="#111" textLength="6.9" lengthAdjust="spacingAndGlyphs">36</text>
<text x="615.3" y="323.9" fill="#111" stroke="#111" textLength="6.9" lengthAdjust="spacingAndGlyphs">27</text>
<text x="650.0" y="323.9" fill="#fff" stroke="#fff" textLength="6.9" lengthAdjust="spacingAndGlyphs">22</text>
<text x="684.7" y="323.9" fill="#fff" stroke="#fff" textLength="6.9" lengthAdjust="spacingAndGlyphs">34</text>
<text x="719.4" y="323.9" fill="#111" stroke="#111" textLength="6.9" lengthAdjust="spacingAndGlyphs">32</text>
<text x="754.2" y="323.9" fill="#111" stroke="#111" textLength="6.9" lengthAdjust="spacingAndGlyphs">31</text>
<text x="788.9" y="323.9" fill="#fff" stroke="#fff" textLength="6.9" lengthAdjust="spacingAndGlyphs">35</text>
<text x="823.6" y="323.9" fill="#111" stroke="#111" textLength="6.9" lengthAdjust="spacingAndGlyphs">37</text>
<text x="858.3" y="323.9" fill="#111" stroke="#111" textLength="6.9" lengthAdjust="spacingAndGlyphs">31</text>
<text x="60.0" y="332.7" fill="#fff" stroke="#fff" textLength="6.9" lengthAdjust="spacingAndGlyphs">17</text>
<text x="94.7" y="332.7" fill="#111" stroke="#111" textLength="6.9" lengthAdjust="spacingAndGlyphs">15</text>
<text x="129.4" y="332.7" fill="#111" stroke="#111" textLength="6.9" lengthAdjust="spacingAndGlyphs">13</text>
<text x="164.1" y="332.7" fill="#111" stroke="#111" textLength="6.9" lengthAdjust="spacingAndGlyphs">13</text>
<text x="198.8" y="332.7" fill="#111" stroke="#111" textLength="3.4" lengthAdjust="spacingAndGlyphs">3</text>
<text x="233.5" y="332.7" fill="#111" stroke="#111" textLength="6.9" lengthAdjust="spacingAndGlyphs">14</text>
<text x="268.2" y="332.7" fill="#fff" stroke="#fff" textLength="6.9" lengthAdjust="spacingAndGlyphs">16</text>
<text x="302.9" y="332.7" fill="#111" stroke="#111" textLength="6.9" lengthAdjust="spacingAndGlyphs">13</text>
<text x="337.6" y="332.7" fill="#111" stroke="#111" textLength="3.4" lengthAdjust="spacingAndGlyphs">3</text>
<text x="372.3" y="332.7" fill="#111" stroke="#111" textLength="6.9" lengthAdjust="spacingAndGlyphs">11</text>
<text x="407.1" y="332.7" fill="#111" stroke="#111" textLength="6.9" lengthAdjust="spacingAndGlyphs">15</text>
<text x="441.8" y="332.7" fill="#111" stroke="#111" textLength="3.4" lengthAdjust="spacingAndGlyphs">9</text>
<text x="476.5" y="332.7" fill="#111" stroke="#111" textLength="3.4" lengthAdjust="spacingAndGlyphs">5</text>
<text x="511.2" y="332.7" fill="#111" stroke="#111" textLength="6.9" lengthAdjust="spacingAndGlyphs">10</text>
<text x="545.9" y="332.7" fill="#111" stroke="#111" textLength="6.9" lengthAdjust="spacingAndGlyphs">15</text>
<text x="580.6" y="332.7" fill="#111" stroke="#111" textLength="6.9" lengthAdjust="spacingAndGlyphs">10</text>
<text x="615.3" y="332.7" fill="#111" stroke="#111" textLength="6.9" lengthAdjust="spacingAndGlyphs">12</text>
<text x="650.0" y="332.7" fill="#111" stroke="#111" textLength="6.9" lengthAdjust="spacingAndGlyphs">11</text>
<text x="684.7" y="332.7" fill="#111" stroke="#111" textLength="6.9" lengthAdjust="spacingAndGlyphs">14</text>
<text x="719.4" y="332.7" fill="#111" stroke="#111" textLength="6.9" lengthAdjust="spacingAndGlyphs">38</text>
<text x="754.2" y="332.7" fill="#111" stroke="#111" textLength="6.9" lengthAdjust="spacingAndGlyphs">27</text>
<text x="788.9" y="332.7" fill="#fff" stroke="#fff" textLength="6.9" lengthAdjust="spacingAndGlyphs">18</text>
<text x="823.6" y="332.7" fill="#111" stroke="#111" textLength="6.9" lengthAdjust="spacingAndGlyphs">15</text>
<text x="858.3" y="332.7" fill="#111" stroke="#111" textLength="6.9" lengthAdjust="spacingAndGlyphs">14</text>
<text x="60.0" y="341.6" fill="#fff" stroke="#fff" textLength="6.9" lengthAdjust="spacingAndGlyphs">17</text>
<text x="94.7" y="341.6" fill="#111" stroke="#111" textLength="6.9" lengthAdjust="spacingAndGlyphs">14</text>
<text x="129.4" y="341.6" fill="#111" stroke="#111" textLength="6.9" lengthAdjust="spacingAndGlyphs">16</text>
<text x="164.1" y="341.6" fill="#111" stroke="#111" textLength="3.4" lengthAdjust="spacingAndGlyphs">9</text>
<text x="198.8" y="341.6" fill="#111" stroke="#111" textLength="3.4" lengthAdjust="spacingAndGlyphs">4</text>
<text x="233.5" y="341.6" fill="#111" stroke="#111" textLength="6.9" lengthAdjust="spacingAndGlyphs">13</text>
<text x="268.2" y="341.6" fill="#fff" stroke="#fff" textLength="6.9" lengthAdjust="spacingAndGlyphs">17</text>
<text x="302.9" y="341.6" fill="#111" stroke="#111" textLength="6.9" lengthAdjust="spacingAndGlyphs">12</text>
<text x="337.6" y="341.6" fill="#111" stroke="#111" textLength="3.4" lengthAdjust="spacingAndGlyphs">5</text>
<text x="372.3" y="341.6" fill="#111" stroke="#111" textLength="6.9" lengthAdjust="spacingAndGlyphs">11</text>
<text x="407.1" y="341.6" fill="#111" stroke="#111" textLength="6.9" lengthAdjust="spacingAndGlyphs">14</text>
<text x="441.8" y="341.6" fill="#111" stroke="#111" textLength="3.4" lengthAdjust="spacingAndGlyphs">9</text>
<text x="476.5" y="341.6" fill="#111" stroke="#111" textLength="3.4" lengthAdjust="spacingAndGlyphs">4</text>
<text x="511.2" y="341.6" fill="#111" stroke="#111" textLength="3.4" lengthAdjust="spacingAndGlyphs">8</text>
<text x="545.9" y="341.6" fill="#111" stroke="#111" textLength="6.9" lengthAdjust="spacingAndGlyphs">14</text>
<text x="580.6" y="341.6" fill="#fff" stroke="#fff" textLength="6.9" lengthAdjust="spacingAndGlyphs">19</text>
<text x="615.3" y="341.6" fill="#111" stroke="#111" textLength="6.9" lengthAdjust="spacingAndGlyphs">10</text>
<text x="650.0" y="341.6" fill="#111" stroke="#111" textLength="6.9" lengthAdjust="spacingAndGlyphs">10</text>
<text x="684.7" y="341.6" fill="#111" stroke="#111" textLength="6.9" lengthAdjust="spacingAndGlyphs">45</text>
<text x="719.4" y="341.6" fill="#111" stroke="#111" textLength="6.9" lengthAdjust="spacingAndGlyphs">46</text>
<text x="754.2" y="341.6" fill="#111" stroke="#111" textLength="6.9" lengthAdjust="spacingAndGlyphs">30</text>
<text x="788.9" y="341.6" fill="#111" stroke="#111" textLength="3.4" lengthAdjust="spacingAndGlyphs">9</text>
<text x="823.6" y="341.6" fill="#111" stroke="#111" textLength="6.9" lengthAdjust="spacingAndGlyphs">25</text>
<text x="858.3" y="341.6" fill="#fff" stroke="#fff" textLength="6.9" lengthAdjust="spacingAndGlyphs">23</text>
<text x="60.0" y="350.5" fill="#111" stroke="#111" textLength="6.9" lengthAdjust="spacingAndGlyphs">11</text>
<text x="94.7" y="350.5" fill="#111" stroke="#111" textLength="6.9" lengthAdjust="spacingAndGlyphs">11</text>
<text x="129.4" y="350.5" fill="#111" stroke="#111" textLength="6.9" lengthAdjust="spacingAndGlyphs">13</text>
<text x="164.1" y="350.5" fill="#111" stroke="#111" textLength="6.9" lengthAdjust="spacingAndGlyphs">10</text>
<text x="198.8" y="350.5" fill="#111" stroke="#111" textLength="3.4" lengthAdjust="spacingAndGlyphs">3</text>
<text x="233.5" y="350.5" fill="#111" stroke="#111" textLength="6.9" lengthAdjust="spacingAndGlyphs">14</text>
<text x="268.2" y="350.5" fill="#fff" stroke="#fff" textLength="6.9" lengthAdjust="spacingAndGlyphs">16</text>
<text x="302.9" y="350.5" fill="#111" stroke="#111" textLength="6.9" lengthAdjust="spacingAndGlyphs">11</text>
<text x="337.6" y="350.5" fill="#111" stroke="#111" textLength="3.4" lengthAdjust="spacingAndGlyphs">3</text>
<text x="372.3" y="350.5" fill="#111" stroke="#111" textLength="6.9" lengthAdjust="spacingAndGlyphs">10</text>
<text x="407.1" y="350.5" fill="#111" stroke="#111" textLength="6.9" lengthAdjust="spacingAndGlyphs">13</text>
<text x="441.8" y="350.5" fill="#111" stroke="#111" textLength="3.4" lengthAdjust="spacingAndGlyphs">8</text>
<text x="476.5" y="350.5" fill="#111" stroke="#111" textLength="3.4" lengthAdjust="spacingAndGlyphs">4</text>
<text x="511.2" y="350.5" fill="#111" stroke="#111" textLength="6.9" lengthAdjust="spacingAndGlyphs">10</text>
<text x="545.9" y="350.5" fill="#111" stroke="#111" textLength="6.9" lengthAdjust="spacingAndGlyphs">14</text>
<text x="580.6" y="350.5" fill="#111" stroke="#111" textLength="3.4" lengthAdjust="spacingAndGlyphs">9</text>
<text x="615.3" y="350.5" fill="#111" stroke="#111" textLength="3.4" lengthAdjust="spacingAndGlyphs">8</text>
<text x="650.0" y="350.5" fill="#111" stroke="#111" textLength="3.4" lengthAdjust="spacingAndGlyphs">9</text>
<text x="684.7" y="350.5" fill="#111" stroke="#111" textLength="6.9" lengthAdjust="spacingAndGlyphs">33</text>
<text x="719.4" y="350.5" fill="#111" stroke="#111" textLength="6.9" lengthAdjust="spacingAndGlyphs">33</text>
<text x="754.2" y="350.5" fill="#111" stroke="#111" textLength="6.9" lengthAdjust="spacingAndGlyphs">13</text>
<text x="788.9" y="350.5" fill="#111" stroke="#111" textLength="6.9" lengthAdjust="spacingAndGlyphs">13</text>
<text x="823.6" y="350.5" fill="#111" stroke="#111" textLength="6.9" lengthAdjust="spacingAndGlyphs">16</text>
<text x="858.3" y="350.5" fill="#111" stroke="#111" textLength="6.9" lengthAdjust="spacingAndGlyphs">12</text>
<text x="60.0" y="359.3" fill="#fff" stroke="#fff" textLength="6.9" lengthAdjust="spacingAndGlyphs">18</text>
<text x="94.7" y="359.3" fill="#111" stroke="#111" textLength="6.9" lengthAdjust="spacingAndGlyphs">10</text>
<text x="129.4" y="359.3" fill="#111" stroke="#111" textLength="6.9" lengthAdjust="spacingAndGlyphs">16</text>
<text x="164.1" y="359.3" fill="#111" stroke="#111" textLength="3.4" lengthAdjust="spacingAndGlyphs">9</text>
<text x="198.8" y="359.3" fill="#111" stroke="#111" textLength="3.4" lengthAdjust="spacingAndGlyphs">4</text>
<text x="233.5" y="359.3" fill="#111" stroke="#111" textLength="6.9" lengthAdjust="spacingAndGlyphs">14</text>
<text x="268.2" y="359.3" fill="#111" stroke="#111" textLength="6.9" lengthAdjust="spacingAndGlyphs">16</text>
<text x="302.9" y="359.3" fill="#111" stroke="#111" textLength="6.9" lengthAdjust="spacingAndGlyphs">11</text>
<text x="337.6" y="359.3" fill="#111" stroke="#111" textLength="3.4" lengthAdjust="spacingAndGlyphs">5</text>
<text x="372.3" y="359.3" fill="#111" stroke="#111" textLength="6.9" lengthAdjust="spacingAndGlyphs">10</text>
<text x="407.1" y="359.3" fill="#111" stroke="#111" textLength="6.9" lengthAdjust="spacingAndGlyphs">13</text>
<text x="441.8" y="359.3" fill="#111" stroke="#111" textLength="6.9" lengthAdjust="spacingAndGlyphs">10</text>
<text x="476.5" y="359.3" fill="#111" stroke="#111" textLength="3.4" lengthAdjust="spacingAndGlyphs">4</text>
<text x="511.2" y="359.3" fill="#111" stroke="#111" textLength="6.9" lengthAdjust="spacingAndGlyphs">11</text>
<text x="545.9" y="359.3" fill="#111" stroke="#111" textLength="6.9" lengthAdjust="spacingAndGlyphs">14</text>
<text x="580.6" y="359.3" fill="#fff" stroke="#fff" textLength="6.9" lengthAdjust="spacingAndGlyphs">20</text>
<text x="615.3" y="359.3" fill="#111" stroke="#111" textLength="6.9" lengthAdjust="spacingAndGlyphs">12</text>
<text x="650.0" y="359.3" fill="#111" stroke="#111" textLength="6.9" lengthAdjust="spacingAndGlyphs">12</text>
<text x="684.7" y="359.3" fill="#111" stroke="#111" textLength="6.9" lengthAdjust="spacingAndGlyphs">36</text>
<text x="719.4" y="359.3" fill="#111" stroke="#111" textLength="6.9" lengthAdjust="spacingAndGlyphs">30</text>
<text x="754.2" y="359.3" fill="#111" stroke="#111" textLength="6.9" lengthAdjust="spacingAndGlyphs">16</text>
<text x="788.9" y="359.3" fill="#111" stroke="#111" textLength="6.9" lengthAdjust="spacingAndGlyphs">14</text>
<text x="823.6" y="359.3" fill="#111" stroke="#111" textLength="6.9" lengthAdjust="spacingAndGlyphs">14</text>
<text x="858.3" y="359.3" fill="#fff" stroke="#fff" textLength="6.9" lengthAdjust="spacingAndGlyphs">19</text>
<text x="60.0" y="368.2" fill="#fff" stroke="#fff" textLength="6.9" lengthAdjust="spacingAndGlyphs">17</text>
<text x="94.7" y="368.2" fill="#111" stroke="#111" textLength="6.9" lengthAdjust="spacingAndGlyphs">11</text>
<text x="129.4" y="368.2" fill="#fff" stroke="#fff" textLength="6.9" lengthAdjust="spacingAndGlyphs">16</text>
<text x="164.1" y="368.2" fill="#111" stroke="#111" textLength="6.9" lengthAdjust="spacingAndGlyphs">11</text>
<text x="198.8" y="368.2" fill="#111" stroke="#111" textLength="3.4" lengthAdjust="spacingAndGlyphs">4</text>
<text x="233.5" y="368.2" fill="#fff" stroke="#fff" textLength="6.9" lengthAdjust="spacingAndGlyphs">16</text>
<text x="268.2" y="368.2" fill="#fff" stroke="#fff" textLength="6.9" lengthAdjust="spacingAndGlyphs">19</text>
<text x="302.9" y="368.2" fill="#111" stroke="#111" textLength="6.9" lengthAdjust="spacingAndGlyphs">15</text>
<text x="337.6" y="368.2" fill="#111" stroke="#111" textLength="3.4" lengthAdjust="spacingAndGlyphs">4</text>
<text x="372.3" y="368.2" fill="#111" stroke="#111" textLength="6.9" lengthAdjust="spacingAndGlyphs">11</text>
<text x="407.1" y="368.2" fill="#111" stroke="#111" textLength="6.9" lengthAdjust="spacingAndGlyphs">16</text>
<text x="441.8" y="368.2" fill="#111" stroke="#111" textLength="6.9" lengthAdjust="spacingAndGlyphs">10</text>
<text x="476.5" y="368.2" fill="#111" stroke="#111" textLength="3.4" lengthAdjust="spacingAndGlyphs">4</text>
<text x="511.2" y="368.2" fill="#111" stroke="#111" textLength="6.9" lengthAdjust="spacingAndGlyphs">11</text>
<text x="545.9" y="368.2" fill="#111" stroke="#111" textLength="6.9" lengthAdjust="spacingAndGlyphs">14</text>
<text x="580.6" y="368.2" fill="#111" stroke="#111" textLength="6.9" lengthAdjust="spacingAndGlyphs">11</text>
<text x="615.3" y="368.2" fill="#111" stroke="#111" textLength="6.9" lengthAdjust="spacingAndGlyphs">12</text>
<text x="650.0" y="368.2" fill="#111" stroke="#111" textLength="6.9" lengthAdjust="spacingAndGlyphs">10</text>
<text x="684.7" y="368.2" fill="#111" stroke="#111" textLength="6.9" lengthAdjust="spacingAndGlyphs">15</text>
<text x="719.4" y="368.2" fill="#111" stroke="#111" textLength="6.9" lengthAdjust="spacingAndGlyphs">26</text>
<text x="754.2" y="368.2" fill="#fff" stroke="#fff" textLength="6.9" lengthAdjust="spacingAndGlyphs">18</text>
<text x="788.9" y="368.2" fill="#111" stroke="#111" textLength="6.9" lengthAdjust="spacingAndGlyphs">36</text>
<text x="823.6" y="368.2" fill="#111" stroke="#111" textLength="6.9" lengthAdjust="spacingAndGlyphs">40</text>
<text x="858.3" y="368.2" fill="#111" stroke="#111" textLength="6.9" lengthAdjust="spacingAndGlyphs">40</text>
<text x="60.0" y="377.0" fill="#fff" stroke="#fff" textLength="6.9" lengthAdjust="spacingAndGlyphs">19</text>
<text x="94.7" y="377.0" fill="#fff" stroke="#fff" textLength="6.9" lengthAdjust="spacingAndGlyphs">19</text>
<text x="129.4" y="377.0" fill="#111" stroke="#111" textLength="6.9" lengthAdjust="spacingAndGlyphs">13</text>
<text x="164.1" y="377.0" fill="#111" stroke="#111" textLength="3.4" lengthAdjust="spacingAndGlyphs">8</text>
<text x="198.8" y="377.0" fill="#111" stroke="#111" textLength="3.4" lengthAdjust="spacingAndGlyphs">4</text>
<text x="233.5" y="377.0" fill="#fff" stroke="#fff" textLength="6.9" lengthAdjust="spacingAndGlyphs">17</text>
<text x="268.2" y="377.0" fill="#fff" stroke="#fff" textLength="6.9" lengthAdjust="spacingAndGlyphs">19</text>
<text x="302.9" y="377.0" fill="#fff" stroke="#fff" textLength="6.9" lengthAdjust="spacingAndGlyphs">17</text>
<text x="337.6" y="377.0" fill="#111" stroke="#111" textLength="3.4" lengthAdjust="spacingAndGlyphs">4</text>
<text x="372.3" y="377.0" fill="#111" stroke="#111" textLength="6.9" lengthAdjust="spacingAndGlyphs">11</text>
<text x="407.1" y="377.0" fill="#111" stroke="#111" textLength="6.9" lengthAdjust="spacingAndGlyphs">15</text>
<text x="441.8" y="377.0" fill="#111" stroke="#111" textLength="3.4" lengthAdjust="spacingAndGlyphs">7</text>
<text x="476.5" y="377.0" fill="#111" stroke="#111" textLength="3.4" lengthAdjust="spacingAndGlyphs">5</text>
<text x="511.2" y="377.0" fill="#111" stroke="#111" textLength="3.4" lengthAdjust="spacingAndGlyphs">9</text>
<text x="545.9" y="377.0" fill="#fff" stroke="#fff" textLength="6.9" lengthAdjust="spacingAndGlyphs">35</text>
<text x="580.6" y="377.0" fill="#111" stroke="#111" textLength="6.9" lengthAdjust="spacingAndGlyphs">31</text>
<text x="615.3" y="377.0" fill="#111" stroke="#111" textLength="6.9" lengthAdjust="spacingAndGlyphs">13</text>
<text x="650.0" y="377.0" fill="#111" stroke="#111" textLength="6.9" lengthAdjust="spacingAndGlyphs">10</text>
<text x="684.7" y="377.0" fill="#111" stroke="#111" textLength="6.9" lengthAdjust="spacingAndGlyphs">31</text>
<text x="719.4" y="377.0" fill="#111" stroke="#111" textLength="6.9" lengthAdjust="spacingAndGlyphs">31</text>
<text x="754.2" y="377.0" fill="#fff" stroke="#fff" textLength="6.9" lengthAdjust="spacingAndGlyphs">23</text>
<text x="788.9" y="377.0" fill="#111" stroke="#111" textLength="6.9" lengthAdjust="spacingAndGlyphs">38</text>
<text x="823.6" y="377.0" fill="#111" stroke="#111" textLength="6.9" lengthAdjust="spacingAndGlyphs">42</text>
<text x="858.3" y="377.0" fill="#111" stroke="#111" textLength="6.9" lengthAdjust="spacingAndGlyphs">38</text>
<text x="60.0" y="385.9" fill="#111" stroke="#111" textLength="6.9" lengthAdjust="spacingAndGlyphs">25</text>
<text x="94.7" y="385.9" fill="#111" stroke="#111" textLength="6.9" lengthAdjust="spacingAndGlyphs">15</text>
<text x="129.4" y="385.9" fill="#111" stroke="#111" textLength="6.9" lengthAdjust="spacingAndGlyphs">15</text>
<text x="164.1" y="385.9" fill="#111" stroke="#111" textLength="3.4" lengthAdjust="spacingAndGlyphs">8</text>
<text x="198.8" y="385.9" fill="#111" stroke="#111" textLength="3.4" lengthAdjust="spacingAndGlyphs">3</text>
<text x="233.5" y="385.9" fill="#111" stroke="#111" textLength="6.9" lengthAdjust="spacingAndGlyphs">12</text>
<text x="268.2" y="385.9" fill="#fff" stroke="#fff" textLength="6.9" lengthAdjust="spacingAndGlyphs">16</text>
<text x="302.9" y="385.9" fill="#111" stroke="#111" textLength="6.9" lengthAdjust="spacingAndGlyphs">13</text>
<text x="337.6" y="385.9" fill="#111" stroke="#111" textLength="3.4" lengthAdjust="spacingAndGlyphs">5</text>
<text x="372.3" y="385.9" fill="#111" stroke="#111" textLength="6.9" lengthAdjust="spacingAndGlyphs">13</text>
<text x="407.1" y="385.9" fill="#fff" stroke="#fff" textLength="6.9" lengthAdjust="spacingAndGlyphs">17</text>
<text x="441.8" y="385.9" fill="#111" stroke="#111" textLength="3.4" lengthAdjust="spacingAndGlyphs">8</text>
<text x="476.5" y="385.9" fill="#111" stroke="#111" textLength="3.4" lengthAdjust="spacingAndGlyphs">5</text>
<text x="511.2" y="385.9" fill="#111" stroke="#111" textLength="6.9" lengthAdjust="spacingAndGlyphs">14</text>
<text x="545.9" y="385.9" fill="#fff" stroke="#fff" textLength="6.9" lengthAdjust="spacingAndGlyphs">23</text>
<text x="580.6" y="385.9" fill="#111" stroke="#111" textLength="6.9" lengthAdjust="spacingAndGlyphs">28</text>
<text x="615.3" y="385.9" fill="#111" stroke="#111" textLength="6.9" lengthAdjust="spacingAndGlyphs">13</text>
<text x="650.0" y="385.9" fill="#fff" stroke="#fff" textLength="6.9" lengthAdjust="spacingAndGlyphs">22</text>
<text x="684.7" y="385.9" fill="#111" stroke="#111" textLength="6.9" lengthAdjust="spacingAndGlyphs">25</text>
<text x="719.4" y="385.9" fill="#fff" stroke="#fff" textLength="6.9" lengthAdjust="spacingAndGlyphs">20</text>
<text x="754.2" y="385.9" fill="#111" stroke="#111" textLength="3.4" lengthAdjust="spacingAndGlyphs">8</text>
<text x="788.9" y="385.9" fill="#fff" stroke="#fff" textLength="6.9" lengthAdjust="spacingAndGlyphs">19</text>
<text x="823.6" y="385.9" fill="#111" stroke="#111" textLength="6.9" lengthAdjust="spacingAndGlyphs">33</text>
<text x="858.3" y="385.9" fill="#111" stroke="#111" textLength="6.9" lengthAdjust="spacingAndGlyphs">36</text>
<text x="60.0" y="394.8" fill="#fff" stroke="#fff" textLength="6.9" lengthAdjust="spacingAndGlyphs">22</text>
<text x="94.7" y="394.8" fill="#111" stroke="#111" textLength="6.9" lengthAdjust="spacingAndGlyphs">13</text>
<text x="129.4" y="394.8" fill="#111" stroke="#111" textLength="6.9" lengthAdjust="spacingAndGlyphs">14</text>
<text x="164.1" y="394.8" fill="#111" stroke="#111" textLength="3.4" lengthAdjust="spacingAndGlyphs">9</text>
<text x="198.8" y="394.8" fill="#111" stroke="#111" textLength="3.4" lengthAdjust="spacingAndGlyphs">3</text>
<text x="233.5" y="394.8" fill="#111" stroke="#111" textLength="6.9" lengthAdjust="spacingAndGlyphs">14</text>
<text x="268.2" y="394.8" fill="#fff" stroke="#fff" textLength="6.9" lengthAdjust="spacingAndGlyphs">17</text>
<text x="302.9" y="394.8" fill="#111" stroke="#111" textLength="6.9" lengthAdjust="spacingAndGlyphs">13</text>
<text x="337.6" y="394.8" fill="#111" stroke="#111" textLength="3.4" lengthAdjust="spacingAndGlyphs">4</text>
<text x="372.3" y="394.8" fill="#111" stroke="#111" textLength="6.9" lengthAdjust="spacingAndGlyphs">11</text>
<text x="407.1" y="394.8" fill="#111" stroke="#111" textLength="6.9" lengthAdjust="spacingAndGlyphs">14</text>
<text x="441.8" y="394.8" fill="#111" stroke="#111" textLength="3.4" lengthAdjust="spacingAndGlyphs">8</text>
<text x="476.5" y="394.8" fill="#111" stroke="#111" textLength="3.4" lengthAdjust="spacingAndGlyphs">6</text>
<text x="511.2" y="394.8" fill="#111" stroke="#111" textLength="6.9" lengthAdjust="spacingAndGlyphs">12</text>
<text x="545.9" y="394.8" fill="#fff" stroke="#fff" textLength="6.9" lengthAdjust="spacingAndGlyphs">17</text>
<text x="580.6" y="394.8" fill="#111" stroke="#111" textLength="6.9" lengthAdjust="spacingAndGlyphs">26</text>
<text x="615.3" y="394.8" fill="#111" stroke="#111" textLength="6.9" lengthAdjust="spacingAndGlyphs">15</text>
<text x="650.0" y="394.8" fill="#111" stroke="#111" textLength="6.9" lengthAdjust="spacingAndGlyphs">10</text>
<text x="684.7" y="394.8" fill="#111" stroke="#111" textLength="6.9" lengthAdjust="spacingAndGlyphs">27</text>
<text x="719.4" y="394.8" fill="#111" stroke="#111" textLength="6.9" lengthAdjust="spacingAndGlyphs">25</text>
<text x="754.2" y="394.8" fill="#fff" stroke="#fff" textLength="6.9" lengthAdjust="spacingAndGlyphs">17</text>
<text x="788.9" y="394.8" fill="#fff" stroke="#fff" textLength="6.9" lengthAdjust="spacingAndGlyphs">18</text>
<text x="823.6" y="394.8" fill="#fff" stroke="#fff" textLength="6.9" lengthAdjust="spacingAndGlyphs">35</text>
<text x="858.3" y="394.8" fill="#111" stroke="#111" textLength="6.9" lengthAdjust="spacingAndGlyphs">39</text>
<text x="60.0" y="403.6" fill="#111" stroke="#111" textLength="6.9" lengthAdjust="spacingAndGlyphs">15</text>
<text x="94.7" y="403.6" fill="#111" stroke="#111" textLength="6.9" lengthAdjust="spacingAndGlyphs">13</text>
<text x="129.4" y="403.6" fill="#fff" stroke="#fff" textLength="6.9" lengthAdjust="spacingAndGlyphs">17</text>
<text x="164.1" y="403.6" fill="#111" stroke="#111" textLength="6.9" lengthAdjust="spacingAndGlyphs">10</text>
<text x="198.8" y="403.6" fill="#111" stroke="#111" textLength="3.4" lengthAdjust="spacingAndGlyphs">3</text>
<text x="233.5" y="403.6" fill="#111" stroke="#111" textLength="6.9" lengthAdjust="spacingAndGlyphs">15</text>
<text x="268.2" y="403.6" fill="#fff" stroke="#fff" textLength="6.9" lengthAdjust="spacingAndGlyphs">17</text>
<text x="302.9" y="403.6" fill="#111" stroke="#111" textLength="6.9" lengthAdjust="spacingAndGlyphs">13</text>
<text x="337.6" y="403.6" fill="#111" stroke="#111" textLength="3.4" lengthAdjust="spacingAndGlyphs">5</text>
<text x="372.3" y="403.6" fill="#111" stroke="#111" textLength="3.4" lengthAdjust="spacingAndGlyphs">9</text>
<text x="407.1" y="403.6" fill="#111" stroke="#111" textLength="6.9" lengthAdjust="spacingAndGlyphs">10</text>
<text x="441.8" y="403.6" fill="#111" stroke="#111" textLength="3.4" lengthAdjust="spacingAndGlyphs">9</text>
<text x="476.5" y="403.6" fill="#111" stroke="#111" textLength="3.4" lengthAdjust="spacingAndGlyphs">4</text>
<text x="511.2" y="403.6" fill="#111" stroke="#111" textLength="3.4" lengthAdjust="spacingAndGlyphs">7</text>
<text x="545.9" y="403.6" fill="#111" stroke="#111" textLength="6.9" lengthAdjust="spacingAndGlyphs">13</text>
<text x="580.6" y="403.6" fill="#111" stroke="#111" textLength="3.4" lengthAdjust="spacingAndGlyphs">9</text>
<text x="615.3" y="403.6" fill="#111" stroke="#111" textLength="3.4" lengthAdjust="spacingAndGlyphs">9</text>
<text x="650.0" y="403.6" fill="#111" stroke="#111" textLength="3.4" lengthAdjust="spacingAndGlyphs">9</text>
<text x="684.7" y="403.6" fill="#fff" stroke="#fff" textLength="6.9" lengthAdjust="spacingAndGlyphs">35</text>
<text x="719.4" y="403.6" fill="#111" stroke="#111" textLength="6.9" lengthAdjust="spacingAndGlyphs">28</text>
<text x="754.2" y="403.6" fill="#fff" stroke="#fff" textLength="6.9" lengthAdjust="spacingAndGlyphs">21</text>
<text x="788.9" y="403.6" fill="#111" stroke="#111" textLength="6.9" lengthAdjust="spacingAndGlyphs">15</text>
<text x="823.6" y="403.6" fill="#111" stroke="#111" textLength="6.9" lengthAdjust="spacingAndGlyphs">16</text>
<text x="858.3" y="403.6" fill="#fff" stroke="#fff" textLength="6.9" lengthAdjust="spacingAndGlyphs">23</text>
<text x="60.0" y="412.5" fill="#111" stroke="#111" textLength="6.9" lengthAdjust="spacingAndGlyphs">14</text>
<text x="94.7" y="412.5" fill="#111" stroke="#111" textLength="6.9" lengthAdjust="spacingAndGlyphs">11</text>
<text x="129.4" y="412.5" fill="#fff" stroke="#fff" textLength="6.9" lengthAdjust="spacingAndGlyphs">17</text>
<text x="164.1" y="412.5" fill="#111" stroke="#111" textLength="3.4" lengthAdjust="spacingAndGlyphs">8</text>
<text x="198.8" y="412.5" fill="#111" stroke="#111" textLength="3.4" lengthAdjust="spacingAndGlyphs">4</text>
<text x="233.5" y="412.5" fill="#111" stroke="#111" textLength="6.9" lengthAdjust="spacingAndGlyphs">13</text>
<text x="268.2" y="412.5" fill="#fff" stroke="#fff" textLength="6.9" lengthAdjust="spacingAndGlyphs">16</text>
<text x="302.9" y="412.5" fill="#111" stroke="#111" textLength="6.9" lengthAdjust="spacingAndGlyphs">12</text>
<text x="337.6" y="412.5" fill="#111" stroke="#111" textLength="3.4" lengthAdjust="spacingAndGlyphs">5</text>
<text x="372.3" y="412.5" fill="#111" stroke="#111" textLength="6.9" lengthAdjust="spacingAndGlyphs">11</text>
<text x="407.1" y="412.5" fill="#111" stroke="#111" textLength="6.9" lengthAdjust="spacingAndGlyphs">14</text>
<text x="441.8" y="412.5" fill="#111" stroke="#111" textLength="3.4" lengthAdjust="spacingAndGlyphs">9</text>
<text x="476.5" y="412.5" fill="#111" stroke="#111" textLength="3.4" lengthAdjust="spacingAndGlyphs">5</text>
<text x="511.2" y="412.5" fill="#111" stroke="#111" textLength="3.4" lengthAdjust="spacingAndGlyphs">9</text>
<text x="545.9" y="412.5" fill="#fff" stroke="#fff" textLength="6.9" lengthAdjust="spacingAndGlyphs">17</text>
<text x="580.6" y="412.5" fill="#111" stroke="#111" textLength="6.9" lengthAdjust="spacingAndGlyphs">25</text>
<text x="615.3" y="412.5" fill="#fff" stroke="#fff" textLength="6.9" lengthAdjust="spacingAndGlyphs">19</text>
<text x="650.0" y="412.5" fill="#111" stroke="#111" textLength="6.9" lengthAdjust="spacingAndGlyphs">10</text>
<text x="684.7" y="412.5" fill="#111" stroke="#111" textLength="6.9" lengthAdjust="spacingAndGlyphs">31</text>
<text x="719.4" y="412.5" fill="#fff" stroke="#fff" textLength="6.9" lengthAdjust="spacingAndGlyphs">23</text>
<text x="754.2" y="412.5" fill="#111" stroke="#111" textLength="6.9" lengthAdjust="spacingAndGlyphs">11</text>
<text x="788.9" y="412.5" fill="#fff" stroke="#fff" textLength="6.9" lengthAdjust="spacingAndGlyphs">17</text>
<text x="823.6" y="412.5" fill="#111" stroke="#111" textLength="6.9" lengthAdjust="spacingAndGlyphs">31</text>
<text x="858.3" y="412.5" fill="#111" stroke="#111" textLength="6.9" lengthAdjust="spacingAndGlyphs">28</text>
<text x="60.0" y="421.4" fill="#fff" stroke="#fff" textLength="6.9" lengthAdjust="spacingAndGlyphs">21</text>
<text x="94.7" y="421.4" fill="#111" stroke="#111" textLength="6.9" lengthAdjust="spacingAndGlyphs">14</text>
<text x="129.4" y="421.4" fill="#fff" stroke="#fff" textLength="6.9" lengthAdjust="spacingAndGlyphs">17</text>
<text x="164.1" y="421.4" fill="#111" stroke="#111" textLength="6.9" lengthAdjust="spacingAndGlyphs">11</text>
<text x="198.8" y="421.4" fill="#111" stroke="#111" textLength="3.4" lengthAdjust="spacingAndGlyphs">4</text>
<text x="233.5" y="421.4" fill="#111" stroke="#111" textLength="6.9" lengthAdjust="spacingAndGlyphs">13</text>
<text x="268.2" y="421.4" fill="#fff" stroke="#fff" textLength="6.9" lengthAdjust="spacingAndGlyphs">16</text>
<text x="302.9" y="421.4" fill="#111" stroke="#111" textLength="6.9" lengthAdjust="spacingAndGlyphs">11</text>
<text x="337.6" y="421.4" fill="#111" stroke="#111" textLength="3.4" lengthAdjust="spacingAndGlyphs">5</text>
<text x="372.3" y="421.4" fill="#111" stroke="#111" textLength="3.4" lengthAdjust="spacingAndGlyphs">8</text>
<text x="407.1" y="421.4" fill="#111" stroke="#111" textLength="6.9" lengthAdjust="spacingAndGlyphs">13</text>
<text x="441.8" y="421.4" fill="#111" stroke="#111" textLength="6.9" lengthAdjust="spacingAndGlyphs">10</text>
<text x="476.5" y="421.4" fill="#111" stroke="#111" textLength="3.4" lengthAdjust="spacingAndGlyphs">5</text>
<text x="511.2" y="421.4" fill="#111" stroke="#111" textLength="3.4" lengthAdjust="spacingAndGlyphs">8</text>
<text x="545.9" y="421.4" fill="#111" stroke="#111" textLength="6.9" lengthAdjust="spacingAndGlyphs">11</text>
<text x="580.6" y="421.4" fill="#111" stroke="#111" textLength="3.4" lengthAdjust="spacingAndGlyphs">9</text>
<text x="615.3" y="421.4" fill="#111" stroke="#111" textLength="3.4" lengthAdjust="spacingAndGlyphs">8</text>
<text x="650.0" y="421.4" fill="#111" stroke="#111" textLength="6.9" lengthAdjust="spacingAndGlyphs">11</text>
<text x="684.7" y="421.4" fill="#fff" stroke="#fff" textLength="6.9" lengthAdjust="spacingAndGlyphs">35</text>
<text x="719.4" y="421.4" fill="#111" stroke="#111" textLength="6.9" lengthAdjust="spacingAndGlyphs">28</text>
<text x="754.2" y="421.4" fill="#fff" stroke="#fff" textLength="6.9" lengthAdjust="spacingAndGlyphs">19</text>
<text x="788.9" y="421.4" fill="#fff" stroke="#fff" textLength="6.9" lengthAdjust="spacingAndGlyphs">19</text>
<text x="823.6" y="421.4" fill="#fff" stroke="#fff" textLength="6.9" lengthAdjust="spacingAndGlyphs">35</text>
<text x="858.3" y="421.4" fill="#111" stroke="#111" textLength="6.9" lengthAdjust="spacingAndGlyphs">32</text>
<text x="60.0" y="430.2" fill="#fff" stroke="#fff" textLength="6.9" lengthAdjust="spacingAndGlyphs">17</text>
<text x="94.7" y="430.2" fill="#111" stroke="#111" textLength="6.9" lengthAdjust="spacingAndGlyphs">12</text>
<text x="129.4" y="430.2" fill="#fff" stroke="#fff" textLength="6.9" lengthAdjust="spacingAndGlyphs">17</text>
<text x="164.1" y="430.2" fill="#111" stroke="#111" textLength="3.4" lengthAdjust="spacingAndGlyphs">9</text>
<text x="198.8" y="430.2" fill="#111" stroke="#111" textLength="3.4" lengthAdjust="spacingAndGlyphs">4</text>
<text x="233.5" y="430.2" fill="#111" stroke="#111" textLength="6.9" lengthAdjust="spacingAndGlyphs">15</text>
<text x="268.2" y="430.2" fill="#fff" stroke="#fff" textLength="6.9" lengthAdjust="spacingAndGlyphs">17</text>
<text x="302.9" y="430.2" fill="#111" stroke="#111" textLength="6.9" lengthAdjust="spacingAndGlyphs">12</text>
<text x="337.6" y="430.2" fill="#111" stroke="#111" textLength="3.4" lengthAdjust="spacingAndGlyphs">5</text>
<text x="372.3" y="430.2" fill="#111" stroke="#111" textLength="6.9" lengthAdjust="spacingAndGlyphs">11</text>
<text x="407.1" y="430.2" fill="#111" stroke="#111" textLength="6.9" lengthAdjust="spacingAndGlyphs">15</text>
<text x="441.8" y="430.2" fill="#111" stroke="#111" textLength="3.4" lengthAdjust="spacingAndGlyphs">6</text>
<text x="476.5" y="430.2" fill="#111" stroke="#111" textLength="3.4" lengthAdjust="spacingAndGlyphs">5</text>
<text x="511.2" y="430.2" fill="#111" stroke="#111" textLength="6.9" lengthAdjust="spacingAndGlyphs">13</text>
<text x="545.9" y="430.2" fill="#111" stroke="#111" textLength="6.9" lengthAdjust="spacingAndGlyphs">14</text>
<text x="580.6" y="430.2" fill="#111" stroke="#111" textLength="6.9" lengthAdjust="spacingAndGlyphs">30</text>
<text x="615.3" y="430.2" fill="#fff" stroke="#fff" textLength="6.9" lengthAdjust="spacingAndGlyphs">20</text>
<text x="650.0" y="430.2" fill="#fff" stroke="#fff" textLength="6.9" lengthAdjust="spacingAndGlyphs">17</text>
<text x="684.7" y="430.2" fill="#fff" stroke="#fff" textLength="6.9" lengthAdjust="spacingAndGlyphs">35</text>
<text x="719.4" y="430.2" fill="#111" stroke="#111" textLength="6.9" lengthAdjust="spacingAndGlyphs">31</text>
<text x="754.2" y="430.2" fill="#111" stroke="#111" textLength="6.9" lengthAdjust="spacingAndGlyphs">28</text>
<text x="788.9" y="430.2" fill="#111" stroke="#111" textLength="6.9" lengthAdjust="spacingAndGlyphs">30</text>
<text x="823.6" y="430.2" fill="#111" stroke="#111" textLength="6.9" lengthAdjust="spacingAndGlyphs">32</text>
<text x="858.3" y="430.2" fill="#fff" stroke="#fff" textLength="6.9" lengthAdjust="spacingAndGlyphs">24</text>
<text x="60.0" y="439.1" fill="#111" stroke="#111" textLength="6.9" lengthAdjust="spacingAndGlyphs">12</text>
<text x="94.7" y="439.1" fill="#111" stroke="#111" textLength="6.9" lengthAdjust="spacingAndGlyphs">10</text>
<text x="129.4" y="439.1" fill="#fff" stroke="#fff" textLength="6.9" lengthAdjust="spacingAndGlyphs">18</text>
<text x="164.1" y="439.1" fill="#111" stroke="#111" textLength="6.9" lengthAdjust="spacingAndGlyphs">11</text>
<text x="198.8" y="439.1" fill="#111" stroke="#111" textLength="3.4" lengthAdjust="spacingAndGlyphs">5</text>
<text x="233.5" y="439.1" fill="#111" stroke="#111" textLength="6.9" lengthAdjust="spacingAndGlyphs">14</text>
<text x="268.2" y="439.1" fill="#fff" stroke="#fff" textLength="6.9" lengthAdjust="spacingAndGlyphs">17</text>
<text x="302.9" y="439.1" fill="#111" stroke="#111" textLength="6.9" lengthAdjust="spacingAndGlyphs">10</text>
<text x="337.6" y="439.1" fill="#111" stroke="#111" textLength="3.4" lengthAdjust="spacingAndGlyphs">5</text>
<text x="372.3" y="439.1" fill="#111" stroke="#111" textLength="6.9" lengthAdjust="spacingAndGlyphs">11</text>
<text x="407.1" y="439.1" fill="#111" stroke="#111" textLength="6.9" lengthAdjust="spacingAndGlyphs">15</text>
<text x="441.8" y="439.1" fill="#111" stroke="#111" textLength="6.9" lengthAdjust="spacingAndGlyphs">11</text>
<text x="476.5" y="439.1" fill="#111" stroke="#111" textLength="3.4" lengthAdjust="spacingAndGlyphs">6</text>
<text x="511.2" y="439.1" fill="#111" stroke="#111" textLength="6.9" lengthAdjust="spacingAndGlyphs">10</text>
<text x="545.9" y="439.1" fill="#111" stroke="#111" textLength="6.9" lengthAdjust="spacingAndGlyphs">30</text>
<text x="580.6" y="439.1" fill="#111" stroke="#111" textLength="6.9" lengthAdjust="spacingAndGlyphs">25</text>
<text x="615.3" y="439.1" fill="#111" stroke="#111" textLength="6.9" lengthAdjust="spacingAndGlyphs">10</text>
<text x="650.0" y="439.1" fill="#111" stroke="#111" textLength="6.9" lengthAdjust="spacingAndGlyphs">12</text>
<text x="684.7" y="439.1" fill="#111" stroke="#111" textLength="6.9" lengthAdjust="spacingAndGlyphs">13</text>
<text x="719.4" y="439.1" fill="#fff" stroke="#fff" textLength="6.9" lengthAdjust="spacingAndGlyphs">19</text>
<text x="754.2" y="439.1" fill="#111" stroke="#111" textLength="6.9" lengthAdjust="spacingAndGlyphs">26</text>
<text x="788.9" y="439.1" fill="#111" stroke="#111" textLength="6.9" lengthAdjust="spacingAndGlyphs">40</text>
<text x="823.6" y="439.1" fill="#111" stroke="#111" textLength="6.9" lengthAdjust="spacingAndGlyphs">40</text>
<text x="858.3" y="439.1" fill="#111" stroke="#111" textLength="6.9" lengthAdjust="spacingAndGlyphs">33</text>
<text x="60.0" y="448.0" fill="#fff" stroke="#fff" textLength="6.9" lengthAdjust="spacingAndGlyphs">18</text>
<text x="94.7" y="448.0" fill="#111" stroke="#111" textLength="6.9" lengthAdjust="spacingAndGlyphs">14</text>
<text x="129.4" y="448.0" fill="#fff" stroke="#fff" textLength="6.9" lengthAdjust="spacingAndGlyphs">17</text>
<text x="164.1" y="448.0" fill="#111" stroke="#111" textLength="6.9" lengthAdjust="spacingAndGlyphs">14</text>
<text x="198.8" y="448.0" fill="#111" stroke="#111" textLength="3.4" lengthAdjust="spacingAndGlyphs">3</text>
<text x="233.5" y="448.0" fill="#111" stroke="#111" textLength="6.9" lengthAdjust="spacingAndGlyphs">14</text>
<text x="268.2" y="448.0" fill="#fff" stroke="#fff" textLength="6.9" lengthAdjust="spacingAndGlyphs">16</text>
<text x="302.9" y="448.0" fill="#111" stroke="#111" textLength="6.9" lengthAdjust="spacingAndGlyphs">10</text>
<text x="337.6" y="448.0" fill="#111" stroke="#111" textLength="3.4" lengthAdjust="spacingAndGlyphs">4</text>
<text x="372.3" y="448.0" fill="#fff" stroke="#fff" textLength="6.9" lengthAdjust="spacingAndGlyphs">16</text>
<text x="407.1" y="448.0" fill="#fff" stroke="#fff" textLength="6.9" lengthAdjust="spacingAndGlyphs">19</text>
<text x="441.8" y="448.0" fill="#111" stroke="#111" textLength="3.4" lengthAdjust="spacingAndGlyphs">9</text>
<text x="476.5" y="448.0" fill="#111" stroke="#111" textLength="3.4" lengthAdjust="spacingAndGlyphs">4</text>
<text x="511.2" y="448.0" fill="#111" stroke="#111" textLength="3.4" lengthAdjust="spacingAndGlyphs">8</text>
<text x="545.9" y="448.0" fill="#111" stroke="#111" textLength="6.9" lengthAdjust="spacingAndGlyphs">13</text>
<text x="580.6" y="448.0" fill="#fff" stroke="#fff" textLength="6.9" lengthAdjust="spacingAndGlyphs">16</text>
<text x="615.3" y="448.0" fill="#111" stroke="#111" textLength="3.4" lengthAdjust="spacingAndGlyphs">9</text>
<text x="650.0" y="448.0" fill="#111" stroke="#111" textLength="6.9" lengthAdjust="spacingAndGlyphs">11</text>
<text x="684.7" y="448.0" fill="#111" stroke="#111" textLength="6.9" lengthAdjust="spacingAndGlyphs">13</text>
<text x="719.4" y="448.0" fill="#111" stroke="#111" textLength="6.9" lengthAdjust="spacingAndGlyphs">37</text>
<text x="754.2" y="448.0" fill="#111" stroke="#111" textLength="6.9" lengthAdjust="spacingAndGlyphs">33</text>
<text x="788.9" y="448.0" fill="#111" stroke="#111" textLength="6.9" lengthAdjust="spacingAndGlyphs">27</text>
<text x="823.6" y="448.0" fill="#111" stroke="#111" textLength="6.9" lengthAdjust="spacingAndGlyphs">26</text>
<text x="858.3" y="448.0" fill="#fff" stroke="#fff" textLength="6.9" lengthAdjust="spacingAndGlyphs">22</text>
<text x="60.0" y="456.8" fill="#fff" stroke="#fff" textLength="6.9" lengthAdjust="spacingAndGlyphs">21</text>
<text x="94.7" y="456.8" fill="#111" stroke="#111" textLength="6.9" lengthAdjust="spacingAndGlyphs">15</text>
<text x="129.4" y="456.8" fill="#111" stroke="#111" textLength="6.9" lengthAdjust="spacingAndGlyphs">14</text>
<text x="164.1" y="456.8" fill="#111" stroke="#111" textLength="3.4" lengthAdjust="spacingAndGlyphs">9</text>
<text x="198.8" y="456.8" fill="#111" stroke="#111" textLength="3.4" lengthAdjust="spacingAndGlyphs">3</text>
<text x="233.5" y="456.8" fill="#111" stroke="#111" textLength="6.9" lengthAdjust="spacingAndGlyphs">13</text>
<text x="268.2" y="456.8" fill="#111" stroke="#111" textLength="6.9" lengthAdjust="spacingAndGlyphs">15</text>
<text x="302.9" y="456.8" fill="#111" stroke="#111" textLength="6.9" lengthAdjust="spacingAndGlyphs">10</text>
<text x="337.6" y="456.8" fill="#111" stroke="#111" textLength="3.4" lengthAdjust="spacingAndGlyphs">3</text>
<text x="372.3" y="456.8" fill="#111" stroke="#111" textLength="6.9" lengthAdjust="spacingAndGlyphs">10</text>
<text x="407.1" y="456.8" fill="#111" stroke="#111" textLength="6.9" lengthAdjust="spacingAndGlyphs">12</text>
<text x="441.8" y="456.8" fill="#111" stroke="#111" textLength="3.4" lengthAdjust="spacingAndGlyphs">6</text>
<text x="476.5" y="456.8" fill="#111" stroke="#111" textLength="3.4" lengthAdjust="spacingAndGlyphs">5</text>
<text x="511.2" y="456.8" fill="#111" stroke="#111" textLength="3.4" lengthAdjust="spacingAndGlyphs">8</text>
<text x="545.9" y="456.8" fill="#111" stroke="#111" textLength="6.9" lengthAdjust="spacingAndGlyphs">15</text>
<text x="580.6" y="456.8" fill="#111" stroke="#111" textLength="6.9" lengthAdjust="spacingAndGlyphs">16</text>
<text x="615.3" y="456.8" fill="#111" stroke="#111" textLength="3.4" lengthAdjust="spacingAndGlyphs">8</text>
<text x="650.0" y="456.8" fill="#111" stroke="#111" textLength="6.9" lengthAdjust="spacingAndGlyphs">15</text>
<text x="684.7" y="456.8" fill="#111" stroke="#111" textLength="6.9" lengthAdjust="spacingAndGlyphs">33</text>
<text x="719.4" y="456.8" fill="#111" stroke="#111" textLength="6.9" lengthAdjust="spacingAndGlyphs">30</text>
<text x="754.2" y="456.8" fill="#111" stroke="#111" textLength="6.9" lengthAdjust="spacingAndGlyphs">12</text>
<text x="788.9" y="456.8" fill="#111" stroke="#111" textLength="6.9" lengthAdjust="spacingAndGlyphs">29</text>
<text x="823.6" y="456.8" fill="#111" stroke="#111" textLength="6.9" lengthAdjust="spacingAndGlyphs">34</text>
<text x="858.3" y="456.8" fill="#111" stroke="#111" textLength="6.9" lengthAdjust="spacingAndGlyphs">24</text>
<text x="60.0" y="465.7" fill="#fff" stroke="#fff" textLength="6.9" lengthAdjust="spacingAndGlyphs">22</text>
<text x="94.7" y="465.7" fill="#111" stroke="#111" textLength="6.9" lengthAdjust="spacingAndGlyphs">15</text>
<text x="129.4" y="465.7" fill="#111" stroke="#111" textLength="6.9" lengthAdjust="spacingAndGlyphs">14</text>
<text x="164.1" y="465.7" fill="#111" stroke="#111" textLength="6.9" lengthAdjust="spacingAndGlyphs">10</text>
<text x="198.8" y="465.7" fill="#111" stroke="#111" textLength="3.4" lengthAdjust="spacingAndGlyphs">3</text>
<text x="233.5" y="465.7" fill="#111" stroke="#111" textLength="6.9" lengthAdjust="spacingAndGlyphs">13</text>
<text x="268.2" y="465.7" fill="#fff" stroke="#fff" textLength="6.9" lengthAdjust="spacingAndGlyphs">17</text>
<text x="302.9" y="465.7" fill="#fff" stroke="#fff" textLength="6.9" lengthAdjust="spacingAndGlyphs">16</text>
<text x="337.6" y="465.7" fill="#111" stroke="#111" textLength="3.4" lengthAdjust="spacingAndGlyphs">5</text>
<text x="372.3" y="465.7" fill="#111" stroke="#111" textLength="6.9" lengthAdjust="spacingAndGlyphs">11</text>
<text x="407.1" y="465.7" fill="#111" stroke="#111" textLength="6.9" lengthAdjust="spacingAndGlyphs">14</text>
<text x="441.8" y="465.7" fill="#111" stroke="#111" textLength="3.4" lengthAdjust="spacingAndGlyphs">7</text>
<text x="476.5" y="465.7" fill="#111" stroke="#111" textLength="3.4" lengthAdjust="spacingAndGlyphs">5</text>
<text x="511.2" y="465.7" fill="#111" stroke="#111" textLength="6.9" lengthAdjust="spacingAndGlyphs">10</text>
<text x="545.9" y="465.7" fill="#fff" stroke="#fff" textLength="6.9" lengthAdjust="spacingAndGlyphs">17</text>
<text x="580.6" y="465.7" fill="#111" stroke="#111" textLength="6.9" lengthAdjust="spacingAndGlyphs">15</text>
<text x="615.3" y="465.7" fill="#111" stroke="#111" textLength="6.9" lengthAdjust="spacingAndGlyphs">14</text>
<text x="650.0" y="465.7" fill="#111" stroke="#111" textLength="6.9" lengthAdjust="spacingAndGlyphs">12</text>
<text x="684.7" y="465.7" fill="#111" stroke="#111" textLength="6.9" lengthAdjust="spacingAndGlyphs">26</text>
<text x="719.4" y="465.7" fill="#111" stroke="#111" textLength="6.9" lengthAdjust="spacingAndGlyphs">30</text>
<text x="754.2" y="465.7" fill="#111" stroke="#111" textLength="6.9" lengthAdjust="spacingAndGlyphs">12</text>
<text x="788.9" y="465.7" fill="#111" stroke="#111" textLength="6.9" lengthAdjust="spacingAndGlyphs">39</text>
<text x="823.6" y="465.7" fill="#111" stroke="#111" textLength="6.9" lengthAdjust="spacingAndGlyphs">42</text>
<text x="858.3" y="465.7" fill="#fff" stroke="#fff" textLength="6.9" lengthAdjust="spacingAndGlyphs">34</text>
<text x="60.0" y="474.6" fill="#111" stroke="#111" textLength="6.9" lengthAdjust="spacingAndGlyphs">16</text>
<text x="94.7" y="474.6" fill="#111" stroke="#111" textLength="3.4" lengthAdjust="spacingAndGlyphs">9</text>
<text x="129.4" y="474.6" fill="#111" stroke="#111" textLength="6.9" lengthAdjust="spacingAndGlyphs">13</text>
<text x="164.1" y="474.6" fill="#111" stroke="#111" textLength="3.4" lengthAdjust="spacingAndGlyphs">8</text>
<text x="198.8" y="474.6" fill="#111" stroke="#111" textLength="3.4" lengthAdjust="spacingAndGlyphs">4</text>
<text x="233.5" y="474.6" fill="#111" stroke="#111" textLength="6.9" lengthAdjust="spacingAndGlyphs">16</text>
<text x="268.2" y="474.6" fill="#fff" stroke="#fff" textLength="6.9" lengthAdjust="spacingAndGlyphs">18</text>
<text x="302.9" y="474.6" fill="#111" stroke="#111" textLength="6.9" lengthAdjust="spacingAndGlyphs">13</text>
<text x="337.6" y="474.6" fill="#111" stroke="#111" textLength="3.4" lengthAdjust="spacingAndGlyphs">5</text>
<text x="372.3" y="474.6" fill="#111" stroke="#111" textLength="6.9" lengthAdjust="spacingAndGlyphs">10</text>
<text x="407.1" y="474.6" fill="#111" stroke="#111" textLength="6.9" lengthAdjust="spacingAndGlyphs">16</text>
<text x="441.8" y="474.6" fill="#111" stroke="#111" textLength="6.9" lengthAdjust="spacingAndGlyphs">10</text>
<text x="476.5" y="474.6" fill="#111" stroke="#111" textLength="3.4" lengthAdjust="spacingAndGlyphs">4</text>
<text x="511.2" y="474.6" fill="#111" stroke="#111" textLength="6.9" lengthAdjust="spacingAndGlyphs">11</text>
<text x="545.9" y="474.6" fill="#fff" stroke="#fff" textLength="6.9" lengthAdjust="spacingAndGlyphs">18</text>
<text x="580.6" y="474.6" fill="#111" stroke="#111" textLength="6.9" lengthAdjust="spacingAndGlyphs">31</text>
<text x="615.3" y="474.6" fill="#111" stroke="#111" textLength="6.9" lengthAdjust="spacingAndGlyphs">14</text>
<text x="650.0" y="474.6" fill="#111" stroke="#111" textLength="6.9" lengthAdjust="spacingAndGlyphs">15</text>
<text x="684.7" y="474.6" fill="#111" stroke="#111" textLength="6.9" lengthAdjust="spacingAndGlyphs">33</text>
<text x="719.4" y="474.6" fill="#111" stroke="#111" textLength="6.9" lengthAdjust="spacingAndGlyphs">29</text>
<text x="754.2" y="474.6" fill="#fff" stroke="#fff" textLength="6.9" lengthAdjust="spacingAndGlyphs">20</text>
<text x="788.9" y="474.6" fill="#111" stroke="#111" textLength="6.9" lengthAdjust="spacingAndGlyphs">40</text>
<text x="823.6" y="474.6" fill="#111" stroke="#111" textLength="6.9" lengthAdjust="spacingAndGlyphs">43</text>
<text x="858.3" y="474.6" fill="#111" stroke="#111" textLength="6.9" lengthAdjust="spacingAndGlyphs">38</text>
<text x="60.0" y="483.4" fill="#111" stroke="#111" textLength="6.9" lengthAdjust="spacingAndGlyphs">15</text>
<text x="94.7" y="483.4" fill="#111" stroke="#111" textLength="6.9" lengthAdjust="spacingAndGlyphs">15</text>
<text x="129.4" y="483.4" fill="#111" stroke="#111" textLength="6.9" lengthAdjust="spacingAndGlyphs">12</text>
<text x="164.1" y="483.4" fill="#111" stroke="#111" textLength="6.9" lengthAdjust="spacingAndGlyphs">10</text>
<text x="198.8" y="483.4" fill="#111" stroke="#111" textLength="3.4" lengthAdjust="spacingAndGlyphs">3</text>
<text x="233.5" y="483.4" fill="#111" stroke="#111" textLength="6.9" lengthAdjust="spacingAndGlyphs">15</text>
<text x="268.2" y="483.4" fill="#fff" stroke="#fff" textLength="6.9" lengthAdjust="spacingAndGlyphs">18</text>
<text x="302.9" y="483.4" fill="#111" stroke="#111" textLength="6.9" lengthAdjust="spacingAndGlyphs">13</text>
<text x="337.6" y="483.4" fill="#111" stroke="#111" textLength="3.4" lengthAdjust="spacingAndGlyphs">4</text>
<text x="372.3" y="483.4" fill="#111" stroke="#111" textLength="6.9" lengthAdjust="spacingAndGlyphs">10</text>
<text x="407.1" y="483.4" fill="#111" stroke="#111" textLength="6.9" lengthAdjust="spacingAndGlyphs">15</text>
<text x="441.8" y="483.4" fill="#111" stroke="#111" textLength="3.4" lengthAdjust="spacingAndGlyphs">8</text>
<text x="476.5" y="483.4" fill="#111" stroke="#111" textLength="3.4" lengthAdjust="spacingAndGlyphs">3</text>
<text x="511.2" y="483.4" fill="#111" stroke="#111" textLength="6.9" lengthAdjust="spacingAndGlyphs">10</text>
<text x="545.9" y="483.4" fill="#111" stroke="#111" textLength="6.9" lengthAdjust="spacingAndGlyphs">15</text>
<text x="580.6" y="483.4" fill="#111" stroke="#111" textLength="6.9" lengthAdjust="spacingAndGlyphs">14</text>
<text x="615.3" y="483.4" fill="#111" stroke="#111" textLength="3.4" lengthAdjust="spacingAndGlyphs">7</text>
<text x="650.0" y="483.4" fill="#111" stroke="#111" textLength="6.9" lengthAdjust="spacingAndGlyphs">14</text>
<text x="684.7" y="483.4" fill="#fff" stroke="#fff" textLength="6.9" lengthAdjust="spacingAndGlyphs">35</text>
<text x="719.4" y="483.4" fill="#111" stroke="#111" textLength="6.9" lengthAdjust="spacingAndGlyphs">37</text>
<text x="754.2" y="483.4" fill="#111" stroke="#111" textLength="3.4" lengthAdjust="spacingAndGlyphs">7</text>
<text x="788.9" y="483.4" fill="#111" stroke="#111" textLength="6.9" lengthAdjust="spacingAndGlyphs">13</text>
<text x="823.6" y="483.4" fill="#fff" stroke="#fff" textLength="6.9" lengthAdjust="spacingAndGlyphs">21</text>
<text x="858.3" y="483.4" fill="#fff" stroke="#fff" textLength="6.9" lengthAdjust="spacingAndGlyphs">21</text>
<text x="60.0" y="492.3" fill="#111" stroke="#111" textLength="6.9" lengthAdjust="spacingAndGlyphs">11</text>
<text x="94.7" y="492.3" fill="#fff" stroke="#fff" textLength="6.9" lengthAdjust="spacingAndGlyphs">17</text>
<text x="129.4" y="492.3" fill="#111" stroke="#111" textLength="6.9" lengthAdjust="spacingAndGlyphs">16</text>
<text x="164.1" y="492.3" fill="#111" stroke="#111" textLength="3.4" lengthAdjust="spacingAndGlyphs">9</text>
<text x="198.8" y="492.3" fill="#111" stroke="#111" textLength="3.4" lengthAdjust="spacingAndGlyphs">3</text>
<text x="233.5" y="492.3" fill="#111" stroke="#111" textLength="6.9" lengthAdjust="spacingAndGlyphs">15</text>
<text x="268.2" y="492.3" fill="#fff" stroke="#fff" textLength="6.9" lengthAdjust="spacingAndGlyphs">18</text>
<text x="302.9" y="492.3" fill="#111" stroke="#111" textLength="6.9" lengthAdjust="spacingAndGlyphs">13</text>
<text x="337.6" y="492.3" fill="#111" stroke="#111" textLength="3.4" lengthAdjust="spacingAndGlyphs">3</text>
<text x="372.3" y="492.3" fill="#111" stroke="#111" textLength="6.9" lengthAdjust="spacingAndGlyphs">15</text>
<text x="407.1" y="492.3" fill="#fff" stroke="#fff" textLength="6.9" lengthAdjust="spacingAndGlyphs">18</text>
<text x="441.8" y="492.3" fill="#111" stroke="#111" textLength="3.4" lengthAdjust="spacingAndGlyphs">6</text>
<text x="476.5" y="492.3" fill="#111" stroke="#111" textLength="3.4" lengthAdjust="spacingAndGlyphs">4</text>
<text x="511.2" y="492.3" fill="#111" stroke="#111" textLength="6.9" lengthAdjust="spacingAndGlyphs">12</text>
<text x="545.9" y="492.3" fill="#111" stroke="#111" textLength="6.9" lengthAdjust="spacingAndGlyphs">32</text>
<text x="580.6" y="492.3" fill="#fff" stroke="#fff" textLength="6.9" lengthAdjust="spacingAndGlyphs">35</text>
<text x="615.3" y="492.3" fill="#111" stroke="#111" textLength="6.9" lengthAdjust="spacingAndGlyphs">10</text>
<text x="650.0" y="492.3" fill="#111" stroke="#111" textLength="6.9" lengthAdjust="spacingAndGlyphs">13</text>
<text x="684.7" y="492.3" fill="#111" stroke="#111" textLength="6.9" lengthAdjust="spacingAndGlyphs">33</text>
<text x="719.4" y="492.3" fill="#111" stroke="#111" textLength="6.9" lengthAdjust="spacingAndGlyphs">32</text>
<text x="754.2" y="492.3" fill="#111" stroke="#111" textLength="6.9" lengthAdjust="spacingAndGlyphs">29</text>
<text x="788.9" y="492.3" fill="#111" stroke="#111" textLength="6.9" lengthAdjust="spacingAndGlyphs">43</text>
<text x="823.6" y="492.3" fill="#111" stroke="#111" textLength="6.9" lengthAdjust="spacingAndGlyphs">44</text>
<text x="858.3" y="492.3" fill="#111" stroke="#111" textLength="6.9" lengthAdjust="spacingAndGlyphs">40</text>
<text x="60.0" y="501.2" fill="#fff" stroke="#fff" textLength="6.9" lengthAdjust="spacingAndGlyphs">22</text>
<text x="94.7" y="501.2" fill="#fff" stroke="#fff" textLength="6.9" lengthAdjust="spacingAndGlyphs">18</text>
<text x="129.4" y="501.2" fill="#111" stroke="#111" textLength="6.9" lengthAdjust="spacingAndGlyphs">14</text>
<text x="164.1" y="501.2" fill="#111" stroke="#111" textLength="6.9" lengthAdjust="spacingAndGlyphs">12</text>
<text x="198.8" y="501.2" fill="#111" stroke="#111" textLength="3.4" lengthAdjust="spacingAndGlyphs">4</text>
<text x="233.5" y="501.2" fill="#fff" stroke="#fff" textLength="6.9" lengthAdjust="spacingAndGlyphs">17</text>
<text x="268.2" y="501.2" fill="#fff" stroke="#fff" textLength="6.9" lengthAdjust="spacingAndGlyphs">19</text>
<text x="302.9" y="501.2" fill="#111" stroke="#111" textLength="6.9" lengthAdjust="spacingAndGlyphs">14</text>
<text x="337.6" y="501.2" fill="#111" stroke="#111" textLength="3.4" lengthAdjust="spacingAndGlyphs">4</text>
<text x="372.3" y="501.2" fill="#111" stroke="#111" textLength="6.9" lengthAdjust="spacingAndGlyphs">10</text>
<text x="407.1" y="501.2" fill="#111" stroke="#111" textLength="6.9" lengthAdjust="spacingAndGlyphs">16</text>
<text x="441.8" y="501.2" fill="#111" stroke="#111" textLength="6.9" lengthAdjust="spacingAndGlyphs">10</text>
<text x="476.5" y="501.2" fill="#111" stroke="#111" textLength="3.4" lengthAdjust="spacingAndGlyphs">5</text>
<text x="511.2" y="501.2" fill="#111" stroke="#111" textLength="3.4" lengthAdjust="spacingAndGlyphs">9</text>
<text x="545.9" y="501.2" fill="#111" stroke="#111" textLength="6.9" lengthAdjust="spacingAndGlyphs">14</text>
<text x="580.6" y="501.2" fill="#fff" stroke="#fff" textLength="6.9" lengthAdjust="spacingAndGlyphs">19</text>
<text x="615.3" y="501.2" fill="#fff" stroke="#fff" textLength="6.9" lengthAdjust="spacingAndGlyphs">16</text>
<text x="650.0" y="501.2" fill="#111" stroke="#111" textLength="6.9" lengthAdjust="spacingAndGlyphs">15</text>
<text x="684.7" y="501.2" fill="#111" stroke="#111" textLength="6.9" lengthAdjust="spacingAndGlyphs">44</text>
<text x="719.4" y="501.2" fill="#111" stroke="#111" textLength="6.9" lengthAdjust="spacingAndGlyphs">41</text>
<text x="754.2" y="501.2" fill="#fff" stroke="#fff" textLength="6.9" lengthAdjust="spacingAndGlyphs">19</text>
<text x="788.9" y="501.2" fill="#fff" stroke="#fff" textLength="6.9" lengthAdjust="spacingAndGlyphs">19</text>
<text x="823.6" y="501.2" fill="#fff" stroke="#fff" textLength="6.9" lengthAdjust="spacingAndGlyphs">22</text>
<text x="858.3" y="501.2" fill="#fff" stroke="#fff" textLength="6.9" lengthAdjust="spacingAndGlyphs">19</text>
<text x="60.0" y="510.0" fill="#fff" stroke="#fff" textLength="6.9" lengthAdjust="spacingAndGlyphs">17</text>
<text x="94.7" y="510.0" fill="#111" stroke="#111" textLength="6.9" lengthAdjust="spacingAndGlyphs">12</text>
<text x="129.4" y="510.0" fill="#fff" stroke="#fff" textLength="6.9" lengthAdjust="spacingAndGlyphs">17</text>
<text x="164.1" y="510.0" fill="#111" stroke="#111" textLength="6.9" lengthAdjust="spacingAndGlyphs">10</text>
<text x="198.8" y="510.0" fill="#111" stroke="#111" textLength="3.4" lengthAdjust="spacingAndGlyphs">3</text>
<text x="233.5" y="510.0" fill="#111" stroke="#111" textLength="6.9" lengthAdjust="spacingAndGlyphs">15</text>
<text x="268.2" y="510.0" fill="#fff" stroke="#fff" textLength="6.9" lengthAdjust="spacingAndGlyphs">17</text>
<text x="302.9" y="510.0" fill="#111" stroke="#111" textLength="6.9" lengthAdjust="spacingAndGlyphs">14</text>
<text x="337.6" y="510.0" fill="#111" stroke="#111" textLength="3.4" lengthAdjust="spacingAndGlyphs">6</text>
<text x="372.3" y="510.0" fill="#111" stroke="#111" textLength="6.9" lengthAdjust="spacingAndGlyphs">10</text>
<text x="407.1" y="510.0" fill="#111" stroke="#111" textLength="6.9" lengthAdjust="spacingAndGlyphs">14</text>
<text x="441.8" y="510.0" fill="#111" stroke="#111" textLength="3.4" lengthAdjust="spacingAndGlyphs">8</text>
<text x="476.5" y="510.0" fill="#111" stroke="#111" textLength="3.4" lengthAdjust="spacingAndGlyphs">6</text>
<text x="511.2" y="510.0" fill="#111" stroke="#111" textLength="6.9" lengthAdjust="spacingAndGlyphs">10</text>
<text x="545.9" y="510.0" fill="#fff" stroke="#fff" textLength="6.9" lengthAdjust="spacingAndGlyphs">17</text>
<text x="580.6" y="510.0" fill="#111" stroke="#111" textLength="6.9" lengthAdjust="spacingAndGlyphs">30</text>
<text x="615.3" y="510.0" fill="#111" stroke="#111" textLength="6.9" lengthAdjust="spacingAndGlyphs">12</text>
<text x="650.0" y="510.0" fill="#111" stroke="#111" textLength="6.9" lengthAdjust="spacingAndGlyphs">10</text>
<text x="684.7" y="510.0" fill="#111" stroke="#111" textLength="6.9" lengthAdjust="spacingAndGlyphs">30</text>
<text x="719.4" y="510.0" fill="#111" stroke="#111" textLength="6.9" lengthAdjust="spacingAndGlyphs">30</text>
<text x="754.2" y="510.0" fill="#fff" stroke="#fff" textLength="6.9" lengthAdjust="spacingAndGlyphs">21</text>
<text x="788.9" y="510.0" fill="#111" stroke="#111" textLength="6.9" lengthAdjust="spacingAndGlyphs">39</text>
<text x="823.6" y="510.0" fill="#111" stroke="#111" textLength="6.9" lengthAdjust="spacingAndGlyphs">39</text>
<text x="858.3" y="510.0" fill="#111" stroke="#111" textLength="6.9" lengthAdjust="spacingAndGlyphs">33</text>
</g>
<rect x="42.5" y="60.5" width="832" height="452" fill="none" stroke="#000" stroke-width="1" shape-rendering="crispEdges"/>
<g font-family="Liberation Sans, sans-serif" font-size="13.7" text-anchor="end" fill="#000">
<text x="30.9" y="70.0" textLength="13.5" lengthAdjust="spacingAndGlyphs">50</text>
<line x1="37.2" x2="42.5" y1="65.3" y2="65.3" stroke="#000" stroke-width="1" shape-rendering="crispEdges"/>
<text x="30.9" y="87.7" textLength="13.5" lengthAdjust="spacingAndGlyphs">48</text>
<line x1="37.2" x2="42.5" y1="83.0" y2="83.0" stroke="#000" stroke-width="1" shape-rendering="crispEdges"/>
<text x="30.9" y="105.4" textLength="13.5" lengthAdjust="spacingAndGlyphs">46</text>
<line x1="37.2" x2="42.5" y1="100.7" y2="100.7" stroke="#000" stroke-width="1" shape-rendering="crispEdges"/>
<text x="30.9" y="123.1" textLength="13.5" lengthAdjust="spacingAndGlyphs">44</text>
<line x1="37.2" x2="42.5" y1="118.4" y2="118.4" stroke="#000" stroke-width="1" shape-rendering="crispEdges"/>
<text x="30.9" y="140.8" textLength="13.5" lengthAdjust="spacingAndGlyphs">42</text>
<line x1="37.2" x2="42.5" y1="136.1" y2="136.1" stroke="#000" stroke-width="1" shape-rendering="crispEdges"/>
<text x="30.9" y="158.5" textLength="13.5" lengthAdjust="spacingAndGlyphs">40</text>
<line x1="37.2" x2="42.5" y1="153.8" y2="153.8" stroke="#000" stroke-width="1" shape-rendering="crispEdges"/>
<text x="30.9" y="176.2" textLength="13.5" lengthAdjust="spacingAndGlyphs">38</text>
<line x1="37.2" x2="42.5" y1="171.5" y2="171.5" stroke="#000" stroke-width="1" shape-rendering="crispEdges"/>
<text x="30.9" y="193.8" textLength="13.5" lengthAdjust="spacingAndGlyphs">36</text>
<line x1="37.2" x2="42.5" y1="189.1" y2="189.1" stroke="#000" stroke-width="1" shape-rendering="crispEdges"/>
<text x="30.9" y="211.5" textLength="13.5" lengthAdjust="spacingAndGlyphs">34</text>
<line x1="37.2" x2="42.5" y1="206.8" y2="206.8" stroke="#000" stroke-width="1" shape-rendering="crispEdges"/>
<text x="30.9" y="229.2" textLength="13.5" lengthAdjust="spacingAndGlyphs">32</text>
<line x1="37.2" x2="42.5" y1="224.5" y2="224.5" stroke="#000" stroke-width="1" shape-rendering="crispEdges"/>
<text x="30.9" y="246.9" textLength="13.5" lengthAdjust="spacingAndGlyphs">30</text>
<line x1="37.2" x2="42.5" y1="242.2" y2="242.2" stroke="#000" stroke-width="1" shape-rendering="crispEdges"/>
<text x="30.9" y="264.6" textLength="13.5" lengthAdjust="spacingAndGlyphs">28</text>
<line x1="37.2" x2="42.5" y1="259.9" y2="259.9" stroke="#000" stroke-width="1" shape-rendering="crispEdges"/>
<text x="30.9" y="282.3" textLength="13.5" lengthAdjust="spacingAndGlyphs">26</text>
<line x1="37.2" x2="42.5" y1="277.6" y2="277.6" stroke="#000" stroke-width="1" shape-rendering="crispEdges"/>
<text x="30.9" y="300.0" textLength="13.5" lengthAdjust="spacingAndGlyphs">24</text>
<line x1="37.2" x2="42.5" y1="295.3" y2="295.3" stroke="#000" stroke-width="1" shape-rendering="crispEdges"/>
<text x="30.9" y="317.7" textLength="13.5" lengthAdjust="spacingAndGlyphs">22</text>
<line x1="37.2" x2="42.5" y1="313.0" y2="313.0" stroke="#000" stroke-width="1" shape-rendering="crispEdges"/>
<text x="30.9" y="335.4" textLength="13.5" lengthAdjust="spacingAndGlyphs">20</text>
<line x1="37.2" x2="42.5" y1="330.7" y2="330.7" stroke="#000" stroke-width="1" shape-rendering="crispEdges"/>
<text x="30.9" y="353.1" textLength="13.5" lengthAdjust="spacingAndGlyphs">18</text>
<line x1="37.2" x2="42.5" y1="348.4" y2="348.4" stroke="#000" stroke-width="1" shape-rendering="crispEdges"/>
<text x="30.9" y="370.8" textLength="13.5" lengthAdjust="spacingAndGlyphs">16</text>
<line x1="37.2" x2="42.5" y1="366.1" y2="366.1" stroke="#000" stroke-width="1" shape-rendering="crispEdges"/>
<text x="30.9" y="388.5" textLength="13.5" lengthAdjust="spacingAndGlyphs">14</text>
<line x1="37.2" x2="42.5" y1="383.8" y2="383.8" stroke="#000" stroke-width="1" shape-rendering="crispEdges"/>
<text x="30.9" y="406.1" textLength="13.5" lengthAdjust="spacingAndGlyphs">12</text>
<line x1="37.2" x2="42.5" y1="401.4" y2="401.4" stroke="#000" stroke-width="1" shape-rendering="crispEdges"/>
<text x="30.9" y="423.8" textLength="13.5" lengthAdjust="spacingAndGlyphs">10</text>
<line x1="37.2" x2="42.5" y1="419.1" y2="419.1" stroke="#000" stroke-width="1" shape-rendering="crispEdges"/>
<text x="30.9" y="441.5" textLength="13.5" lengthAdjust="spacingAndGlyphs">08</text>
<line x1="37.2" x2="42.5" y1="436.8" y2="436.8" stroke="#000" stroke-width="1" shape-rendering="crispEdges"/>
<text x="30.9" y="459.2" textLength="13.5" lengthAdjust="spacingAndGlyphs">06</text>
<line x1="37.2" x2="42.5" y1="454.5" y2="454.5" stroke="#000" stroke-width="1" shape-rendering="crispEdges"/>
<text x="30.9" y="476.9" textLength="13.5" lengthAdjust="spacingAndGlyphs">04</text>
<line x1="37.2" x2="42.5" y1="472.2" y2="472.2" stroke="#000" stroke-width="1" shape-rendering="crispEdges"/>
<text x="30.9" y="494.6" textLength="13.5" lengthAdjust="spacingAndGlyphs">02</text>
<line x1="37.2" x2="42.5" y1="489.9" y2="489.9" stroke="#000" stroke-width="1" shape-rendering="crispEdges"/>
<text x="30.9" y="512.3" textLength="19.8" lengthAdjust="spacingAndGlyphs">c00</text>
<line x1="37.2" x2="42.5" y1="507.6" y2="507.6" stroke="#000" stroke-width="1" shape-rendering="crispEdges"/>
</g>
<g font-family="Liberation Sans, sans-serif" fill="#111">
<line x1="60.6" x2="60.6" y1="515.9" y2="519.5" stroke="#000" stroke-width="1" shape-rendering="crispEdges"/>
<text transform="translate(62.2,544.9) rotate(-90)" font-size="10.2" textLength="23.6" lengthAdjust="spacingAndGlyphs">17-12z</text>
<text x="60.6" y="568.1" font-size="10.2" text-anchor="middle" textLength="8.9" lengthAdjust="spacingAndGlyphs">Fri</text>
<line x1="95.4" x2="95.4" y1="515.9" y2="519.5" stroke="#000" stroke-width="1" shape-rendering="crispEdges"/>
<text transform="translate(97.0,544.9) rotate(-90)" font-size="10.2" textLength="23.6" lengthAdjust="spacingAndGlyphs">17-18z</text>
<text x="95.4" y="568.1" font-size="10.2" text-anchor="middle" textLength="8.9" lengthAdjust="spacingAndGlyphs">Fri</text>
<line x1="130.1" x2="130.1" y1="515.9" y2="519.5" stroke="#000" stroke-width="1" shape-rendering="crispEdges"/>
<text transform="translate(131.7,544.9) rotate(-90)" font-size="10.2" textLength="23.6" lengthAdjust="spacingAndGlyphs">18-00z</text>
<text x="130.1" y="568.1" font-size="10.2" text-anchor="middle" textLength="11.7" lengthAdjust="spacingAndGlyphs">Sat</text>
<line x1="164.8" x2="164.8" y1="515.9" y2="519.5" stroke="#000" stroke-width="1" shape-rendering="crispEdges"/>
<text transform="translate(166.4,544.9) rotate(-90)" font-size="10.2" textLength="23.6" lengthAdjust="spacingAndGlyphs">18-06z</text>
<text x="164.8" y="568.1" font-size="10.2" text-anchor="middle" textLength="11.7" lengthAdjust="spacingAndGlyphs">Sat</text>
<line x1="199.5" x2="199.5" y1="515.9" y2="519.5" stroke="#000" stroke-width="1" shape-rendering="crispEdges"/>
<text transform="translate(201.1,544.9) rotate(-90)" font-size="10.2" textLength="23.6" lengthAdjust="spacingAndGlyphs">18-12z</text>
<text x="199.5" y="568.1" font-size="10.2" text-anchor="middle" textLength="11.7" lengthAdjust="spacingAndGlyphs">Sat</text>
<line x1="234.2" x2="234.2" y1="515.9" y2="519.5" stroke="#000" stroke-width="1" shape-rendering="crispEdges"/>
<text transform="translate(235.8,544.9) rotate(-90)" font-size="10.2" textLength="23.6" lengthAdjust="spacingAndGlyphs">18-18z</text>
<text x="234.2" y="568.1" font-size="10.2" text-anchor="middle" textLength="11.7" lengthAdjust="spacingAndGlyphs">Sat</text>
<line x1="268.9" x2="268.9" y1="515.9" y2="519.5" stroke="#000" stroke-width="1" shape-rendering="crispEdges"/>
<text transform="translate(270.5,544.9) rotate(-90)" font-size="10.2" textLength="23.6" lengthAdjust="spacingAndGlyphs">19-00z</text>
<text x="268.9" y="568.1" font-size="10.2" text-anchor="middle" textLength="13.5" lengthAdjust="spacingAndGlyphs">Sun</text>
<line x1="303.6" x2="303.6" y1="515.9" y2="519.5" stroke="#000" stroke-width="1" shape-rendering="crispEdges"/>
<text transform="translate(305.2,544.9) rotate(-90)" font-size="10.2" textLength="23.6" lengthAdjust="spacingAndGlyphs">19-06z</text>
<text x="303.6" y="568.1" font-size="10.2" text-anchor="middle" textLength="13.5" lengthAdjust="spacingAndGlyphs">Sun</text>
<line x1="338.3" x2="338.3" y1="515.9" y2="519.5" stroke="#000" stroke-width="1" shape-rendering="crispEdges"/>
<text transform="translate(339.9,544.9) rotate(-90)" font-size="10.2" textLength="23.6" lengthAdjust="spacingAndGlyphs">19-12z</text>
<text x="338.3" y="568.1" font-size="10.2" text-anchor="middle" textLength="13.5" lengthAdjust="spacingAndGlyphs">Sun</text>
<line x1="373.0" x2="373.0" y1="515.9" y2="519.5" stroke="#000" stroke-width="1" shape-rendering="crispEdges"/>
<text transform="translate(374.6,544.9) rotate(-90)" font-size="10.2" textLength="23.6" lengthAdjust="spacingAndGlyphs">19-18z</text>
<text x="373.0" y="568.1" font-size="10.2" text-anchor="middle" textLength="13.5" lengthAdjust="spacingAndGlyphs">Sun</text>
<line x1="407.8" x2="407.8" y1="515.9" y2="519.5" stroke="#000" stroke-width="1" shape-rendering="crispEdges"/>
<text transform="translate(409.4,544.9) rotate(-90)" font-size="10.2" textLength="23.6" lengthAdjust="spacingAndGlyphs">20-00z</text>
<text x="407.8" y="568.1" font-size="10.2" text-anchor="middle" textLength="16" lengthAdjust="spacingAndGlyphs">Mon</text>
<line x1="442.5" x2="442.5" y1="515.9" y2="519.5" stroke="#000" stroke-width="1" shape-rendering="crispEdges"/>
<text transform="translate(444.1,544.9) rotate(-90)" font-size="10.2" textLength="23.6" lengthAdjust="spacingAndGlyphs">20-06z</text>
<text x="442.5" y="568.1" font-size="10.2" text-anchor="middle" textLength="16" lengthAdjust="spacingAndGlyphs">Mon</text>
<line x1="477.2" x2="477.2" y1="515.9" y2="519.5" stroke="#000" stroke-width="1" shape-rendering="crispEdges"/>
<text transform="translate(478.8,544.9) rotate(-90)" font-size="10.2" textLength="23.6" lengthAdjust="spacingAndGlyphs">20-12z</text>
<text x="477.2" y="568.1" font-size="10.2" text-anchor="middle" textLength="16" lengthAdjust="spacingAndGlyphs">Mon</text>
<line x1="511.9" x2="511.9" y1="515.9" y2="519.5" stroke="#000" stroke-width="1" shape-rendering="crispEdges"/>
<text transform="translate(513.5,544.9) rotate(-90)" font-size="10.2" textLength="23.6" lengthAdjust="spacingAndGlyphs">20-18z</text>
<text x="511.9" y="568.1" font-size="10.2" text-anchor="middle" textLength="16" lengthAdjust="spacingAndGlyphs">Mon</text>
<line x1="546.6" x2="546.6" y1="515.9" y2="519.5" stroke="#000" stroke-width="1" shape-rendering="crispEdges"/>
<text transform="translate(548.2,544.9) rotate(-90)" font-size="10.2" textLength="23.6" lengthAdjust="spacingAndGlyphs">21-00z</text>
<text x="546.6" y="568.1" font-size="10.2" text-anchor="middle" textLength="13.5" lengthAdjust="spacingAndGlyphs">Tue</text>
<line x1="581.3" x2="581.3" y1="515.9" y2="519.5" stroke="#000" stroke-width="1" shape-rendering="crispEdges"/>
<text transform="translate(582.9,544.9) rotate(-90)" font-size="10.2" textLength="23.6" lengthAdjust="spacingAndGlyphs">21-06z</text>
<text x="581.3" y="568.1" font-size="10.2" text-anchor="middle" textLength="13.5" lengthAdjust="spacingAndGlyphs">Tue</text>
<line x1="616.0" x2="616.0" y1="515.9" y2="519.5" stroke="#000" stroke-width="1" shape-rendering="crispEdges"/>
<text transform="translate(617.6,544.9) rotate(-90)" font-size="10.2" textLength="23.6" lengthAdjust="spacingAndGlyphs">21-12z</text>
<text x="616.0" y="568.1" font-size="10.2" text-anchor="middle" textLength="13.5" lengthAdjust="spacingAndGlyphs">Tue</text>
<line x1="650.7" x2="650.7" y1="515.9" y2="519.5" stroke="#000" stroke-width="1" shape-rendering="crispEdges"/>
<text transform="translate(652.3,544.9) rotate(-90)" font-size="10.2" textLength="23.6" lengthAdjust="spacingAndGlyphs">21-18z</text>
<text x="650.7" y="568.1" font-size="10.2" text-anchor="middle" textLength="13.5" lengthAdjust="spacingAndGlyphs">Tue</text>
<line x1="685.4" x2="685.4" y1="515.9" y2="519.5" stroke="#000" stroke-width="1" shape-rendering="crispEdges"/>
<text transform="translate(687.0,544.9) rotate(-90)" font-size="10.2" textLength="23.6" lengthAdjust="spacingAndGlyphs">22-00z</text>
<text x="685.4" y="568.1" font-size="10.2" text-anchor="middle" textLength="17.5" lengthAdjust="spacingAndGlyphs">Wed</text>
<line x1="720.1" x2="720.1" y1="515.9" y2="519.5" stroke="#000" stroke-width="1" shape-rendering="crispEdges"/>
<text transform="translate(721.7,544.9) rotate(-90)" font-size="10.2" textLength="23.6" lengthAdjust="spacingAndGlyphs">22-06z</text>
<text x="720.1" y="568.1" font-size="10.2" text-anchor="middle" textLength="17.5" lengthAdjust="spacingAndGlyphs">Wed</text>
<line x1="754.9" x2="754.9" y1="515.9" y2="519.5" stroke="#000" stroke-width="1" shape-rendering="crispEdges"/>
<text transform="translate(756.5,544.9) rotate(-90)" font-size="10.2" textLength="23.6" lengthAdjust="spacingAndGlyphs">22-12z</text>
<text x="754.9" y="568.1" font-size="10.2" text-anchor="middle" textLength="17.5" lengthAdjust="spacingAndGlyphs">Wed</text>
<line x1="789.6" x2="789.6" y1="515.9" y2="519.5" stroke="#000" stroke-width="1" shape-rendering="crispEdges"/>
<text transform="translate(791.2,544.9) rotate(-90)" font-size="10.2" textLength="23.6" lengthAdjust="spacingAndGlyphs">22-18z</text>
<text x="789.6" y="568.1" font-size="10.2" text-anchor="middle" textLength="17.5" lengthAdjust="spacingAndGlyphs">Wed</text>
<line x1="824.3" x2="824.3" y1="515.9" y2="519.5" stroke="#000" stroke-width="1" shape-rendering="crispEdges"/>
<text transform="translate(825.9,544.9) rotate(-90)" font-size="10.2" textLength="23.6" lengthAdjust="spacingAndGlyphs">23-00z</text>
<text x="824.3" y="568.1" font-size="10.2" text-anchor="middle" textLength="13.7" lengthAdjust="spacingAndGlyphs">Thu</text>
<line x1="859.0" x2="859.0" y1="515.9" y2="519.5" stroke="#000" stroke-width="1" shape-rendering="crispEdges"/>
<text transform="translate(860.6,544.9) rotate(-90)" font-size="10.2" textLength="23.6" lengthAdjust="spacingAndGlyphs">23-06z</text>
<text x="859.0" y="568.1" font-size="10.2" text-anchor="middle" textLength="13.7" lengthAdjust="spacingAndGlyphs">Thu</text>
</g>
<line x1="49" x2="875" y1="556.5" y2="556.5" stroke="#000" stroke-width="1" shape-rendering="crispEdges"/>
<text x="449" y="581" font-family="Liberation Sans, sans-serif" font-size="10.4" fill="#111" textLength="285.5" lengthAdjust="spacingAndGlyphs">© 2026 European Centre for Medium-Range Weather Forecasts (ECMWF).</text>
<g font-family="Liberation Sans, sans-serif" font-size="13.5" fill="#000">
<text x="6" y="15.6" font-weight="bold" textLength="115.5" lengthAdjust="spacingAndGlyphs">ECMWF Ens 0.1</text>
<text x="122.3" y="15.6" font-weight="normal" textLength="5.5" lengthAdjust="spacingAndGlyphs">°</text>
<text x="134" y="15.6" font-weight="normal" textLength="126.5" lengthAdjust="spacingAndGlyphs">Init 06z 17 Apr 2026</text>
<text x="267" y="15.6" font-weight="bold" textLength="6" lengthAdjust="spacingAndGlyphs">•</text>
<text x="278.5" y="15.6" font-weight="bold" textLength="219" lengthAdjust="spacingAndGlyphs">6 Hour Max Wind Gust (mph)</text>
<text x="6" y="33.1" font-weight="bold" textLength="412.5" lengthAdjust="spacingAndGlyphs">Columbia Gorge Regional the Dalles Municipal Airport</text>
<text x="424" y="33.1" font-weight="normal" textLength="6" lengthAdjust="spacingAndGlyphs">•</text>
<text x="436" y="33.1" font-weight="normal" textLength="264.5" lengthAdjust="spacingAndGlyphs">KDLS [45.6185°N, 121.167°W, 247ft elev]</text>
<text x="6" y="50.6" font-weight="bold" textLength="30.5" lengthAdjust="spacingAndGlyphs">Grid</text>
<text x="36.5" y="50.6" font-weight="normal" textLength="368.5" lengthAdjust="spacingAndGlyphs">: [45.6°N, 121.2°W, 977ft elev, 2.04mi to the SW (231.3)°]</text>
</g>
<g transform="translate(798.2,34.8) rotate(21)">
<ellipse rx="23" ry="17.6" fill="#acacac"/>
<path d="M-21.45 13.82 A28 21.5 0 0 1 -3.90 -21.29" fill="none" stroke="#b0b0b0" stroke-width="1.6" stroke-linecap="round"/>
<path d="M-24.43 -6.91 A26 20.2 0 0 1 22.52 -10.10" fill="none" stroke="#b4b4b4" stroke-width="1.2" stroke-linecap="round"/>
<path d="M22.94 -12.33 A28 21.5 0 0 1 -2.44 21.42" fill="none" stroke="#b0b0b0" stroke-width="1.6" stroke-linecap="round"/>
<path d="M22.52 10.10 A26 20.2 0 0 1 -22.52 10.10" fill="none" stroke="#b8b8b8" stroke-width="1.1" stroke-linecap="round"/>
<path d="M-20.42 1.27 A20.5 14.6 0 0 1 18.58 -6.17" fill="none" stroke="#fff" stroke-width="1.0" stroke-linecap="round"/>
<path d="M-13.93 -6.31 A17 11 0 0 1 16.83 -1.53" fill="none" stroke="#fff" stroke-width="0.9" stroke-linecap="round"/>
<path d="M-7.74 -6.14 A13.5 7.5 0 0 1 13.50 -0.00" fill="none" stroke="#fff" stroke-width="0.8" stroke-linecap="round"/>
<path d="M16.79 8.37 A20.5 14.6 0 0 1 -17.75 7.30" fill="none" stroke="#fff" stroke-width="1.0" stroke-linecap="round"/>
</g>
<text x="788.4" y="37.7" font-family="Liberation Serif, serif" fill="#383838" stroke="#383838" stroke-width="0.2" textLength="38.6" lengthAdjust="spacingAndGlyphs"><tspan font-size="12.6">W</tspan><tspan font-size="9">EATHER</tspan></text>
<text x="827.7" y="37.7" font-family="Liberation Serif, serif" fill="#383838" stroke="#383838" stroke-width="0.15" font-size="12.6" textLength="30.5" lengthAdjust="spacingAndGlyphs">BELL</text>
<text x="828.3" y="41.9" font-family="Liberation Serif, serif" fill="#555" font-size="3.7" textLength="30.5" lengthAdjust="spacingAndGlyphs">ANALYTICS LLC</text>
<g fill="none" stroke="#000" stroke-linecap="round" stroke-linejoin="round">
<path stroke-width="4.0" d="M59.6 81.9 C60.2 82.8 62.0 85.3 63.0 87.0 C64.0 88.7 65.1 89.4 65.6 92.2 C66.1 95.0 65.9 99.3 65.9 104.1 C65.9 108.9 65.6 116.5 65.6 121.1 C65.5 125.6 65.6 129.7 65.6 131.4"/>
<path stroke-width="4.0" d="M65.6 91.3 L99.7 77.7"/>
<path stroke-width="4.0" d="M65.9 104.1 L94.5 97.3"/>
<path stroke-width="4.0" d="M121.0 104.1 C120.8 103.7 121.7 101.9 120.1 101.5 C118.5 101.1 114.7 100.9 111.6 101.5 C108.5 102.1 104.1 103.2 101.4 104.9 C98.7 106.6 96.7 109.5 95.5 111.5 C94.3 113.5 93.9 115.2 94.0 117.0 C94.1 118.8 95.0 121.1 96.0 122.0 C97.0 122.9 98.8 123.0 100.0 122.5 C101.2 122.0 102.6 120.4 103.0 119.0 C103.4 117.6 103.0 115.2 102.3 114.0 C101.6 112.8 100.0 111.6 99.0 111.5 C98.0 111.4 96.5 113.2 96.0 113.5"/>
<path stroke-width="3.8" d="M133.7 82.8 L138.0 87.0"/>
<path stroke-width="3.8" d="M129.5 116.9 L126.9 121.1"/>
<path stroke-width="4.0" d="M69.0 147.0 L125.2 185.4"/>
<path stroke-width="4.0" d="M123.5 141.9 L71.5 204.1"/>
<path stroke-width="4.0" d="M260.5 76.2 C257.5 76.8 247.8 77.8 242.6 79.6 C237.3 81.4 232.3 84.8 229.0 87.3 C225.7 89.8 223.0 93.1 223.0 94.9 C223.0 96.8 225.7 97.4 229.0 98.4 C232.3 99.4 239.2 99.6 242.6 100.9 C246.0 102.2 249.7 104.0 249.4 106.0 C249.1 108.0 244.9 110.7 240.9 112.8 C236.9 114.9 230.4 117.4 225.6 118.8 C220.8 120.2 214.2 121.0 211.9 121.4"/>
<path stroke-width="4.0" d="M256.2 106.9 C254.8 108.2 249.7 112.2 247.7 114.5 C245.7 116.8 243.7 119.3 244.3 120.5 C244.9 121.7 248.2 122.1 251.1 121.4 C253.9 120.7 258.8 117.9 261.4 116.2 C264.0 114.5 265.4 112.2 266.5 111.1 C267.6 110.0 268.1 108.6 268.2 109.4 C268.3 110.2 266.7 114.9 267.3 116.2 C267.9 117.5 269.5 117.9 271.6 117.1 C273.7 116.2 277.6 113.2 280.1 111.1 C282.7 109.0 285.8 105.4 286.9 104.3"/>
<path stroke-width="4.0" d="M288.6 84.7 C288.9 87.7 290.2 96.9 290.3 102.6 C290.4 108.3 289.6 116.1 289.5 118.8"/>
<path stroke-width="4.0" d="M299.7 99.5 L317.6 100.9"/>
<path stroke-width="4.0" d="M234.1 164.9 C229.7 166.3 211.8 169.9 207.7 173.5 C203.6 177.1 208.7 182.8 209.4 186.2 C210.1 189.6 209.8 192.6 211.9 193.9 C214.0 195.2 218.9 194.8 222.2 193.9 C225.5 193.1 229.9 189.7 231.5 188.8"/>
<path stroke-width="4.0" d="M211.9 179.4 L222.2 180.3"/>
<path stroke-width="4.0" d="M240.9 162.4 C241.9 162.6 246.0 161.9 246.9 163.6 C247.8 165.3 247.2 168.8 246.4 172.6 C245.6 176.4 243.7 182.0 241.8 186.2 C239.9 190.4 234.3 195.7 234.9 197.7 C235.5 199.7 241.3 198.9 245.2 198.2 C249.0 197.5 254.6 195.1 258.0 193.4 C261.4 191.7 263.4 189.4 265.6 188.0 C267.9 186.6 269.9 186.2 271.5 185.0 C273.1 183.8 274.9 181.9 275.0 180.6 C275.1 179.3 273.5 178.2 272.0 177.0 C270.5 175.8 268.2 174.4 266.0 173.5 C263.8 172.6 260.8 171.5 259.0 171.5 C257.2 171.5 255.6 172.4 255.0 173.5 C254.4 174.6 254.9 176.3 255.5 178.0 C256.1 179.7 257.1 181.8 258.5 183.5 C259.9 185.2 263.0 187.7 263.9 188.5"/>
<path stroke-width="4.0" d="M281.0 162.4 C282.3 162.0 286.6 159.5 288.6 159.8 C290.6 160.1 292.5 162.0 292.9 164.1 C293.3 166.2 291.9 169.8 291.2 172.6 C290.5 175.4 288.5 179.0 288.6 181.1 C288.7 183.2 290.3 184.8 292.0 185.4 C293.7 186.0 297.8 184.7 298.9 184.5"/>
<path stroke-width="4.0" d="M302.3 153.0 L304.0 156.4 L324.4 155.6"/>
<path stroke-width="4.0" d="M304.0 157.3 C303.7 158.9 301.4 165.3 302.3 166.6 C303.2 167.9 306.8 164.6 309.1 164.9 C311.4 165.2 314.6 166.6 315.9 168.4 C317.2 170.2 317.6 173.7 316.8 176.0 C316.0 178.3 313.2 180.9 310.8 182.0 C308.4 183.1 303.7 182.7 302.3 182.8"/>
<path stroke-width="4.0" d="M388.0 86.2 C385.7 86.8 378.6 88.0 374.3 89.6 C370.0 91.2 365.5 93.5 362.4 95.6 C359.3 97.7 355.3 100.9 355.6 102.4 C355.9 104.0 360.7 104.2 364.1 104.9 C367.5 105.6 373.4 105.4 376.0 106.6 C378.6 107.8 380.5 109.4 379.4 111.8 C378.3 114.2 372.9 118.4 369.2 121.1 C365.5 123.8 360.6 126.4 357.3 128.0 C354.0 129.6 350.9 130.1 349.6 130.5"/>
<path stroke-width="4.0" d="M384.5 114.3 C384.1 115.7 382.3 120.2 382.0 122.8 C381.7 125.4 381.5 129.0 382.8 129.7 C384.1 130.4 387.1 128.8 389.7 127.1 C392.3 125.4 395.9 121.5 398.2 119.4 C400.5 117.3 402.4 114.0 403.3 114.3 C404.2 114.6 403.0 118.8 403.3 121.1 C403.6 123.4 403.9 126.3 405.0 128.0 C406.1 129.7 408.1 132.3 410.1 131.4 C412.1 130.5 414.3 125.4 416.9 122.8 C419.4 120.2 423.1 117.0 425.4 116.0 C427.7 115.0 429.3 115.9 430.6 116.9 C431.9 117.9 432.7 120.5 433.1 122.0 C433.5 123.5 433.1 125.5 433.1 126.2"/>
<path stroke-width="4.0" d="M368.1 161.5 C367.4 163.1 365.5 167.3 363.9 170.9 C362.3 174.5 360.0 179.5 358.7 182.8 C357.4 186.1 354.2 189.3 356.2 190.5 C358.2 191.7 366.0 189.8 370.7 189.7 C375.4 189.6 380.1 190.1 384.3 189.7 C388.6 189.3 394.2 187.5 396.2 187.1"/>
<path stroke-width="4.0" d="M374.1 170.1 L388.6 169.2"/>
<path stroke-width="4.0" d="M373.2 180.3 L381.8 179.9"/>
<path stroke-width="4.0" d="M398.0 159.8 C398.3 161.4 399.6 165.9 399.7 169.2 C399.8 172.5 399.4 176.4 398.8 179.4 C398.2 182.4 394.9 186.5 396.2 187.1 C397.5 187.7 403.6 184.7 406.5 182.8 C409.4 181.0 412.4 178.0 413.3 176.0 C414.2 174.0 413.0 171.5 411.6 170.9 C410.2 170.3 406.4 171.2 404.8 172.6 C403.2 174.0 402.2 177.4 402.2 179.4 C402.2 181.4 404.4 183.7 404.8 184.5"/>
<path stroke-width="4.5" d="M421.3 178.6 L422.3 178.6"/>
<path stroke-width="4.0" d="M426.9 157.3 C428.3 156.7 432.8 153.9 435.4 153.9 C438.0 153.9 441.1 155.3 442.3 157.3 C443.5 159.3 443.2 163.0 442.3 165.8 C441.4 168.6 438.9 171.6 437.2 174.3 C435.5 177.0 433.3 179.6 432.0 182.0 C430.7 184.4 428.6 187.5 429.5 188.8 C430.4 190.1 434.5 190.3 437.2 189.7 C439.9 189.1 444.3 186.1 445.7 185.4"/>
<path stroke-width="4.0" d="M442.3 159.8 C442.9 160.8 443.7 164.2 445.7 165.8 C447.7 167.4 452.2 167.8 454.2 169.2 C456.2 170.6 457.6 172.3 457.6 174.3 C457.6 176.3 455.9 179.2 454.2 181.1 C452.5 182.9 448.5 184.7 447.4 185.4"/>
<path stroke-width="4.0" d="M455.9 159.0 L462.7 157.3"/>
<path stroke-width="5.2" d="M545.2 97.5 C544.5 99.5 542.1 105.0 541.0 109.2 C539.9 113.4 539.2 118.2 538.3 122.8 C537.4 127.4 536.0 134.6 535.5 137.0"/>
<path stroke-width="4.8" d="M545.2 98.1 L548.0 109.2 L549.8 121.5 L557.4 100.5 L562.2 109.2 L566.0 127.0"/>
<path stroke-width="4.6" d="M580.1 111.8 C579.0 112.5 574.6 114.5 573.3 116.0 C572.0 117.5 571.5 120.4 572.4 121.1 C573.2 121.8 576.5 121.4 578.4 120.3 C580.2 119.2 583.2 115.7 583.5 114.3 C583.8 112.9 580.7 112.2 580.1 111.8"/>
<path stroke-width="4.4" d="M583.5 114.3 C583.8 115.4 584.4 119.0 585.2 121.1 C586.1 123.2 586.9 127.4 588.6 127.1 C590.3 126.8 593.1 121.4 595.4 119.4 C597.7 117.4 600.4 115.2 602.3 115.2 C604.1 115.2 605.5 117.3 606.5 119.4 C607.5 121.5 607.9 126.6 608.2 128.0"/>
<path stroke-width="4.4" d="M511.8 175.1 C512.2 176.6 513.5 180.9 514.5 184.0 C515.5 187.1 516.4 193.8 517.5 193.8 C518.6 193.8 519.8 186.5 521.3 184.0 C522.8 181.5 525.1 178.8 526.7 178.8 C528.3 178.8 529.5 181.5 530.8 184.0 C532.0 186.5 533.2 193.5 534.2 193.8 C535.2 194.1 535.8 188.1 536.9 185.6 C538.0 183.1 539.2 180.8 540.6 178.8 C542.0 176.8 544.7 174.3 545.5 173.4"/>
<path stroke-width="4.2" d="M545.5 173.4 C544.7 174.7 541.6 178.9 540.6 181.3 C539.6 183.7 538.8 186.9 539.7 187.8 C540.6 188.8 543.8 187.9 545.8 187.0 C547.8 186.1 550.2 183.6 551.9 182.3 C553.6 181.0 554.8 178.9 556.0 179.2 C557.2 179.5 558.2 182.9 559.4 184.0 C560.6 185.1 562.7 185.3 563.4 185.6"/>
<path stroke-width="4.2" d="M564.8 169.0 C565.4 170.1 566.8 173.5 568.2 175.8 C569.6 178.1 571.2 181.6 573.0 182.6 C574.8 183.6 577.4 183.0 579.1 181.9 C580.8 180.8 582.3 177.7 583.1 175.8 C583.9 173.9 583.7 171.3 583.8 170.4"/>
<path stroke-width="4.2" d="M583.8 170.4 C583.7 172.7 583.4 179.7 583.1 184.0 C582.8 188.3 582.6 192.9 581.8 196.2 C581.0 199.5 579.8 202.4 578.4 203.7 C577.0 204.9 575.1 204.7 573.6 203.7 C572.1 202.7 570.7 199.6 569.6 197.6 C568.5 195.6 567.3 192.5 566.8 191.5"/>
<path stroke-width="4.2" d="M585.2 154.8 C585.4 156.7 585.9 162.6 586.5 166.3 C587.1 170.0 587.8 174.4 588.6 177.2 C589.4 180.0 589.6 183.8 591.3 183.3 C593.0 182.9 596.4 177.3 598.8 174.5 C601.2 171.7 604.0 168.5 605.6 166.3 C607.2 164.2 608.4 162.6 608.3 161.6 C608.2 160.6 606.5 159.6 604.9 160.2 C603.3 160.8 600.0 163.2 598.8 164.9 C597.5 166.6 596.7 168.7 597.4 170.4 C598.1 172.1 600.4 174.2 602.9 175.1 C605.4 176.0 609.5 175.9 612.4 175.8 C615.3 175.7 619.1 174.7 620.5 174.5"/>
<path stroke-width="4.0" d="M638.9 155.6 C638.3 157.0 635.9 161.0 635.5 164.1 C635.1 167.2 635.5 171.5 636.4 174.3 C637.2 177.1 638.6 179.7 640.6 181.1 C642.6 182.5 647.0 182.5 648.3 182.8"/>
<path stroke-width="3.0" d="M648.3 182.8 L700.0 181.5 L733.0 181.1 L767.1 180.8 L801.2 179.8 L825.0 180.3 L831.9 178.6 L838.7 175.2 L845.5 178.6 L852.3 180.3"/>
<path stroke-width="3.8" d="M857.4 143.3 C857.0 145.1 855.8 150.0 854.9 154.0 C854.0 158.0 852.9 163.1 852.3 167.5 C851.7 171.9 851.6 178.2 851.5 180.3"/>
<path stroke-width="5" d="M857.3 143.2 L857.5 143.6"/>
<path stroke-width="4.0" d="M643.6 109.2 C645.0 109.6 648.8 111.7 652.2 111.8 C655.6 111.9 660.6 111.0 664.1 110.1 C667.6 109.2 671.9 107.2 673.5 106.6"/>
<path stroke-width="4.0" d="M661.5 110.9 C661.2 112.9 660.5 118.8 659.8 122.8 C659.1 126.8 658.0 131.7 657.3 134.8 C656.6 137.9 656.5 141.6 655.6 141.6 C654.8 141.6 652.9 137.1 652.2 134.8 C651.5 132.5 651.4 129.1 651.3 128.0"/>
<path stroke-width="4.0" d="M665.8 112.6 C665.6 114.0 664.8 118.5 664.9 121.1 C665.0 123.7 665.3 127.0 666.6 128.0 C667.9 129.0 670.5 128.5 672.6 127.1 C674.7 125.7 677.7 121.4 679.4 119.4 C681.1 117.4 682.5 114.9 682.8 115.2 C683.1 115.5 681.1 119.0 681.1 121.1 C681.1 123.2 682.5 126.8 682.8 128.0"/>
<path stroke-width="4.0" d="M686.2 122.8 C687.6 122.5 692.2 121.9 694.8 121.1 C697.4 120.2 701.0 118.7 701.6 117.7 C702.2 116.7 699.9 115.3 698.2 115.2 C696.5 115.1 693.2 115.6 691.4 116.9 C689.5 118.2 687.4 120.8 687.1 122.8 C686.8 124.8 687.9 127.5 689.7 128.8 C691.6 130.1 695.5 130.6 698.2 130.5 C700.9 130.4 704.5 128.4 705.8 128.0"/>
<path stroke-width="4.2" d="M772.4 100.4 C772.2 101.7 771.1 105.1 771.2 108.3 C771.3 111.5 771.9 116.2 772.9 119.6 C773.9 123.0 776.0 128.3 777.5 128.7 C779.0 129.1 780.7 125.0 782.0 121.9 C783.3 118.8 784.3 110.6 785.4 110.0 C786.5 109.4 787.1 116.0 788.8 118.5 C790.5 121.0 793.1 123.8 795.6 124.7 C798.1 125.7 801.2 125.4 803.5 124.2 C805.8 123.0 808.1 120.4 809.2 117.4 C810.3 114.4 810.2 109.6 810.3 106.0 C810.4 102.4 809.8 97.6 809.7 95.9"/>
<path stroke-width="6" d="M772.4 100.2 L772.6 100.6"/>
<path stroke-width="6" d="M809.6 96.6 L809.8 97.2"/>
<path stroke-width="4.2" d="M809.0 103.0 C809.5 103.7 809.7 106.5 812.0 107.0 C814.3 107.5 820.5 106.3 822.8 105.8 C825.1 105.3 825.5 104.3 826.0 104.0"/>
<path stroke-width="4.8" d="M808.0 118.0 C809.7 117.2 814.7 114.7 818.0 113.0 C821.3 111.3 824.6 109.7 828.0 108.0 C831.4 106.3 836.8 103.6 838.6 102.7"/>
<path stroke-width="4" d="M812.0 119.5 C814.0 119.2 820.4 118.5 823.9 117.4 C827.4 116.3 830.4 114.8 833.0 112.8 C835.6 110.8 838.4 106.7 839.5 105.5"/>
<path stroke-width="4.2" d="M838.6 102.7 L842.0 89.6 L843.1 102.7 L846.5 116.2 L849.9 124.2"/>
<path stroke-width="4.0" d="M661.2 204.7 C660.9 206.4 659.7 211.3 659.5 214.9 C659.3 218.5 659.0 224.2 660.1 226.2 C661.2 228.2 663.9 227.9 666.3 226.8 C668.7 225.7 672.1 222.0 674.3 219.4 C676.5 216.8 678.0 213.2 679.3 211.5 C680.6 209.8 681.5 208.7 682.2 209.3 C682.9 209.9 682.6 213.2 683.3 214.9 C683.9 216.6 685.0 220.3 686.1 219.4 C687.2 218.5 688.5 211.9 690.1 209.3 C691.7 206.7 694.1 203.8 695.8 203.6 C697.5 203.4 698.7 205.6 700.3 208.1 C701.9 210.6 704.5 216.6 705.4 218.3"/>
<path stroke-width="4.0" d="M722.9 201.3 C721.8 202.2 718.0 204.7 716.2 207.0 C714.4 209.3 712.4 212.6 712.2 214.9 C712.0 217.2 713.4 219.8 715.0 220.6 C716.6 221.3 720.7 219.6 721.8 219.4"/>
<path stroke-width="4.0" d="M725.2 213.8 C726.7 213.5 731.6 213.1 734.3 212.1 C736.9 211.1 740.7 209.1 741.1 208.1 C741.5 207.1 738.2 205.6 736.5 205.9 C734.8 206.2 732.2 208.1 730.9 209.8 C729.6 211.5 728.4 213.8 728.6 216.0 C728.8 218.2 730.3 221.8 732.0 222.8 C733.7 223.9 736.5 223.2 738.8 222.3 C741.1 221.4 743.6 219.6 745.6 217.2 C747.6 214.8 749.6 208.2 750.8 208.1 C751.9 208.0 751.1 216.6 752.5 216.6 C753.9 216.6 756.6 210.1 759.3 208.1 C762.0 206.1 767.1 205.3 768.7 204.7"/>
<path stroke-width="4.0" d="M770.4 199.6 C770.4 202.0 770.3 210.1 770.4 214.1 C770.5 218.1 771.1 221.9 771.2 223.5"/>
<path stroke-width="4.0" d="M760.0 206.8 L792.7 203.9"/>
<path stroke-width="4.0" d="M789.2 212.4 C788.2 213.1 784.1 215.0 783.3 216.6 C782.4 218.2 782.8 221.2 784.1 221.8 C785.4 222.4 789.0 221.4 791.0 220.1 C793.0 218.8 794.8 215.5 796.1 214.1 C797.4 212.7 798.3 210.8 798.6 211.5 C798.9 212.2 797.4 216.5 797.8 218.3 C798.2 220.2 800.6 221.9 801.2 222.6"/>
<path stroke-width="4.0" d="M804.6 212.4 C804.7 213.5 804.8 217.5 805.4 219.2 C806.0 220.9 807.6 222.0 808.0 222.6"/>
<path stroke-width="3.8" d="M812.3 198.7 L814.0 201.3"/>
<path stroke-width="4.0" d="M812.3 213.2 C813.0 215.3 815.5 225.3 816.5 226.0 C817.5 226.7 816.8 220.3 818.2 217.5 C819.6 214.7 822.9 210.8 825.0 209.0 C827.1 207.2 829.6 205.6 831.0 206.4 C832.4 207.2 833.0 211.0 833.6 214.1 C834.2 217.2 834.3 223.3 834.4 225.2"/>
<path stroke-width="4.0" d="M682.5 237.4 C682.6 239.1 683.8 244.3 683.3 247.7 C682.8 251.1 680.6 255.2 679.6 258.0 C678.6 260.8 676.5 262.8 677.4 264.6 C678.2 266.4 682.0 268.8 684.7 269.0 C687.4 269.2 691.5 267.8 693.6 266.1 C695.7 264.4 697.1 261.0 697.2 258.7 C697.3 256.4 696.1 253.4 694.3 252.1 C692.5 250.8 688.5 250.1 686.2 250.6 C683.9 251.1 681.3 254.3 680.3 255.0"/>
<path stroke-width="4.0" d="M701.7 255.0 C701.7 256.2 700.9 260.3 701.7 262.4 C702.6 264.5 704.7 267.1 706.8 267.6 C708.9 268.1 711.9 266.9 714.2 265.3 C716.5 263.7 719.0 260.2 720.8 258.0 C722.6 255.8 724.5 253.1 725.2 252.1"/>
<path stroke-width="4.0" d="M732.6 244.0 C733.0 245.3 733.4 249.0 734.8 252.1 C736.1 255.2 738.7 259.8 740.7 262.4 C742.7 265.0 745.0 267.5 746.6 267.6 C748.2 267.7 749.7 263.9 750.3 263.1"/>
<path stroke-width="4.0" d="M725.2 252.1 C726.8 251.7 731.0 250.2 734.8 249.9 C738.6 249.7 745.9 250.5 748.1 250.6"/>
<path stroke-width="4.0" d="M759.8 238.8 C760.2 240.5 760.9 245.4 762.0 249.1 C763.1 252.8 764.6 260.4 766.5 260.9 C768.4 261.4 771.0 254.1 773.1 252.1 C775.2 250.1 777.3 248.4 779.0 249.1 C780.7 249.8 782.2 254.2 783.4 256.5 C784.6 258.8 784.6 263.6 786.3 263.1 C788.0 262.6 791.5 256.3 793.7 253.6 C795.9 250.9 798.6 246.7 799.6 246.9 C800.6 247.1 799.2 252.5 799.5 255.0 C799.8 257.5 800.1 260.1 801.5 261.8 C802.9 263.5 806.9 264.6 808.0 265.2"/>
<path stroke-width="4.0" d="M816.5 242.2 C816.2 243.5 814.8 247.6 814.8 249.9 C814.8 252.2 814.8 255.0 816.5 255.8 C818.2 256.7 822.4 254.8 825.0 255.0 C827.6 255.2 831.3 255.3 831.9 256.7 C832.5 258.1 830.4 261.5 828.4 263.5 C826.4 265.5 822.4 267.6 819.9 268.6 C817.4 269.6 814.2 269.4 813.1 269.5"/>
<path stroke-width="4.0" d="M689.2 324.8 C689.4 321.9 689.8 312.8 690.1 307.7 C690.4 302.6 690.0 297.4 690.9 294.1 C691.8 290.8 693.2 289.0 695.2 288.1 C697.2 287.2 700.7 287.7 702.8 289.0 C704.9 290.3 707.7 293.5 708.0 295.8 C708.3 298.1 706.2 301.0 704.5 302.6 C702.8 304.2 699.7 305.2 697.7 305.2 C695.7 305.2 693.5 303.0 692.6 302.6"/>
<path stroke-width="4.4" d="M706.2 304.3 C707.6 303.4 712.2 299.9 714.8 299.2 C717.4 298.5 720.8 299.1 721.6 300.1 C722.5 301.1 721.6 303.9 719.9 305.2 C718.2 306.5 713.7 307.8 711.4 307.7 C709.1 307.6 707.1 304.9 706.2 304.3"/>
<path stroke-width="4.0" d="M727.6 280.5 C727.9 282.8 728.6 288.4 729.3 294.1 C730.0 299.8 731.4 311.1 731.8 314.5"/>
<path stroke-width="4.0" d="M721.6 300.1 L737.0 297.2"/>
<path stroke-width="4.0" d="M735.2 309.4 C736.6 308.5 741.1 306.3 743.7 304.3 C746.3 302.3 750.3 299.1 750.6 297.5 C750.9 295.9 747.4 294.7 745.4 295.0 C743.4 295.3 740.3 296.8 738.6 299.2 C736.9 301.6 734.6 307.3 735.2 309.4 C735.8 311.5 739.4 312.1 742.0 312.0 C744.6 311.9 748.4 310.4 750.6 308.6 C752.8 306.9 753.8 301.0 755.0 301.5 C756.2 302.0 756.2 309.9 757.7 311.5 C759.2 313.1 762.3 312.4 764.3 310.8 C766.3 309.2 768.3 301.6 769.5 301.7 C770.7 301.8 770.9 309.6 771.7 311.5 C772.6 313.4 774.1 312.8 774.6 313.0"/>
<path stroke-width="4.0" d="M788.6 282.5 C788.7 284.8 789.2 291.7 789.3 296.5 C789.4 301.3 789.3 308.8 789.3 311.2"/>
<path stroke-width="4.0" d="M782.5 298.2 L798.9 297.2 L810.0 296.3"/>
<path stroke-width="4.0" d="M806.3 297.2 C806.4 298.6 806.9 302.8 807.0 305.3 C807.1 307.8 807.0 310.9 807.0 312.0"/>
<path stroke-width="4.0" d="M825.4 298.0 C824.2 298.6 819.9 300.2 818.1 301.7 C816.3 303.2 814.2 305.9 814.4 306.8 C814.6 307.7 817.4 307.8 819.5 306.8 C821.6 305.8 825.2 302.4 826.9 300.9 C828.6 299.4 829.3 297.5 829.8 298.0 C830.3 298.5 829.2 302.4 829.8 303.9 C830.4 305.4 832.9 306.3 833.5 306.8"/>
<path stroke-width="4.0" d="M837.2 278.8 C837.4 281.0 838.3 286.3 838.4 292.1 C838.5 297.9 838.0 309.8 837.9 313.4"/>
<path stroke-width="5.5" d="M837.1 278.6 L837.3 279.0"/>
<path stroke-width="4.0" d="M865.2 271.5 C865.0 273.2 864.2 278.7 863.7 281.8 C863.2 284.9 862.5 288.5 862.2 289.9"/>
<path stroke-width="4.4" d="M856.3 305.3 L857.1 309.8"/>
</g>
</svg>
</body></html>
